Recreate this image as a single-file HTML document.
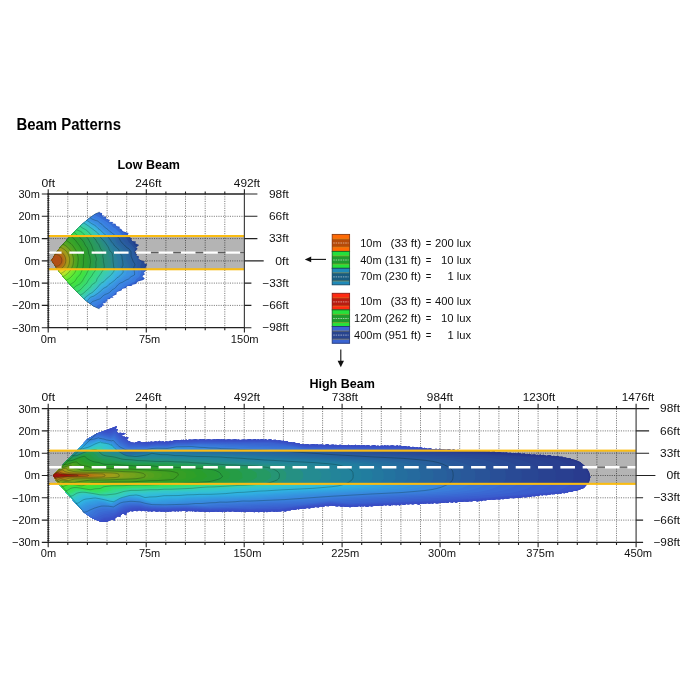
<!DOCTYPE html>
<html lang="en"><head><meta charset="utf-8"><title>Beam Patterns</title>
<style>html,body{margin:0;padding:0;background:#fff}svg{display:block}</style>
</head><body>
<svg width="700" height="700" viewBox="0 0 700 700" font-family="'Liberation Sans', sans-serif" font-size="11" fill="#111">
<rect width="700" height="700" fill="#fff"/>
<text x="16.4" y="130" font-weight="bold" textLength="104.6" lengthAdjust="spacingAndGlyphs" font-size="16" fill="#000">Beam Patterns</text>
<text x="117.4" y="168.9" font-weight="bold" textLength="62.6" lengthAdjust="spacingAndGlyphs" font-size="12" fill="#000">Low Beam</text>
<text x="309.4" y="388" font-weight="bold" textLength="65.5" lengthAdjust="spacingAndGlyphs" font-size="12" fill="#000">High Beam</text>
<g>
<path d="M67.8,194 V327.7 M87.4,194 V327.7 M107.1,194 V327.7 M126.7,194 V327.7 M146.3,194 V327.7 M165.9,194 V327.7 M185.5,194 V327.7 M205.2,194 V327.7 M224.8,194 V327.7 M48.2,216.3 H244.4 M48.2,238.6 H244.4 M48.2,260.9 H244.4 M48.2,283.1 H244.4 M48.2,305.4 H244.4" fill="none" stroke="#7c7c7c" stroke-width="1" stroke-dasharray="1.1 1.2"/>
<clipPath id="cl"><rect x="48.2" y="194" width="196.2" height="133.7"/></clipPath>
<g clip-path="url(#cl)">
<path d="M48.2,252.6 H244.4" stroke="#6a6a6a" stroke-width=".9" fill="none"/>
<clipPath id="lbe"><path d="M51.5,260.2 54.8,254.8 58.6,249.3 64,243 70.8,235.5 78.7,227.4 81.5,224.7 88.8,218.5 95,214.1 99.4,211.9 100.1,212.5 100.3,212.8 101.9,213.1 102.2,213.8 101.9,215.3 104.4,215.5 102.4,216.7 106.2,216.6 105.8,218.5 110.1,220 108.7,221.8 113.4,221.9 112,223.6 115.5,223.7 116.4,226 119.7,226.7 119.6,228.4 121.4,229 122,230.2 123,231.3 128.5,233.1 128.3,234.1 127.4,235.6 131.6,238.2 131.4,238.7 131.5,239.2 132.1,241 136,241.6 135.3,243.2 139.2,245 136.2,247.6 137.6,248.7 134.9,251.7 134.8,252.3 137.2,254.4 136,255.5 139.1,256.6 138.3,258.8 140.4,260 145.3,261.8 143.7,263.1 147.2,264.4 145.6,267.4 146.8,269.4 145.5,271.2 143.4,272.9 145.3,274.1 142.8,275.8 142.3,276.3 144.8,278.5 144.3,279 143.3,280 138,281.4 135.8,284.1 131.4,284.9 132.5,285.9 126.8,286 126.3,288 122.3,288.7 121.5,290.6 116.7,292.1 116.5,294.6 112.3,296.3 113.6,297.7 110.6,297.8 110.1,299 108.2,299.3 106.6,299.8 107.6,301.6 105,301.8 106.1,302.9 102.3,303.2 104.2,305.3 101.8,305.9 102.1,306.3 102.2,307.1 100.3,307.5 100.1,308.2 99.8,308.5 98.4,308.6 93,305.9 85.8,300.6 83.7,298.7 75.7,290.7 66.3,280.5 63.8,277.5 57.1,269 51.5,260.6Z"/></clipPath>
<path d="M51.5,260.2 54.8,254.8 58.6,249.3 64,243 70.8,235.5 78.7,227.4 81.5,224.7 88.8,218.5 95,214.1 99.4,211.9 100.1,212.5 100.3,212.8 101.9,213.1 102.2,213.8 101.9,215.3 104.4,215.5 102.4,216.7 106.2,216.6 105.8,218.5 110.1,220 108.7,221.8 113.4,221.9 112,223.6 115.5,223.7 116.4,226 119.7,226.7 119.6,228.4 121.4,229 122,230.2 123,231.3 128.5,233.1 128.3,234.1 127.4,235.6 131.6,238.2 131.4,238.7 131.5,239.2 132.1,241 136,241.6 135.3,243.2 139.2,245 136.2,247.6 137.6,248.7 134.9,251.7 134.8,252.3 137.2,254.4 136,255.5 139.1,256.6 138.3,258.8 140.4,260 145.3,261.8 143.7,263.1 147.2,264.4 145.6,267.4 146.8,269.4 145.5,271.2 143.4,272.9 145.3,274.1 142.8,275.8 142.3,276.3 144.8,278.5 144.3,279 143.3,280 138,281.4 135.8,284.1 131.4,284.9 132.5,285.9 126.8,286 126.3,288 122.3,288.7 121.5,290.6 116.7,292.1 116.5,294.6 112.3,296.3 113.6,297.7 110.6,297.8 110.1,299 108.2,299.3 106.6,299.8 107.6,301.6 105,301.8 106.1,302.9 102.3,303.2 104.2,305.3 101.8,305.9 102.1,306.3 102.2,307.1 100.3,307.5 100.1,308.2 99.8,308.5 98.4,308.6 93,305.9 85.8,300.6 83.7,298.7 75.7,290.7 66.3,280.5 63.8,277.5 57.1,269 51.5,260.6Z" fill="#305ac6"/>
<g clip-path="url(#lbe)">
<path d="M49,205 86.1,205 89,207.6 91.5,208.6 92.5,209.1 95.5,211.8 96.5,212.5 99,214 100.5,215.4 104,217.1 105.5,218 110,221.8 115,225 119.5,229.1 121,230.7 125,233.4 127,235 129.9,239.5 132.6,241.5 134.5,244.9 135,245.4 136.5,246.4 136,248 134.6,251.5 134.8,252.5 140.1,260.5 143.2,262.5 144.7,264 144.9,264.5 145,268.5 145,270.5 144.2,272 144.1,272.5 142.3,275.5 142.2,276.5 143,278 137.5,280.7 133.5,283.3 128,285.4 117.5,291.6 112.5,296.3 108,298.7 102.7,304.5 99,308 97.5,310 96.5,310.7 93.1,312.5 90.5,314.3 88.5,315.1 84.8,316 49,316 49,205.5ZM138.4,247.5 138.5,247.4 139,247.7 139.7,248.5 142.5,254.4 142.8,255.5 142.7,258 143,258.9 144.7,260 145.1,260.5 145.4,261.5 145,261.6 144,260.8 141.5,259.4 136.6,252 136.5,251.5 138,247.7ZM145,274.5 145.1,274.5 145.3,275 145.4,276 145.1,277 145,277.1 144.5,276.8 144.1,276 144.5,275.3 144.9,275ZM130.2,286.5 130.8,286.5 130.5,286.8 128.5,288 125.8,290.5 123.2,292.5 119,294.7 115.1,297.5 114,297.9 113.9,297.5 118.6,293 121,291.7 126.5,288.4 127,288.2 128,287.5 128.5,287.4 128.8,287 130,286.8ZM113.4,298 113.8,298 113.5,298.1ZM111.4,299 111.7,299 111.5,299.2ZM110.3,299.5 111.2,299.5 110,300.8 108.5,301.6 108,301.8 107.9,301.5 109,300.2 110,299.8Z" fill="#356bd3"/>
<path d="M49,205 81,205 82.3,206 83.9,207.5 85.5,208.1 86.5,208.8 88.5,210.9 89.5,211.3 91.5,211.7 92.5,212.2 94,213.4 95.6,215.5 99.5,217.3 102,219 104.6,220.5 110.8,224.5 111.5,225.2 112.7,227 115.5,228.6 118.5,231.6 122.5,235.1 125.5,237.1 127.8,240.5 128.9,242.5 131,244.3 135,249 134.1,251.5 134.1,252 134.4,253 139.4,260.5 140,261.3 140.5,261.5 141,262 141.4,263 141.4,263.5 140.5,265 140.3,266 140.6,269 141.1,271.5 140.9,273 140.1,275 139.8,276 139.5,276.4 138.5,277.4 136.2,279 135.1,281 134.6,281.5 132,282.5 129.7,284 128.6,284.5 128,284.6 126,286 117,291.3 112,296 111.5,296.2 107.5,298.4 106.5,299.4 104,300.8 103.1,301.5 101.3,303.5 98.5,304.8 97.4,305.5 96.5,306.3 94.9,308.5 93.5,309.6 91.5,310.6 89,312 82.5,314.6 81.5,315.3 80.7,316 49,316 49,205.5Z" fill="#3a7ce0"/>
<path d="M49,205 72.1,205 73.5,205.8 76,206.4 78.5,207.9 80.5,208.8 82,209.6 85,210.3 85.5,210.7 87,212.6 89.5,214.5 91.5,216.3 93.5,217.5 94.5,218 95.5,218.3 97.5,218.6 98.5,218.9 99.3,219.5 101,221.1 103.4,222.5 105.5,224.4 108.3,226.5 110,228.9 110.6,229.5 111.5,230.1 114,231.3 115.7,233 118.5,234.9 119.9,236 120.8,237 122,238.8 126.2,243.5 127.5,244.7 130.3,246.5 131.3,247.5 132.3,249 133.2,250.5 133.6,253 134.1,254 136,256.4 137,258 137.2,259.5 137.2,262 137.7,264.5 137.7,265.5 137,268.5 138,270.3 138.1,271 137.8,274.5 137.6,275.5 137,276 135,277 133.5,278 132.4,279 131.2,280.5 130.5,281 128.5,282.1 125,283.5 123.6,284.5 121.1,287 114.5,291.1 111.9,293.5 108,295.8 105.5,296.9 104.5,297.5 102,299.9 101,300.6 99.5,301.6 97.5,302.5 96.1,303.5 95,304.5 94,306 93,307 90.5,307.8 90,308.3 89,309.6 88,310.5 86.5,311.2 84,311.9 80.5,313.2 79.3,314 77.5,316 75.2,316 74.2,315.5 73.5,315.4 73,315.5 72.2,316 49,316 49,205.5Z" fill="#3b84e1"/>
<path d="M49,205 56.1,205 57,205.4 58,205.6 60,205.4 63.5,205.4 64.5,205.7 66.5,206.6 69.5,206.6 70.5,206.8 76.2,209.5 79.5,210.6 80.5,211 85.5,213.8 88.3,216.5 92,219.1 94.5,220.2 97,220.8 98,221.3 99.8,223 102.2,224.5 104.5,227.2 107.9,229.5 110,231.7 112,233 113,234 114.5,235.1 118.6,237.5 119.3,238.5 120.5,241 122.1,243 124.3,245 126,247.1 127,247.8 128.4,248.5 129,249 130.8,251.5 131,252.5 131,255.5 131.2,256.5 133.1,261.5 134.5,263.5 134.9,264.5 134.7,265.5 134,266.6 133.8,267.5 133.8,268.5 134.5,272.5 134.6,274 134.4,275 131,276.7 128.5,279 126,280 122.5,282.2 120,283.1 117.5,285.2 115.5,287.7 114.5,288.4 112,289.9 110.1,292 108,293.4 105.5,294.3 104,295.1 102.5,296.3 101,298 100,298.8 99,299.2 97,299.8 95,300.7 93.5,301.1 92.5,301.5 89.5,304.6 87,307.6 86,308.5 83.5,309.5 82,310.2 79.5,310.7 77.5,312.1 76.5,312.5 73,313.4 70.5,314.8 68,315.3 66.2,316 54.2,316 53,315.6 52,315.5 50,316 49,316 49,205.5Z" fill="#3b8ce1"/>
<path d="M55.5,207.5 57,207.4 59.5,207.5 61,207.7 62.5,208 67.5,208.6 69.5,209.3 71.5,210.1 76.5,211.6 80,213.1 85,216.1 86.5,217.5 89,219.4 90.5,220.6 94,222.1 97.5,224.2 100,226.4 102,227.8 104,229.7 106.5,231.3 109,233.7 112,235.5 116.3,238.5 117.1,239.5 117.6,241.5 118.5,243 120,244.3 121.5,245.3 122.3,246 124.3,248.5 127,251.2 127.9,252.5 128.5,254.5 128.8,258.5 130.4,261.5 130.7,264 131.9,269.5 131.8,273 131.5,274 131.1,274.5 129.5,275.3 127.5,276.6 125.1,277.5 123,279.5 122,280.2 119,281.3 116,283.9 114,286.2 113.5,286.6 112,287.1 110.6,288 107.5,290.9 104,292.3 97.5,296.8 95,298.2 92,299.6 91,300.3 89.5,301.9 87.3,303.5 84,306.4 82,307.5 78.5,308.6 74.5,310.9 70,312.7 69,312.9 66.5,312.9 63.9,313.5 62,314.1 61,314.2 56.5,314.2 53,313.9 49,314.1 49,208.2 52,207.7 55.5,207.5Z" fill="#3b93e1"/>
<path d="M55.1,208.5 57,208.3 59,208.4 63,209.1 67,209.5 68.5,210 71,211 76.5,212.7 80.5,214.5 83,216 90,221.2 94,223.2 96.7,225 99,227.2 101.5,229 103.1,230.5 105.5,232.3 109.5,235.7 113,238 114.3,239 115.3,240.5 116.3,243 117,244.1 117.8,245 119.9,246.5 121,247.5 124.3,251.5 125.3,253 126.1,255 126.3,256.5 126.2,258.5 126.3,259.5 126.6,260.5 128.4,264.5 128.7,265.5 128.9,266.5 128.5,268.3 128,269.4 126.9,271 126.5,272 126.1,274 125.3,275 123.5,276.2 121.5,278.2 118,280.1 114.6,283 112.6,285 110.5,286.3 108.5,288 103,291.5 95,297 91.5,298.6 90.4,299.5 89,301.1 84,305.1 81.5,306.6 78,307.8 75,309.5 72,310.7 69.5,311.4 66.5,311.9 60.5,313.1 58.5,313.1 55,312.9 51.5,313.1 49,312.9 49,209.3 52,208.7 55,208.5Z" fill="#3b9ce1"/>
<path d="M55,209.5 58.5,209.4 63,210.1 66.5,210.3 67.5,210.6 70.5,211.9 75.7,213.5 78,214.6 80,215.4 82.5,216.7 86,219.4 88,220.6 89.5,221.8 91.5,223 94,224.4 96,225.7 98.5,228.2 100.5,229.7 102.5,231.6 107.4,235.5 108.4,236.5 109.5,237.8 111.5,239.6 112.5,241 113.5,242.2 115.2,245.5 117.5,247.2 119.5,249 120,250 120.4,252 120.6,252.5 122.7,255.5 123.1,259 124.6,262.5 125.6,264.5 125.8,265.5 125.7,266 124.5,267.2 124.2,268 124.1,272 124,273.1 123.5,273.7 121.7,275 120,277 117,278.8 115.3,280.5 113.3,282 111.5,283.6 109.5,285 108.2,286.5 107.6,287 104.5,288.6 101,291.6 94.5,296.1 93.5,296.6 91.5,297.3 90.5,297.9 89.5,298.9 88.3,300.5 84.5,303.6 80.5,305.9 78,306.8 75.5,308 71,310 64,311.4 59.5,312.1 57.5,312.1 54.5,311.8 51.5,312.1 49,311.8 49,210.2 52,209.7 55,209.5Z" fill="#3ba5e1"/>
<path d="M54.2,210.5 58.5,210.5 60.5,210.7 63.5,211.2 66,211.4 73.9,214 75.5,214.7 77.5,215.8 80.5,216.8 81.8,217.5 85,220 88,221.7 91.5,224.4 95.3,226.5 97.8,229 100,230.8 101.3,232 103.5,234.6 107.5,237.7 109.3,240 110.5,242.7 112.5,244.5 114.5,247.2 116.6,249 117.5,250 117.9,251 118.2,252.5 118.5,253.2 119,254 120.4,255.5 120.8,256.5 120.8,259 121.2,261 121.1,264.5 120.9,265 119.9,266 119.7,267 120,268 121,269.5 121.5,270.5 121.6,271.5 121.3,272.5 118.5,275.3 116.5,276.5 115,278.8 114,279.8 110.5,282.3 108.1,283.5 106.7,285.5 106.2,286 102.5,288 97.2,293 94,295.2 91,296.4 90,297 88.9,298 86.9,300.5 85,302.2 84,302.9 82,303.7 79.7,305 77.5,305.8 75.3,307 70.5,309 67.5,309.5 64,310.4 58.5,311 57,311 54.5,310.6 51.5,311 49,310.7 49,211 54,210.5Z" fill="#3bafe1"/>
<path d="M53.4,211.5 56,211.4 61.5,211.9 68,213.2 74,215.3 77,216.8 81.1,218.5 85,221.3 88.7,223.5 90.5,225.2 91.5,225.9 95,227.9 97.2,230 99.5,231.9 100.9,233.5 102,235.5 102.4,236 104.3,237.5 106.5,238.9 107.6,240 108.3,241 108.6,242.5 109.1,243.5 111.4,246 113.3,249.5 115.3,251.5 116,252.5 116.5,254 116.6,256.5 117.3,258.5 117.6,260 117.7,262.5 117.4,265 117.4,266 117.6,267 118.5,269.5 118.7,270.5 118.5,271.8 118.1,272.5 116.1,274 115.5,274.6 114.9,275.5 113.8,278 113,278.9 111,280.2 110,280.6 108.5,280.9 107.5,281.4 106.5,282.4 104.6,285 103.8,285.5 102,286.3 101,287 98.5,289.5 96.3,292 93.9,294 93,294.6 90.5,295.6 89,296.6 88,297.5 85.1,301 84,301.9 81,303 79,304 77,304.8 74.5,306.2 70.5,307.8 67.5,308.3 64,309.3 61,309.6 58,310 56.5,309.9 54,309.5 51,309.7 49,309.5 49,211.9 53,211.5Z" fill="#3bb7db"/>
<path d="M49.2,213 51,212.7 56,212.6 58.5,212.9 61.5,213 64.5,213.5 68,214.3 73.5,216.4 75.8,217.5 78.5,218.6 79.5,219.2 81.5,220.6 83.5,221.7 88,224.6 90.5,226.6 94.5,229.3 99,233 99.8,234 100.7,236 101.4,237 103,238.4 106,240.7 106.8,241.5 107.5,243.5 109.9,247 110.9,249.5 113.4,252 113.9,253 114.2,254 114.2,260.5 114.9,263.5 115.3,267 116.3,270 116,271 114.5,272.9 112.5,276.1 111.5,277.4 110.6,278 108.5,278.8 107.5,279.4 104.5,282.8 103.5,283.5 101.5,284.6 100.5,285.4 96.5,289.8 93.3,293 92.5,293.5 89.5,295.1 86.5,297.5 85.6,298.5 84.5,300.1 83.5,301 82.5,301.5 80.5,302.1 78.5,303 76.5,303.7 74,305.3 73,305.7 70,306.8 67.5,307.2 64.5,308 57.5,308.8 51.5,308.5 49,308.2 49,213Z" fill="#3bbdce"/>
<path d="M53.2,214 55.5,213.9 59,214.2 63,214.3 64.5,214.5 68,215.6 70.5,216.6 73,217.4 75.5,218.6 77.5,219.3 78.5,219.9 81,221.7 83.5,223 87.5,225.6 93.5,230 97.9,233.5 98.7,234.5 100,237.4 102.1,239.5 104.3,242 107.5,246.5 108.3,248 108.7,249.5 109.5,251 111.5,253.5 112.6,257.5 112.7,261 113.1,264.5 113.1,266.5 113.8,269 113.8,270 113.2,271.5 109.2,276 106.5,278.2 104,281.2 103,281.8 101.5,282.5 100.5,283.3 96.1,288.5 92.5,291.9 89,294.2 85.4,297 84.5,298 83.5,299.4 82.9,300 82,300.5 79.5,301.2 76.5,302.4 75.5,303 73.5,304.3 72,304.9 64.5,306.9 58.5,307.6 52.5,307.6 49,306.8 49,214.3 50.5,214.1 53,214Z" fill="#3bc3c2"/>
<path d="M49,215.5 54.5,215.1 63.5,215.4 64.5,215.6 67,216.5 72.5,218.3 78,220.8 81.5,223.2 87.7,227 90,229 93,231 95,233.2 97.5,235.4 98.8,238 100.8,240 102.9,242.5 104.3,245 105.6,247 108.1,252.5 108.9,256.5 109.1,257 110.5,258.3 110.8,259 110.9,260 111,263.5 110.9,265 109.6,270.5 108.9,272.5 108.3,273.5 105.7,276 103.5,279.3 102.7,280 101,281 100,281.8 97,285.8 92.8,290 91.5,291.1 88.5,293.1 85,295.9 82.5,298.5 82,298.9 78,300.3 75.5,301.6 72.5,303.3 71.5,303.7 68.5,304.2 65.5,305.3 63.5,305.8 58.5,306.4 56,306.4 53,306.7 52,306.5 49,305.5 49,216Z" fill="#3bc9b5"/>
<path d="M49.5,216.5 54,216.2 59,216.3 63,216.5 64,216.7 66.5,217.6 71,218.8 72.5,219.4 78.5,222.3 80,223.3 83,225.7 84.5,226.7 87.2,228 89.3,230 92.1,232 93.8,234.5 96,236 96.5,236.5 97.9,239 99.8,241 101.7,243.5 102.7,246 104.8,249 106.4,252.5 106.8,254.5 106.5,257.5 108,261.5 108,262.5 107.5,264.1 107.4,265.5 107.5,267.5 107.8,270.5 107.3,272 106.8,272.5 105,273.9 103.9,275 101.7,278 99.5,280 99,280.6 97.8,283 97,284 96,285 94,286.5 92.5,288.5 91.5,289.6 87,292.8 81.5,297.5 78,298.9 72.5,301.9 71,302.5 68,303 62.5,304.6 59,305.1 55.5,305 53,305.4 50.5,304.7 49,304.4 49,216.5Z" fill="#3bcdaa"/>
<path d="M50.7,217.5 53,217.2 56,217.3 58.5,217.3 63.5,218 66,218.7 69.5,219.4 71,219.8 75.5,222.1 78,223.2 79,223.8 81.8,226.5 83.5,227.6 86.5,229.1 88.5,231 91,233 93,235.7 95.4,237.5 97.5,240.7 100.1,244 101.4,247.5 103.6,250.5 104.5,252.5 104.7,253.5 104.8,254.5 104.2,257 105.1,260.5 105.1,263.5 105.6,267.5 105.6,270 105,270.8 103,272.7 98.5,278.6 97.9,279.5 97,282 96.5,282.8 95.5,283.7 93.8,284.5 93,285.1 91.2,288 90,289.2 86.5,291.7 83.5,294.2 81.5,295.7 78.5,297.2 73,300.4 71.5,301.1 69.5,301.7 64,302.7 61,303.7 58.5,303.9 55.5,303.7 53.5,303.7 49,303.3 49,217.7 50.5,217.5Z" fill="#3bd19f"/>
<path d="M51.4,218.5 53.5,218.2 58.5,218.4 69.5,220.5 71.5,221.2 74.5,223 78.1,224.5 79,225.2 80.1,226.5 81,227.3 85.5,230 86.5,230.7 89.6,233.5 92,236.5 94.6,239 95.4,240 96.6,242.5 98.2,244.5 100,248.6 101.7,251 102.3,252.5 102.5,253.5 102.3,256.5 102.9,259 102.9,261.5 103.8,265 103.7,267 102.9,269.5 100.3,273.5 96.8,278.5 95.7,281.5 94.7,282.5 93,283.4 92,284.2 89.5,287.3 87.5,288.9 84,292.4 83,293.2 81.5,294.1 79,295.2 76.5,297 72.5,299.4 70,300.5 68.5,300.9 64,301.4 61,302.5 60,302.7 58,302.7 53.5,302.3 49,302.2 49,219.1 51,218.6Z" fill="#3bd593"/>
<path d="M52.1,219.5 53.5,219.3 58.5,219.6 66.1,221 71,222.3 74,224.2 76.5,225 77.6,225.5 80.1,228 85.5,231.4 88.8,234.5 92.5,239.2 93.7,240.5 94,241 94.7,243 96.2,245 98.3,249.5 100,251.8 100.5,253 100.6,256.5 101.1,259 101.3,262 102,264.5 101.9,265.5 100.8,267.5 100.4,270 99.9,271.5 95.1,278.5 94,280.5 93.2,281.5 90.2,284 88.5,286 86.5,287.7 84.2,290.5 82.5,292.1 81.5,292.7 78.5,294.1 76,296.1 72.5,298.1 70.8,299 69,299.6 65.5,299.9 63,300.5 60.5,301.3 59.5,301.5 57,301.6 53.5,301.1 49,301.1 49,220.3 52,219.5Z" fill="#3bd988"/>
<path d="M51.1,221 53,220.7 58.5,220.7 65,221.9 68,223 70.5,223.6 76.5,226.5 78.8,228.5 83.8,231.5 85,232.5 87,234.5 90.3,238.5 92.4,242 93.4,244 94.6,246 95.7,248.5 97.9,252.5 98.6,254.5 98.9,257 99.4,259 99.5,260.5 99,263.5 99.1,265.5 98.7,268 98.5,270.4 98.1,271.5 97.5,272.5 95.1,276 92.3,279 90.7,281.5 89,283.3 87.8,285 85.5,287 84,288.9 82.5,290.5 81,291.7 78,293.1 75,295.3 72.1,297 70.5,297.8 69,298.3 65.5,298.6 62.5,299.3 60,300.1 57.5,300.5 56,300.4 52.5,299.9 49,299.8 49,221.5 51,221Z" fill="#3bda7f"/>
<path d="M54.4,222 57.5,221.8 59,221.9 62,222.7 64.5,223 67,224 70.5,224.9 74,226.5 75,227.2 77,229.1 81,230.9 83,232.3 85,234.5 86.5,235.9 88.7,238.5 92.1,244.5 92.8,246 93.8,249 95.2,251 95.6,252 96.2,254.5 97,256.5 97.6,259.5 97.4,260.5 96.7,262.5 97,266 96.3,270.5 96,271.3 94.2,273.5 91.9,277 89.5,280 87,284 84.8,286 83.5,287.7 82,289.2 80,290.9 74.3,294 70.5,296.4 69,296.9 62,298.1 59,299 57,299.3 56,299.2 51.5,298.3 49,298.5 49,222.8 52,222.2 54,222Z" fill="#3bdb77"/>
<path d="M52,223.5 56.5,223.1 58,223.1 61.5,223.9 64.5,224.2 67,225.2 69.5,225.8 71.1,226.5 73.5,228 77,230.5 80.5,232 81.5,232.6 82.3,233.5 83.5,235.1 85.5,236.8 86.6,238 90.4,244.5 91.1,246 92.3,249.5 94.1,252.5 94.4,255 95.2,257.5 95.5,259 95.1,262 95.2,265.5 94.6,270 94.1,271 92.6,273 90.7,276.5 88.5,278.9 86.5,282.5 85.7,283.5 83.9,285 82,287.1 79,290 77,291.2 73,293 70.3,295 69,295.4 64.5,296.4 62,296.8 58.5,297.7 57,297.8 51.5,297 49,297.3 49,224.3 52,223.5Z" fill="#3bdb6e"/>
<path d="M52.6,224.5 57.5,224.5 61,225.1 64,225.3 66.5,226.2 69,226.8 70.2,227.5 72.5,229.3 75,230.4 80.1,233.5 81.9,235.5 85,238.4 86.9,242 89.1,245 90.4,248.5 92.2,252.5 93.3,257 93.6,259.5 93.7,263.5 93.2,266.5 93.1,268.5 92.8,269.5 91.1,272.5 90,275 89.3,276 87.5,277.9 86,280.9 85,282.4 77.8,289 76.5,289.9 74,291 70,293.3 69,293.8 66,294.8 59,296.3 51.5,295.8 49,296 49,225.6 52.5,224.5Z" fill="#3bdc65"/>
<path d="M52.6,225.5 53.8,225.5 59,226.2 63.5,226.5 68,227.8 69.5,228.5 72,230.3 74.5,231.4 75.5,231.9 78.9,234.5 82.1,237.5 83.8,239.5 84.8,241 86.4,244 87.7,245.5 88.3,246.5 90.2,251.5 91.5,256.5 92.4,261.5 92.4,263 91.8,266 91.6,267.5 90.9,269.5 88.5,274.3 86.1,277.5 84.7,280.5 82,283.7 81,284.6 78.2,286.5 75.9,288.5 71,291.4 65.5,293.6 62.5,294.1 59.5,294.9 56.5,294.7 53.5,294.9 49,294.6 49,227 51.5,225.8 52.5,225.5Z" fill="#3ddd5c"/>
<path d="M51.6,227 52.5,226.6 53.5,226.5 57.5,227.4 61.5,227.7 66.5,228.7 68.5,229.4 71.5,231.2 74.5,232.5 75.9,233.5 78.4,236 80.7,238 83.3,241 84,242.1 85.4,245 87.3,247.5 88.2,249.5 88.5,251 88.9,253.5 90,256.5 90.8,261.5 90.8,262.5 89.9,268 86.2,275 84.8,277 83.6,279.5 81.5,282.6 80,284 78.5,285 76,286.3 74.1,288 71.5,289.8 70,290.5 67.5,291.3 65,292.5 62,292.9 59.5,293.5 56.5,293.5 53.5,293.8 49,293.1 49,228.5 50,228.1 51.5,227.1Z" fill="#3ede53"/>
<path d="M52.6,228 54,227.9 56.9,228.5 61,228.9 64,229.8 67,230.1 69,230.8 74.5,233.8 77,236.4 80,239.1 82.4,242 84,245.3 85.9,248 86.4,249 87.2,253 88.5,256.5 88.7,257.5 88.6,260 88.8,262.5 88.7,266 88.6,267 88,268.4 86,271.9 84.9,274.5 81,281 80.2,282 78.7,283.5 77.5,284.3 75,285.3 72.5,287.7 70.5,288.8 67.5,290 65,291.3 63.5,291.6 61,291.8 59,292.3 56.5,292.3 54,292.7 53,292.6 49,291.9 49,229.7 50.5,229.1 52.5,228Z" fill="#3fdf4a"/>
<path d="M52.9,229.5 54,229.4 59.5,229.8 61,230.1 63.5,231.1 67,231.3 68.7,232 73.5,234.7 79,239.8 80.5,241.4 81.3,242.5 82.7,245.5 84.7,249 85.5,252 87.1,256.5 87.1,257.5 86.9,260 87.2,264.5 87,266.5 85,270.8 84,273.5 81.5,277.8 78.2,282 77.3,283 74.5,284.4 71.5,286.8 65,290 64,290.4 61,290.6 58,291.1 54.5,291.3 53,291.3 49,290.7 49,230.9 52.5,229.6Z" fill="#41e143"/>
<path d="M52.5,231 56.5,230.7 58.5,230.8 60,231 63.5,232.2 67,232.6 68,233 71,234.7 73.5,236.3 76,238.5 78,240.5 79.4,242 80.1,243 83.4,249 85.6,256 85.5,259.5 85.7,263 85.5,265.5 83.1,272.5 81,276.3 78.6,279 76.9,281.5 75.9,282.5 71,285.8 64.5,288.9 63,289.4 60.5,289.5 57.5,290 54.5,290.1 50.5,289.7 49,289.4 49,232 52.5,231Z" fill="#44e242"/>
<path d="M54.7,232 56.5,231.9 58,232 60,232.4 62.5,233.1 66.5,233.7 70.5,235.7 73.5,237.8 75.9,240 78.5,243.3 80,245.4 82.5,249.8 83.2,252.5 84.2,255 84.3,256 84,259.5 84.2,262 84.1,263.5 83.5,267 82.1,271.5 81.2,273.5 80.3,275 79.5,276 77.5,278.1 75.3,281.5 74.1,282.5 70.5,284.8 64,287.7 62.5,288.1 56,288.9 54,288.9 50.5,288.5 49,288.2 49,233 54.5,232Z" fill="#47e440"/>
<path d="M52.8,233.5 55,233.1 56.5,233.1 61,234.2 65,234.7 66.5,235.1 69,236.2 71.3,237.5 73.1,239 74.5,240.4 76.5,243.5 78.4,245.5 79.1,246.5 81.4,250.5 82.1,253 82.9,255.5 82.9,257 82.4,260.5 82.5,263.5 82.3,266.5 81.1,270.5 79.4,274 78.6,275 76.5,277.2 74.3,280.5 73,281.8 69.4,284 68,284.7 62.5,286.7 61,287.1 55,287.8 51,287.3 49,286.8 49,234 52.5,233.6Z" fill="#4ae63e"/>
<path d="M53.4,234.5 55,234.3 56,234.3 61,235.6 64.5,236 68.5,237.4 70.5,238.6 73.5,241.4 75.6,244.5 78.2,247.5 80.1,251 81.6,256 81.6,258 81.2,261 81.3,264.5 81.1,266.5 80.3,269 78,273.7 75.5,276.5 74,278.6 73,279.8 68.6,283 67,283.8 63.5,284.9 61,285.9 60,286.2 55.5,286.5 54,286.5 51.4,286 49,285.1 49,235 53,234.6Z" fill="#4ee83c"/>
<path d="M49.8,236 54.5,235.5 56.5,235.7 61.5,237 64,237.3 65.5,237.7 67,238.3 69,239.5 71.5,241.4 72.8,242.5 77,248 78.8,251.5 80.3,256 80.4,258 80.1,261.5 80,265 79.8,266.5 79.3,268 77.3,272.5 76.6,273.5 74.5,275.9 72.5,278.5 71.3,279.5 67.9,282 66,282.9 63.5,283.6 60.5,284.7 59.5,284.9 55,285.2 53.5,285.2 52,284.9 49,283.7 49,236.2 49.5,236Z" fill="#55e83a"/>
<path d="M52.4,237 54.5,236.7 56.5,236.8 59,237.3 62,238.4 65,238.8 66.6,239.5 71,242.6 72.1,243.5 73.4,245 76.4,249.5 78,253 78.8,255.5 79.1,257 79.2,259.5 78.6,265.5 78.2,267 76.4,271.5 75.6,273 71.5,277.8 69.5,279.4 65.5,281.7 61,283.2 59,283.7 56,283.9 53.5,284 52,283.6 49,282.6 49,237.9 50.5,237.4 52,237.1Z" fill="#5de837"/>
<path d="M53.3,238 55,237.8 57.5,238 59,238.4 61.5,239.4 65,240 66,240.5 70.5,243.7 72.5,245.6 75.4,250 76.7,253 77.8,257 78,260.5 77.5,265 75.2,271.5 74.3,273 70.7,277 68.9,278.5 64,281.1 62,281.8 59,282.5 56.5,282.8 53.5,282.8 52,282.5 49,281.5 49,239.4 51.5,238.4 53,238.1Z" fill="#64e834"/>
<path d="M54.5,239 56.5,239 58,239.2 61.5,240.5 64.5,241.1 67.7,243 70.8,245.5 72,246.7 73,248 74.2,250 75,251.5 75.7,253.5 76.4,256 76.9,259.5 76.7,263.5 76.1,266 73.9,271.5 73.4,272.5 72,274.1 70.5,275.7 68.5,277.4 64.5,279.7 62,280.7 57,281.7 55,281.8 53,281.6 49,280.4 49,240.5 52,239.5 54,239.1Z" fill="#6ce831"/>
<path d="M52.6,240.5 55.5,240.1 57,240.2 58,240.4 64,242.2 66,243.2 67.5,244.1 71.5,247.7 73.1,250 74.6,253.5 75.4,256.5 75.8,258.5 75.8,261.5 75.6,264 75.2,265.5 72.9,271 71.5,273 70.2,274.5 67.8,276.5 64.5,278.5 62,279.5 57.5,280.5 55.5,280.7 53,280.5 51.5,280.2 49,279.3 49,241.6 52.5,240.5Z" fill="#78e830"/>
<path d="M53.2,241.5 56,241.3 58.5,241.7 63,243 65.5,244.1 67,245 70.8,248.5 71.9,250 72.7,251.5 73.8,254.5 74.5,257 74.8,259 74.8,262 74.5,264 74.2,265.5 71.9,270.5 70.1,273 69.1,274 66.7,276 63.5,277.9 61.5,278.6 57,279.5 55.5,279.7 52.5,279.3 49,278.2 49,242.6 53,241.5Z" fill="#87e82f"/>
<path d="M53.4,242.5 55,242.3 56.5,242.3 60.5,243.1 63.5,244.2 65.5,245.2 66.5,245.9 70,249.1 71.1,250.5 71.8,252 72.9,255 73.7,258 73.9,261 73.4,264.5 73,266 72.1,268 70.5,270.9 68.7,273 65.5,275.7 62.5,277.2 59.5,278.1 56.5,278.5 54,278.5 52,278.2 49,277.2 49,243.6 53,242.6Z" fill="#97e82e"/>
<path d="M53.1,243.5 55,243.2 56.5,243.2 60,243.9 62.5,244.7 65.8,246.5 69,249.5 70.2,251 70.8,252 71.8,254.5 72.7,257.5 72.9,260.5 72.6,264 72.2,265.5 71.4,267.5 70,270 67.9,272.5 65,274.9 62,276.4 59.5,277.2 56.5,277.5 53.5,277.5 51.5,277.1 49,276.2 49,244.5 53,243.5Z" fill="#a6e82d"/>
<path d="M52.6,244.5 54.5,244.2 56,244.1 59.5,244.6 62,245.4 65,247 67,248.7 69.4,251.5 70,252.5 70.8,254.5 71.8,257.5 72,260 71.6,264 70.9,266.5 69.6,269 67.5,271.7 65,273.8 62,275.5 59.5,276.3 56.5,276.6 53.5,276.5 51.5,276.1 49,275.2 49,245.5 52.5,244.5Z" fill="#b5e82c"/>
<path d="M55.4,245 58,245.2 61,245.9 64,247.4 66,248.8 68.4,251.5 69.3,253 70.7,256.5 71,258 71.1,259.5 70.8,263.5 70.3,265.5 69.3,268 67.4,270.5 65,272.8 62.5,274.4 60,275.3 56.5,275.7 54,275.7 52.5,275.5 50.5,274.9 49,274.2 49,246.4 52,245.5 55,245Z" fill="#c0e52b"/>
<path d="M53.5,246 56.5,245.9 60,246.4 62,247.2 65,249.1 66.5,250.5 68.4,253 69.6,256 70.3,258.5 70.3,260.5 69.9,264 68.8,267 67.6,269 65.8,271 63.3,273 60.5,274.3 58,274.8 55.5,275 53.5,274.9 51.5,274.3 49,273.2 49,247.3 51.5,246.4 53.5,246Z" fill="#cbe32a"/>
<path d="M52.4,247 55.5,246.7 58.5,246.9 60.5,247.4 63,248.7 65,250.1 67,252.3 68,254 69.1,257 69.6,259.5 69.4,262.5 68.8,265 67.6,267.5 66,269.7 63.5,271.9 62,272.8 59.5,273.7 56.5,274.2 54,274.1 51.5,273.5 49,272.3 49,248.2 52,247.1Z" fill="#d5e12a"/>
<path d="M54.1,247.5 57,247.5 59.5,247.9 61.5,248.7 64,250.3 65.8,252 67,253.7 68.2,256.5 68.8,259 68.8,261.5 68.3,264 67.3,266.5 66,268.5 64,270.5 61.9,272 59.5,272.9 56.5,273.4 54.5,273.4 53,273.2 51,272.5 49,271.4 49,249.2 50,248.6 51.5,248 54,247.5Z" fill="#e0df29"/>
<path d="M52.6,248.5 55,248.2 58,248.3 60,248.8 62,249.8 63.7,251 65.6,253 66.8,255 67.7,257.5 68.1,260 68,262 67.3,264.5 66.2,267 64.5,269 62.5,270.7 60.5,271.8 58.5,272.4 56,272.8 53.5,272.5 51,271.7 49,270.6 49,250.2 50.5,249.2 52.5,248.5Z" fill="#ebdc28"/>
<path d="M53.8,249 56.5,248.9 58.5,249.1 60.5,249.8 62.5,250.9 64.3,252.5 65.8,254.5 66.7,256.5 67.3,259 67.4,261 67.1,263 66.2,265.5 65,267.4 63.5,269 61.5,270.5 59.5,271.4 57.5,271.9 55,272 53,271.7 51,270.9 49,269.7 49,251.1 51,249.8 52,249.4 53.5,249Z" fill="#efd327"/>
<path d="M52.5,250 54.5,249.6 57,249.6 59,249.9 61,250.7 62.5,251.7 64.2,253.5 65.3,255 66.2,257 66.7,259.5 66.7,261.5 66.3,263.5 65.4,265.5 64,267.5 62.5,268.9 61,270 59,270.9 56.5,271.4 54,271.2 51.5,270.4 49,268.8 49,251.9 50.5,250.9 52,250.2Z" fill="#f1ca26"/>
<path d="M53.1,250.5 55,250.2 57.5,250.3 59.5,250.8 61,251.4 62.5,252.6 64.2,254.5 65.1,256 65.8,258 66.1,260 66,262 65.4,264 64.5,265.7 63.1,267.5 61.5,268.9 60,269.8 58,270.5 55.5,270.7 53,270.3 51,269.4 49,268 49,252.8 51,251.3 53,250.5Z" fill="#f4c025"/>
<path d="M53.8,251 55.5,250.8 57.5,250.9 59.5,251.4 61,252.2 62.5,253.4 63.8,255 64.6,256.5 65.3,258.5 65.5,260.5 65.4,262 64.7,264 63.9,265.5 62.5,267.2 61,268.5 59.5,269.3 57.5,269.9 55.5,270.1 53,269.6 51,268.7 49,267.1 49,253.6 50,252.7 51.5,251.8 53.5,251Z" fill="#f7b623"/>
<path d="M54.3,251.5 56,251.4 58,251.6 59.5,252.1 61,252.9 62.5,254.3 63.7,256 64.4,257.5 64.9,259.5 64.9,261 64.6,262.5 63.8,264.5 62.8,266 61.5,267.4 60,268.4 58.5,269 57,269.4 54.5,269.4 52.5,268.8 50.5,267.6 49,266.3 49,254.4 50,253.5 51.5,252.4 52.5,252 54,251.6Z" fill="#faac22"/>
<path d="M54.9,252 56.5,252 58,252.2 59.5,252.7 61,253.7 62.3,255 63.3,256.5 64,258 64.3,259.5 64.3,261 64,262.5 63.4,264 62.5,265.5 61.5,266.6 60,267.7 58.5,268.4 57,268.8 54.5,268.8 52.5,268.2 50.5,266.9 49,265.4 49,255.3 50,254.2 51.5,253.1 53,252.4 54.5,252Z" fill="#fca321"/>
<path d="M52.9,253 54.5,252.6 56,252.5 57.5,252.7 59,253.1 60.5,254 61.5,254.9 62.4,256 63.2,257.5 63.7,259 63.8,260.5 63.6,262 63.1,263.5 62.2,265 61.4,266 60.2,267 59,267.6 58,268 56.5,268.3 55,268.2 53.5,268 52,267.3 51,266.7 49.8,265.5 49,264.5 49,256.3 50.5,254.5 51.5,253.7 52.5,253.2Z" fill="#ff9920"/>
<path d="M53,253.5 54.5,253.1 56,253 57.5,253.2 59,253.7 60.3,254.5 61.3,255.5 62.1,256.5 62.9,258 63.1,259 63.3,260.5 63.1,262 62.5,263.5 62,264.5 61,265.7 60,266.5 58.5,267.3 57.5,267.6 56,267.7 54.5,267.6 53,267.2 51.7,266.5 50.5,265.5 49.6,264.5 49,263.3 49,257.4 49.8,256 50.7,255 52,254 53,253.5Z" fill="#ff9321"/>
<path d="M53.1,254 54.5,253.6 56,253.5 57.5,253.8 58.5,254.1 59.5,254.6 60.6,255.5 61.5,256.5 62.3,258 62.6,259 62.8,260.5 62.7,261.5 62.2,263 61.4,264.5 60.5,265.5 59.5,266.2 58.5,266.7 57,267.2 55.5,267.2 54,267 53,266.7 51.8,266 50.7,265 49.9,264 49.4,263 49,261.6 49,259.1 49.3,258 50,256.6 50.9,255.5 52,254.6 53,254.1Z" fill="#ff8c22"/>
<path d="M55.5,254 57,254.1 58,254.4 59,254.9 60,255.6 60.9,256.5 61.5,257.5 62,258.5 62.3,260 62.2,261 61.9,262.5 61.4,263.5 60.8,264.5 60,265.3 59,266 58,266.4 56.5,266.7 55,266.7 54,266.5 53,266.2 51.9,265.5 50.9,264.5 50.2,263.5 49.7,262.5 49.4,261 49.4,260 49.6,258.5 50.1,257.5 50.7,256.5 51.5,255.6 52.5,254.8 53.5,254.4 55,254Z" fill="#ff8523"/>
<path d="M55,254.5 56,254.5 57.5,254.7 58.5,255.1 59.5,255.8 60.3,256.5 61,257.5 61.5,258.5 61.8,259.5 61.8,260.5 61.6,262 61.2,263 60.6,264 60,264.7 59,265.4 58,265.9 57,266.2 55.5,266.3 54.5,266.2 53.5,265.9 52.5,265.4 51.5,264.5 50.7,263.5 50.2,262.5 49.9,261.5 49.8,260 50,259 50.3,258 50.9,257 51.7,256 52.5,255.4 53.5,254.9 54.5,254.6Z" fill="#ff7f23"/>
<path d="M54.7,255 56,254.9 57,255.1 58,255.4 59,256 59.6,256.5 60.5,257.5 61,258.5 61.3,259.5 61.4,260.5 61.2,261.5 60.9,262.5 60.4,263.5 59,264.9 58,265.5 57,265.8 55,265.8 54,265.6 52.8,265 52,264.4 51.2,263.5 50.7,262.5 50.4,261.5 50.3,260.5 50.3,259.5 50.6,258.5 51.1,257.5 51.9,256.5 52.5,255.9 53.5,255.3 54.5,255Z" fill="#ff7924"/>
<path d="M54.4,255.5 55.5,255.3 56.5,255.4 58.3,256 59,256.5 60,257.5 60.7,259 60.9,260 60.9,261 60.6,262 60.2,263 59,264.4 57.5,265.2 56.5,265.4 55.5,265.5 54.5,265.3 53.5,264.9 52,263.8 51.4,263 51,262 50.7,261 50.7,260 50.9,259 51.3,258 52.5,256.5 54,255.6Z" fill="#fe7623"/>
<path d="M54.2,256 55,255.8 56,255.7 57,255.9 58,256.3 59.4,257.5 60.3,259 60.5,260.5 60.4,261.5 60,262.5 59,263.8 57.5,264.8 56.5,265 55.5,265.1 54,264.7 52.5,263.7 51.9,263 51.4,262 51.1,261 51.1,260 51.5,258.5 52.5,257 54,256.1Z" fill="#fd7322"/>
<path d="M54,256.5 55.5,256.1 57,256.3 58.5,257.1 59.6,258.5 60.1,260 59.9,261.5 59.2,263 58,264.1 56.5,264.6 55.5,264.7 54.5,264.5 53,263.7 52,262.5 51.5,261 51.6,259.5 52.2,258 53.5,256.7Z" fill="#fc7021"/>
<path d="M54.7,254.5 56,254.4 57,254.6 58,254.9 59.2,255.5 60.3,256.5 61,257.4 61.5,258.5 61.8,259.5 61.8,260.5 61.6,262 61.2,263 60.6,264 60,264.7 59,265.5 58,266 57,266.2 55.5,266.3 54.5,266.2 53.5,265.9 52.5,265.4 51.4,264.5 50.7,263.5 50.2,262.5 49.9,261.5 49.8,260 50,259 50.3,258 50.8,257 51.7,256 52.5,255.3 53.5,254.8 54.7,254.5M49,253.2 51.5,251.5 52.5,251.1 54,250.7 57,250.6 58.5,250.8 60,251.4 61,251.9 62,252.6 63,253.6 64.1,255 64.7,256 65.3,257.5 65.6,259 65.8,260.5 65.7,261.5 65.4,263 64.8,264.5 63.9,266 62,268 61,268.8 59.5,269.6 58.5,270 57,270.3 55.5,270.3 54,270.2 52.5,269.7 51.5,269.3 50,268.3 49,267.5M49,248 50.5,247.4 52.5,246.8 54,246.6 56,246.5 58,246.7 59.5,247 61,247.5 62.5,248.3 65.1,250 66.5,251.5 67.6,253 68.6,255 69.3,257 69.6,258.5 69.7,260 69.5,262 69.2,264 68.7,265.5 67.8,267.5 67,268.7 65.9,270 64.2,271.5 62.8,272.5 61.5,273.2 59.5,273.9 57.5,274.2 55,274.3 53.5,274.2 52,273.8 49,272.4M49,243.9 53.5,242.8 55.5,242.6 57,242.7 60,243.3 62,243.9 64.5,245 66,245.9 69.9,249.5 71,251 71.7,252.5 73.1,256.5 73.5,258.5 73.6,260.5 73.3,263.5 73,265 72.2,267 71,269.5 70,271 68.8,272.5 65.5,275.3 63.5,276.4 61.5,277.3 59.5,277.8 56.5,278.2 54.5,278.2 52.5,278 49,276.9M49,239.1 51.5,238.2 53.5,237.7 55.5,237.6 57.5,237.8 59,238.1 62,239.3 65,239.7 66,240.2 68.5,241.9 71,243.7 72.3,245 73.4,246.5 75.7,250 76.8,252.5 77.8,255.5 78.1,257 78.3,259.5 77.7,265 77.3,266.5 75.2,272 74.2,273.5 71.1,277 70,278 68.5,279 64.5,281.2 62,282 59,282.7 56.5,283 53.5,283.1 52,282.7 49,281.8M49,233.4 54.5,232.4 56,232.4 57.5,232.5 61.9,233.5 66,234.1 67.5,234.7 71,236.5 73.1,238 75,239.7 79.5,245.6 82.1,250 82.7,252.5 83.7,255 83.8,256 83.4,260 83.5,263 83.2,266 82.9,267.5 81.8,271 80.9,273 80,274.6 77,277.8 75.4,280.5 74.5,281.6 73.4,282.5 70,284.6 68,285.5 63,287.5 61,287.9 55,288.5 50.5,288.1 49,287.7M49,228.7 50,228.3 52,227 53,226.7 54,226.8 57.5,227.6 61.5,227.9 66.5,228.9 68,229.4 69.5,230.1 71.8,231.5 74.5,232.7 75.5,233.4 78.1,236 80.9,238.5 83,241 84,242.5 85.1,245 87.3,248 88.1,250 88.7,253.5 89.8,256.5 90.5,261 90.6,262 90.1,264.5 89.9,267 89.4,268.5 87.4,272 86.3,274.5 84.6,277 82.7,280.5 81.3,282.5 79.7,284 78,285 76,286 73.8,288 71.5,289.6 70,290.3 67.5,291.1 65,292.3 61.5,292.8 59.5,293.3 56.5,293.3 54,293.7 53,293.6 49,292.9M49,223.7 52.5,222.9 57.5,222.5 59,222.6 61.5,223.3 64.5,223.7 67,224.7 69.5,225.2 71,225.9 74,227.5 75.7,229 77,229.9 80.5,231.4 82,232.3 82.7,233 84,234.7 86.1,236.5 87.8,238.5 91.2,244.5 92,246.5 93,249.5 94.7,252 95.2,255 96.3,258 96.5,259.5 95.8,262 95.8,263 96,265.5 95.4,270 95,271 93.4,273 91.3,276.5 88.8,279.5 86.5,283.5 84.2,285.5 82.5,287.6 80,290 77.6,291.5 73.5,293.5 71,295.3 69.5,296 64.5,297 62,297.3 59,298.2 57.5,298.5 56,298.4 51.5,297.5 49,297.8M49,218.7 53,217.9 58.5,218.1 68.6,220 70.5,220.5 72,221.1 75,222.9 77.5,223.8 78.5,224.4 79.2,225 81,227 83,228.3 85.5,229.6 86.5,230.3 90,233.5 92,236 95.1,239 95.8,240 97,242.2 98.8,244.5 100.5,248.5 102.3,251 103,253 103,254 102.8,256.5 103.4,259 103.4,261.5 104,264.1 104.3,266.5 104.1,268 103.6,269.5 102.5,270.9 100.5,274 97.5,278.1 97,279 96.4,281 95.8,282 95,282.8 92.5,284.2 91.7,285 90.5,286.9 89.5,288 87.5,289.6 84,292.8 82.5,293.9 79,295.6 76.5,297.4 72.5,299.8 71,300.5 69.5,300.9 64,301.8 61.5,302.7 60,303 58,303 49,302.5M49,214 51,213.7 55,213.6 59,213.9 63.5,214.1 65,214.4 68,215.3 70.9,216.5 73,217.2 78,219.3 81,221.5 83.5,222.7 88,225.7 90.5,227.6 93.9,230 97.7,233 99,234.5 100.1,237 104.8,242 107.9,246.5 108.7,248 109.4,250 110,251 111.5,252.2 112.1,253 112.9,257 113,261 113.5,264.5 113.6,266.5 114.2,268.5 114.3,269.5 114.1,270.5 113.7,271.5 111.9,274 109.3,276.5 106.5,278.7 104,281.6 101.5,283 100.5,283.8 96.5,288.5 92.5,292.3 89.5,294.1 85.5,297.2 84.8,298 83.5,299.8 82.6,300.5 80,301.3 76.5,302.7 73.6,304.5 72.5,305 64.5,307.1 58.5,307.8 57,307.9 52.5,307.8 49,307.1M49,210.5 52,210.1 57.5,209.8 59.5,209.9 63,210.6 65.5,210.7 67,211 70,212.2 73,213 75.5,213.9 78,215.2 81,216.4 82.9,217.5 85.5,219.6 88,221.1 91.5,223.5 94.5,225.2 96,226.2 98,228.4 100.5,230.3 104.3,234 107,236 108,236.9 110.5,240 111.5,241.8 113.1,243.5 114.7,246 117.3,248 118.7,249.5 119.1,250.5 119.3,252 119.5,252.7 120,253.5 121.7,255.5 122,256.5 122.1,258.5 122.7,261 123,264.5 122.9,265.5 122,267 122,267.5 122.9,269.5 123.2,271.5 122.9,273 120.9,274.5 119.5,276.3 119,276.7 117,277.8 115.5,279.5 114.5,280.4 111,283.1 109,284.4 107.2,286.5 104.5,287.8 103.5,288.4 100.2,291.5 97.6,293.5 94.5,295.6 93.5,296.2 91.1,297 90.3,297.5 89.2,298.5 87.7,300.5 85,302.8 84,303.5 80.2,305.5 78,306.3 75.5,307.6 71.5,309.3 70,309.8 67,310.3 64,311 59,311.6 57.5,311.6 54.5,311.3 51.5,311.7 49,311.3M50.9,205 51.8,205M56.1,205 57,205.4 58,205.6 60,205.4 63.5,205.4 64.5,205.7 66.5,206.6 70,206.6 71,207 72.5,207.8 76.2,209.5 80,210.8 85,213.5 86.3,214.5 88.3,216.5 92,219.1 95,220.3 97.5,221 98,221.3 99.8,223 102,224.3 104.5,227.2 107.9,229.5 110,231.7 112,232.9 113.1,234 114.5,235.1 118.6,237.5 119.3,238.5 120.5,241 122.1,243 124.3,245 126,247 127,247.8 128.5,248.5 129,249 130.8,251.5 131,252.5 131,255.3 131.2,256.5 133.2,261.5 134.5,263.5 134.9,264.5 134.7,265.5 134,266.6 133.8,267.5 133.8,268.5 134.5,272.5 134.6,274 134.4,275 131,276.7 128.5,279 126,280 122.5,282.2 120,283.1 117.5,285.2 115.5,287.7 114.5,288.5 112,289.9 110.1,292 108,293.4 105.5,294.3 104,295.1 102.5,296.3 101,298 100,298.8 97,299.8 95,300.7 93.5,301.1 92.5,301.5 89.5,304.6 87,307.7 86,308.6 83.5,309.5 82,310.2 79.5,310.8 77.5,312.1 76.5,312.5 73,313.4 70.5,314.8 68,315.3 66.3,316M54.1,316 53,315.6 52,315.5 50,316" fill="none" stroke="#06281a" stroke-opacity=".55" stroke-width=".5" stroke-linejoin="round"/>
</g>
<path d="M51.5,260.2 54.8,254.8 58.6,249.3 64,243 70.8,235.5 78.7,227.4 81.5,224.7 88.8,218.5 95,214.1 99.4,211.9M51.5,260.6 57.1,269 63.8,277.5 66.3,280.5 75.7,290.7 83.7,298.7 85.8,300.6 93,305.9 99.3,309" fill="none" stroke="#0a3a1a" stroke-opacity=".45" stroke-width=".7"/>
<rect x="48.2" y="236" width="196.2" height="33.3" fill="#000" fill-opacity=".295"/>
<rect x="48.2" y="235" width="196.2" height="2.1" fill="#f9bc14"/>
<rect x="48.2" y="268.2" width="196.2" height="2.1" fill="#f9bc14"/>
<path d="M47,252.6 H244.4" stroke="#fff" stroke-width="2.4" stroke-dasharray="14.6 7.72" fill="none"/>
</g>
<path d="M47.6,194 H244.9 M47.6,327.7 H244.9" stroke="#222" stroke-width="1.3" fill="none"/>
<path d="M48.2,194 V327.7" stroke="#222" stroke-width="1.25" fill="none"/>
<path d="M244.4,194 V327.7" stroke="#444" stroke-width="1.2" fill="none"/>
<path d="M48.4,193.5 V327.7" stroke="#222" stroke-width="1.9" stroke-dasharray="1 1.2" fill="none"/>
<path d="M48.2,194 V189.2 M48.2,327.7 V332.5 M67.8,194 V191.5 M67.8,327.7 V330.2 M87.4,194 V191.5 M87.4,327.7 V330.2 M107.1,194 V191.5 M107.1,327.7 V330.2 M126.7,194 V191.5 M126.7,327.7 V330.2 M146.3,194 V189.2 M146.3,327.7 V332.5 M165.9,194 V191.5 M165.9,327.7 V330.2 M185.5,194 V191.5 M185.5,327.7 V330.2 M205.2,194 V191.5 M205.2,327.7 V330.2 M224.8,194 V191.5 M224.8,327.7 V330.2 M244.4,194 V189.2 M244.4,327.7 V332.5 M48.2,194 H41.8 M244.4,194 H257.4 M48.2,216.3 H41.8 M244.4,216.3 H257.4 M48.2,238.6 H41.8 M244.4,238.6 H257.4 M48.2,260.9 H41.8 M244.4,260.9 H263.7 M48.2,283.1 H41.8 M244.4,283.1 H251.4 M48.2,305.4 H41.8 M244.4,305.4 H251.4 M48.2,327.7 H41.8 M244.4,327.7 H251.4" stroke="#222" stroke-width="1.1" fill="none"/>
<text x="39.9" y="197.9" text-anchor="end" textLength="21.4" lengthAdjust="spacingAndGlyphs">30m</text>
<text x="288.8" y="197.6" text-anchor="end" textLength="19.9" lengthAdjust="spacingAndGlyphs">98ft</text>
<text x="39.9" y="220.2" text-anchor="end" textLength="21.4" lengthAdjust="spacingAndGlyphs">20m</text>
<text x="288.8" y="219.9" text-anchor="end" textLength="19.9" lengthAdjust="spacingAndGlyphs">66ft</text>
<text x="39.9" y="242.5" text-anchor="end" textLength="21.4" lengthAdjust="spacingAndGlyphs">10m</text>
<text x="288.8" y="242.2" text-anchor="end" textLength="19.9" lengthAdjust="spacingAndGlyphs">33ft</text>
<text x="39.9" y="264.8" text-anchor="end" textLength="15.4" lengthAdjust="spacingAndGlyphs">0m</text>
<text x="288.8" y="264.5" text-anchor="end" textLength="13.6" lengthAdjust="spacingAndGlyphs">0ft</text>
<text x="39.9" y="287" text-anchor="end" textLength="27.9" lengthAdjust="spacingAndGlyphs">−10m</text>
<text x="288.8" y="286.7" text-anchor="end" textLength="26.5" lengthAdjust="spacingAndGlyphs">−33ft</text>
<text x="39.9" y="309.3" text-anchor="end" textLength="27.9" lengthAdjust="spacingAndGlyphs">−20m</text>
<text x="288.8" y="309" text-anchor="end" textLength="26.5" lengthAdjust="spacingAndGlyphs">−66ft</text>
<text x="39.9" y="331.6" text-anchor="end" textLength="27.9" lengthAdjust="spacingAndGlyphs">−30m</text>
<text x="288.8" y="331.3" text-anchor="end" textLength="26.5" lengthAdjust="spacingAndGlyphs">−98ft</text>
<text x="48.3" y="186.5" text-anchor="middle" textLength="13.5" lengthAdjust="spacingAndGlyphs">0ft</text>
<text x="148.4" y="186.5" text-anchor="middle" textLength="26.3" lengthAdjust="spacingAndGlyphs">246ft</text>
<text x="247" y="186.5" text-anchor="middle" textLength="26.3" lengthAdjust="spacingAndGlyphs">492ft</text>
<text x="48.4" y="342.6" text-anchor="middle" textLength="15.3" lengthAdjust="spacingAndGlyphs">0m</text>
<text x="149.6" y="342.6" text-anchor="middle" textLength="21.4" lengthAdjust="spacingAndGlyphs">75m</text>
<text x="244.7" y="342.6" text-anchor="middle" textLength="27.9" lengthAdjust="spacingAndGlyphs">150m</text>
</g>
<rect x="332.2" y="234.4" width="17.4" height="17" fill="#ff6a05"/>
<rect x="332.2" y="238.9" width="17.4" height="8.2" fill="#b64a08"/>
<path d="M332.2,238.9 h17.4 M332.2,247.1 h17.4" stroke="#c9a02a" stroke-width=".6" stroke-opacity=".8" fill="none"/>
<path d="M333.2,243 h15.4" stroke="#fff" stroke-opacity=".75" stroke-width=".7" stroke-dasharray="1.6 .8" fill="none"/>
<rect x="332.2" y="234.4" width="17.4" height="17" fill="none" stroke="#8a3a10" stroke-width=".9"/>
<rect x="332.2" y="251.4" width="17.4" height="16.9" fill="#25e03c"/>
<rect x="332.2" y="255.9" width="17.4" height="8.2" fill="#1f9c2e"/>
<path d="M332.2,255.9 h17.4 M332.2,264.1 h17.4" stroke="#c9a02a" stroke-width=".6" stroke-opacity=".8" fill="none"/>
<path d="M333.2,260 h15.4" stroke="#fff" stroke-opacity=".75" stroke-width=".7" stroke-dasharray="1.6 .8" fill="none"/>
<rect x="332.2" y="251.4" width="17.4" height="16.9" fill="none" stroke="#1a6a28" stroke-width=".9"/>
<rect x="332.2" y="268.3" width="17.4" height="16.5" fill="#1f89b8"/>
<rect x="332.2" y="272.8" width="17.4" height="8.2" fill="#185c80"/>
<path d="M332.2,272.8 h17.4 M332.2,281 h17.4" stroke="#c9a02a" stroke-width=".6" stroke-opacity=".8" fill="none"/>
<path d="M333.2,276.9 h15.4" stroke="#fff" stroke-opacity=".75" stroke-width=".7" stroke-dasharray="1.6 .8" fill="none"/>
<rect x="332.2" y="268.3" width="17.4" height="16.5" fill="none" stroke="#164a66" stroke-width=".9"/>
<rect x="332.2" y="293.3" width="17.4" height="16.6" fill="#ff2a12"/>
<rect x="332.2" y="297.8" width="17.4" height="8.2" fill="#b81c10"/>
<path d="M332.2,297.8 h17.4 M332.2,306 h17.4" stroke="#c9a02a" stroke-width=".6" stroke-opacity=".8" fill="none"/>
<path d="M333.2,301.9 h15.4" stroke="#fff" stroke-opacity=".75" stroke-width=".7" stroke-dasharray="1.6 .8" fill="none"/>
<rect x="332.2" y="293.3" width="17.4" height="16.6" fill="none" stroke="#8a1a14" stroke-width=".9"/>
<rect x="332.2" y="309.9" width="17.4" height="16.6" fill="#25e03c"/>
<rect x="332.2" y="314.4" width="17.4" height="8.2" fill="#1f9c2e"/>
<path d="M332.2,314.4 h17.4 M332.2,322.6 h17.4" stroke="#c9a02a" stroke-width=".6" stroke-opacity=".8" fill="none"/>
<path d="M333.2,318.5 h15.4" stroke="#fff" stroke-opacity=".75" stroke-width=".7" stroke-dasharray="1.6 .8" fill="none"/>
<rect x="332.2" y="309.9" width="17.4" height="16.6" fill="none" stroke="#1a6a28" stroke-width=".9"/>
<rect x="332.2" y="326.5" width="17.4" height="16.8" fill="#3a64d2"/>
<rect x="332.2" y="331" width="17.4" height="8.2" fill="#28448e"/>
<path d="M332.2,331 h17.4 M332.2,339.2 h17.4" stroke="#c9a02a" stroke-width=".6" stroke-opacity=".8" fill="none"/>
<path d="M333.2,335.1 h15.4" stroke="#fff" stroke-opacity=".75" stroke-width=".7" stroke-dasharray="1.6 .8" fill="none"/>
<rect x="332.2" y="326.5" width="17.4" height="16.8" fill="none" stroke="#26397a" stroke-width=".9"/>
<path d="M326,259.4 H309" stroke="#111" stroke-width="1.1" fill="none"/><path d="M304.8,259.4 L311.2,256.6 V262.2Z" fill="#111"/>
<path d="M340.8,349.4 V362" stroke="#111" stroke-width="1.1" fill="none"/><path d="M340.8,367.2 L337.6,360.8 H344Z" fill="#111"/>
<text x="381.6" y="247.2" text-anchor="end" textLength="21.4" lengthAdjust="spacingAndGlyphs">10m</text>
<text x="421.1" y="247.2" text-anchor="end" textLength="30.6" lengthAdjust="spacingAndGlyphs">(33 ft)</text>
<text x="425.8" y="247.2" textLength="5.6" lengthAdjust="spacingAndGlyphs">=</text>
<text x="471.1" y="247.2" text-anchor="end" textLength="36.1" lengthAdjust="spacingAndGlyphs">200 lux</text>
<text x="381.6" y="263.5" text-anchor="end" textLength="21.4" lengthAdjust="spacingAndGlyphs">40m</text>
<text x="421.1" y="263.5" text-anchor="end" textLength="36.4" lengthAdjust="spacingAndGlyphs">(131 ft)</text>
<text x="425.8" y="263.5" textLength="5.6" lengthAdjust="spacingAndGlyphs">=</text>
<text x="471.1" y="263.5" text-anchor="end" textLength="30.1" lengthAdjust="spacingAndGlyphs">10 lux</text>
<text x="381.6" y="280.1" text-anchor="end" textLength="21.4" lengthAdjust="spacingAndGlyphs">70m</text>
<text x="421.1" y="280.1" text-anchor="end" textLength="36.4" lengthAdjust="spacingAndGlyphs">(230 ft)</text>
<text x="425.8" y="280.1" textLength="5.6" lengthAdjust="spacingAndGlyphs">=</text>
<text x="471.1" y="280.1" text-anchor="end" textLength="23.6" lengthAdjust="spacingAndGlyphs">1 lux</text>
<text x="381.6" y="305.2" text-anchor="end" textLength="21.4" lengthAdjust="spacingAndGlyphs">10m</text>
<text x="421.1" y="305.2" text-anchor="end" textLength="30.6" lengthAdjust="spacingAndGlyphs">(33 ft)</text>
<text x="425.8" y="305.2" textLength="5.6" lengthAdjust="spacingAndGlyphs">=</text>
<text x="471.1" y="305.2" text-anchor="end" textLength="36.1" lengthAdjust="spacingAndGlyphs">400 lux</text>
<text x="381.6" y="321.9" text-anchor="end" textLength="27.6" lengthAdjust="spacingAndGlyphs">120m</text>
<text x="421.1" y="321.9" text-anchor="end" textLength="36.4" lengthAdjust="spacingAndGlyphs">(262 ft)</text>
<text x="425.8" y="321.9" textLength="5.6" lengthAdjust="spacingAndGlyphs">=</text>
<text x="471.1" y="321.9" text-anchor="end" textLength="30.1" lengthAdjust="spacingAndGlyphs">10 lux</text>
<text x="381.6" y="338.7" text-anchor="end" textLength="27.6" lengthAdjust="spacingAndGlyphs">400m</text>
<text x="421.1" y="338.7" text-anchor="end" textLength="36.4" lengthAdjust="spacingAndGlyphs">(951 ft)</text>
<text x="425.8" y="338.7" textLength="5.6" lengthAdjust="spacingAndGlyphs">=</text>
<text x="471.1" y="338.7" text-anchor="end" textLength="23.6" lengthAdjust="spacingAndGlyphs">1 lux</text>
<g>
<path d="M67.8,408.6 V542.4 M87.4,408.6 V542.4 M107,408.6 V542.4 M126.6,408.6 V542.4 M146.2,408.6 V542.4 M165.8,408.6 V542.4 M185.4,408.6 V542.4 M205,408.6 V542.4 M224.6,408.6 V542.4 M244.2,408.6 V542.4 M263.8,408.6 V542.4 M283.4,408.6 V542.4 M303,408.6 V542.4 M322.6,408.6 V542.4 M342.1,408.6 V542.4 M361.7,408.6 V542.4 M381.3,408.6 V542.4 M400.9,408.6 V542.4 M420.5,408.6 V542.4 M440.1,408.6 V542.4 M459.7,408.6 V542.4 M479.3,408.6 V542.4 M498.9,408.6 V542.4 M518.5,408.6 V542.4 M538.1,408.6 V542.4 M557.7,408.6 V542.4 M577.3,408.6 V542.4 M596.9,408.6 V542.4 M616.5,408.6 V542.4 M48.2,430.9 H636.1 M48.2,453.2 H636.1 M48.2,475.5 H636.1 M48.2,497.8 H636.1 M48.2,520.1 H636.1" fill="none" stroke="#7c7c7c" stroke-width="1" stroke-dasharray="1.1 1.2"/>
<clipPath id="ch"><rect x="48.2" y="408.6" width="587.9" height="133.8"/></clipPath>
<g clip-path="url(#ch)">
<path d="M48.2,467.2 H636.1" stroke="#6a6a6a" stroke-width=".9" fill="none"/>
<clipPath id="hbe"><path d="M53.2,475.4 68.6,458.5 77.2,449.9 87.5,438.9 96.9,433.4 117,426 115.6,429.8 117.2,429.2 117.9,429.1 116.4,432.1 118.3,433.1 121.1,432.8 121.5,433.5 123.6,432.8 123.9,433.7 125,433.3 125.7,433.6 123.4,435 121.8,435.3 121,435.7 123.1,436.7 124.2,436.4 126.2,437.4 127.3,437.1 128.6,437.8 127.4,439.2 127.2,439.2 126.6,439.8 128.4,440.9 129.9,441.2 130.7,442.6 133.7,442.8 134.2,443 137.3,441.7 137.8,441.8 138.7,441.3 139.5,441.3 142.1,442.6 143,442.5 143.8,442.1 146.2,442.3 148.6,441.8 149.2,442.1 151.7,441.5 153,441.9 155.6,441.3 157.5,441.8 159.8,440.7 160.7,441.8 163.3,441.3 164.4,442.1 166.5,441.2 168.2,441.8 170.1,440.7 171.8,441.2 175.1,439.9 175.6,440.1 178.1,439.9 179.3,440.4 182,439.7 182.5,440.3 183.6,439.6 183.9,440.4 186.7,439.6 187,440.4 189.1,439.4 192,439.8 195.4,439.3 198.2,439.7 201,438.9 201.5,439.5 204.1,439 205.3,439.7 208.7,439.3 211.6,439.8 214.4,439.2 215.7,439.6 217.6,439.1 220.5,439.6 221.5,439.2 222,439.6 223.8,439.3 225.9,439.8 228.6,439.3 231.5,439.8 234.9,439.2 237.8,439.7 238.7,439.4 240,439.9 243.4,439.4 246.3,439.7 249.8,439.1 251.9,439.7 255.3,439.1 256.5,439.7 258.3,439.3 259.6,439.8 261.7,438.9 264.4,439.7 265.5,439.1 267.3,440.1 270.2,439.1 272.2,439.9 275.6,439.8 276.8,440.5 279.4,440.3 282.3,441 283.3,440.6 284.6,441.2 287.2,441 288.3,442.1 291.8,441.9 292.3,442.6 294.2,442.2 296.2,443.2 299.6,443.3 300,444 303.5,444 303.8,444.9 305.1,444.1 305.6,444.6 307.6,444 309.5,444.8 313.3,443.9 315.2,444.6 317.8,444.3 318.3,444.8 321.7,444.4 324.5,445 327.6,444 330,445.2 331.3,444.4 331.7,445.1 332.8,444.5 334.9,445 335.9,444.7 338,445.3 339.9,444.7 342,445.1 345.4,444.9 346.6,445.6 348.7,444.7 350.6,445.5 351.7,445 353.1,445.4 355.8,444.8 356.2,445.6 359.7,445 360.9,445.7 362,445.1 362.6,445.5 364.6,444.9 364.9,445.7 368.4,445.1 370.4,445.9 374.1,445 376.7,445.9 377.9,445.4 379.2,445.9 382.7,445.4 383.2,445.9 384.4,445.2 386.4,445.8 388.3,445.2 388.7,446 392.3,445.3 395.1,445.9 397.9,445.3 398.3,446 400.1,445.6 402.1,446.5 404.9,446 407.7,446.8 408.9,446.2 411.4,447.6 412.8,446.7 415.7,447.4 417.6,446.9 417.9,447.8 420.7,447.3 423.5,448.2 424.6,447.8 425.9,448.5 426.8,448.2 427.4,448.7 430.2,448.2 432.8,449.3 436.5,448.8 436.8,449.7 439.8,448.7 441.7,449.6 443.4,449.4 446.5,449.8 449.2,449.3 451.3,450 454,449.6 455.9,450.4 457.9,449.8 460.7,450.6 461.8,450 462.3,450.6 463.3,450.2 466.4,450.6 468.2,450.3 471.2,450.8 472.3,450.2 472.8,450.8 476.5,450.1 476.6,451.3 479.3,450.8 481.3,451.6 482.5,450.9 483,451.4 484,451.1 486.8,451.6 489.4,451.3 490.6,452 494.3,451.3 495.9,452.5 499.4,452.1 502.2,452.7 503.3,452.2 503.7,452.8 506.4,452.4 508.3,453.1 510.2,452.7 512.9,453.4 514.8,453 516,453.6 519.5,453.2 522.1,454.1 524.1,453.5 526.7,454.5 529.3,454.1 531.3,454.8 534.7,454.5 536.7,455.1 537.8,454.7 538,455.6 540.2,454.6 541.5,455.2 543.3,454.8 544.5,455.5 545.5,455.2 545.9,455.9 549.7,455 552.1,456.3 554.1,455.7 554.5,456.4 558,456 559.1,456.7 562.5,456.7 562.9,457.5 565.5,457.4 566.8,458.1 570.1,458.2 571.3,459.1 572.2,459 572.8,459.6 575.1,460.1 580,462 586,467 589,472 590.4,477 589,482 584,488 576,491 573.6,491.1 571.6,492 568.8,491.5 567.8,492.7 565.9,492.4 564.8,493.2 562.2,493 560.9,493.7 559.1,493.5 557.8,494 555.2,493.8 554.1,494.6 553,494.1 552.4,494.6 551.3,494 550.1,494.8 547.5,494.5 547.1,495.2 543.6,494.9 542.4,495.6 540.5,495.1 538.7,496.1 536.9,495.8 534,496.5 532.9,496.1 530.2,497 526.7,496.6 526.4,497.4 522.9,497 520.2,498 516.8,497.7 513.9,498.2 510.5,497.9 507.8,498.7 505.2,498.4 503.2,499.2 501.4,498.9 499.4,499.6 496.7,499.2 493.9,499.8 490.5,499.5 490.1,500.1 486.5,499.5 486.3,500.5 482.9,500.3 481.9,501.2 479.7,500.4 477.9,501.4 474.2,500.7 471.5,501.5 469.7,501.2 467.6,501.7 464.2,501.5 461.4,502.1 458,501.9 456,502.7 453.8,501.7 452.8,502.7 449.2,502.1 448.1,502.9 445.4,502.6 442.5,503.1 439.9,502.9 437,503.4 434.4,503 432.4,503.7 431.3,503.2 429.2,503.7 427.3,503.3 425.2,503.8 424.2,503.6 423.7,504 422.6,503.5 421.3,504 420.2,503.5 419.3,504.7 415.5,503.8 412.8,504.6 410.9,504.1 407.9,504.5 406.8,504.1 404.1,504.9 401.3,504.3 399.6,505.5 397.4,504.5 397.1,505.3 393.6,505 392.2,505.3 391.2,505 390.9,505.9 387.8,504.9 385.8,505.6 383.9,505.1 382.7,505.9 380,505.4 377.9,505.9 374.5,505.8 371.6,506.4 369.8,506 367.1,507 364.1,506 363.6,506.6 361,506.3 360.5,506.9 359.3,506.1 356.5,506.9 353,506.6 350.2,507.3 346.8,506.7 345.6,507.1 343.7,506.4 341,506.8 339.1,506.1 337.1,506.5 333.6,505.7 332.4,506.1 331.3,505.5 330,505.8 328.6,506.3 325.1,506 323.8,506.7 322,506.4 321.4,506.8 320.4,506.6 318.4,507.4 315.7,507.1 313.5,507.7 311.7,507.5 309.7,508.4 307,508 304.9,508.8 302.3,508.6 301.7,509 299.9,508.8 298.7,509.6 297.6,509.1 294.9,510.1 292,509.5 290.2,510.6 287.6,510.4 285.7,511.4 282.1,510.9 280.8,511.5 278.4,511.4 277,511.8 275.1,511.4 274.7,512 271.9,511.3 270,512.1 268.8,511.4 266.9,512.3 265.6,511.3 264.5,512.2 262.4,511.4 261.9,512 260.2,511.7 258.9,512.2 257,511.7 254.1,512.2 253.1,511.8 250.9,512.1 249.7,511.6 248.5,512.1 246.7,511.5 245.6,512.3 242.1,511.5 241.8,512.3 240.6,511.6 239.3,512 238.2,511.4 235.5,512 232.8,511.2 230.1,511.8 227.5,511.3 226.3,511.8 223,511.6 222.6,512.3 219.1,511.6 218.6,512.1 216,511.6 213.2,512.1 209.9,511.8 209.4,512.3 208.2,511.6 206.2,512 202.8,511.5 200.7,511.8 197.3,511.2 195.4,511.8 193.4,511.1 192.9,511.5 191.2,511.1 190.5,511.3 188.8,511 186.8,511.5 183.3,510.8 181.2,511.2 179.5,511 178.3,511.6 176.5,511.1 175.8,511.4 172.5,511.1 172,511.5 171,511.2 170.6,511.8 169.5,511.2 169,511.8 165.6,511.4 165.1,511.8 162.6,511.4 161.3,511.7 159.5,511.2 156.7,511.7 154,511 151.4,511.8 150.1,510.9 149,511.5 146.4,511 145.1,511.3 143.2,510.5 141.7,511.2 139,510.3 137.2,511.2 134.5,510.8 132.5,511.4 130.5,511 128,512.4 126.9,512 126,515.3 123.7,514.1 122.1,513.8 121.7,514.6 120.6,515.3 120.2,517.3 118,516.3 117.1,516.8 115.1,518.5 114.4,521 113.4,520 111.8,519.7 109.8,520.4 106.6,522 100,521.4 92.2,518.3 84.3,512.8 68.6,495.5 60.7,486 56.8,482.1Z"/></clipPath>
<path d="M53.2,475.4 68.6,458.5 77.2,449.9 87.5,438.9 96.9,433.4 117,426 115.6,429.8 117.2,429.2 117.9,429.1 116.4,432.1 118.3,433.1 121.1,432.8 121.5,433.5 123.6,432.8 123.9,433.7 125,433.3 125.7,433.6 123.4,435 121.8,435.3 121,435.7 123.1,436.7 124.2,436.4 126.2,437.4 127.3,437.1 128.6,437.8 127.4,439.2 127.2,439.2 126.6,439.8 128.4,440.9 129.9,441.2 130.7,442.6 133.7,442.8 134.2,443 137.3,441.7 137.8,441.8 138.7,441.3 139.5,441.3 142.1,442.6 143,442.5 143.8,442.1 146.2,442.3 148.6,441.8 149.2,442.1 151.7,441.5 153,441.9 155.6,441.3 157.5,441.8 159.8,440.7 160.7,441.8 163.3,441.3 164.4,442.1 166.5,441.2 168.2,441.8 170.1,440.7 171.8,441.2 175.1,439.9 175.6,440.1 178.1,439.9 179.3,440.4 182,439.7 182.5,440.3 183.6,439.6 183.9,440.4 186.7,439.6 187,440.4 189.1,439.4 192,439.8 195.4,439.3 198.2,439.7 201,438.9 201.5,439.5 204.1,439 205.3,439.7 208.7,439.3 211.6,439.8 214.4,439.2 215.7,439.6 217.6,439.1 220.5,439.6 221.5,439.2 222,439.6 223.8,439.3 225.9,439.8 228.6,439.3 231.5,439.8 234.9,439.2 237.8,439.7 238.7,439.4 240,439.9 243.4,439.4 246.3,439.7 249.8,439.1 251.9,439.7 255.3,439.1 256.5,439.7 258.3,439.3 259.6,439.8 261.7,438.9 264.4,439.7 265.5,439.1 267.3,440.1 270.2,439.1 272.2,439.9 275.6,439.8 276.8,440.5 279.4,440.3 282.3,441 283.3,440.6 284.6,441.2 287.2,441 288.3,442.1 291.8,441.9 292.3,442.6 294.2,442.2 296.2,443.2 299.6,443.3 300,444 303.5,444 303.8,444.9 305.1,444.1 305.6,444.6 307.6,444 309.5,444.8 313.3,443.9 315.2,444.6 317.8,444.3 318.3,444.8 321.7,444.4 324.5,445 327.6,444 330,445.2 331.3,444.4 331.7,445.1 332.8,444.5 334.9,445 335.9,444.7 338,445.3 339.9,444.7 342,445.1 345.4,444.9 346.6,445.6 348.7,444.7 350.6,445.5 351.7,445 353.1,445.4 355.8,444.8 356.2,445.6 359.7,445 360.9,445.7 362,445.1 362.6,445.5 364.6,444.9 364.9,445.7 368.4,445.1 370.4,445.9 374.1,445 376.7,445.9 377.9,445.4 379.2,445.9 382.7,445.4 383.2,445.9 384.4,445.2 386.4,445.8 388.3,445.2 388.7,446 392.3,445.3 395.1,445.9 397.9,445.3 398.3,446 400.1,445.6 402.1,446.5 404.9,446 407.7,446.8 408.9,446.2 411.4,447.6 412.8,446.7 415.7,447.4 417.6,446.9 417.9,447.8 420.7,447.3 423.5,448.2 424.6,447.8 425.9,448.5 426.8,448.2 427.4,448.7 430.2,448.2 432.8,449.3 436.5,448.8 436.8,449.7 439.8,448.7 441.7,449.6 443.4,449.4 446.5,449.8 449.2,449.3 451.3,450 454,449.6 455.9,450.4 457.9,449.8 460.7,450.6 461.8,450 462.3,450.6 463.3,450.2 466.4,450.6 468.2,450.3 471.2,450.8 472.3,450.2 472.8,450.8 476.5,450.1 476.6,451.3 479.3,450.8 481.3,451.6 482.5,450.9 483,451.4 484,451.1 486.8,451.6 489.4,451.3 490.6,452 494.3,451.3 495.9,452.5 499.4,452.1 502.2,452.7 503.3,452.2 503.7,452.8 506.4,452.4 508.3,453.1 510.2,452.7 512.9,453.4 514.8,453 516,453.6 519.5,453.2 522.1,454.1 524.1,453.5 526.7,454.5 529.3,454.1 531.3,454.8 534.7,454.5 536.7,455.1 537.8,454.7 538,455.6 540.2,454.6 541.5,455.2 543.3,454.8 544.5,455.5 545.5,455.2 545.9,455.9 549.7,455 552.1,456.3 554.1,455.7 554.5,456.4 558,456 559.1,456.7 562.5,456.7 562.9,457.5 565.5,457.4 566.8,458.1 570.1,458.2 571.3,459.1 572.2,459 572.8,459.6 575.1,460.1 580,462 586,467 589,472 590.4,477 589,482 584,488 576,491 573.6,491.1 571.6,492 568.8,491.5 567.8,492.7 565.9,492.4 564.8,493.2 562.2,493 560.9,493.7 559.1,493.5 557.8,494 555.2,493.8 554.1,494.6 553,494.1 552.4,494.6 551.3,494 550.1,494.8 547.5,494.5 547.1,495.2 543.6,494.9 542.4,495.6 540.5,495.1 538.7,496.1 536.9,495.8 534,496.5 532.9,496.1 530.2,497 526.7,496.6 526.4,497.4 522.9,497 520.2,498 516.8,497.7 513.9,498.2 510.5,497.9 507.8,498.7 505.2,498.4 503.2,499.2 501.4,498.9 499.4,499.6 496.7,499.2 493.9,499.8 490.5,499.5 490.1,500.1 486.5,499.5 486.3,500.5 482.9,500.3 481.9,501.2 479.7,500.4 477.9,501.4 474.2,500.7 471.5,501.5 469.7,501.2 467.6,501.7 464.2,501.5 461.4,502.1 458,501.9 456,502.7 453.8,501.7 452.8,502.7 449.2,502.1 448.1,502.9 445.4,502.6 442.5,503.1 439.9,502.9 437,503.4 434.4,503 432.4,503.7 431.3,503.2 429.2,503.7 427.3,503.3 425.2,503.8 424.2,503.6 423.7,504 422.6,503.5 421.3,504 420.2,503.5 419.3,504.7 415.5,503.8 412.8,504.6 410.9,504.1 407.9,504.5 406.8,504.1 404.1,504.9 401.3,504.3 399.6,505.5 397.4,504.5 397.1,505.3 393.6,505 392.2,505.3 391.2,505 390.9,505.9 387.8,504.9 385.8,505.6 383.9,505.1 382.7,505.9 380,505.4 377.9,505.9 374.5,505.8 371.6,506.4 369.8,506 367.1,507 364.1,506 363.6,506.6 361,506.3 360.5,506.9 359.3,506.1 356.5,506.9 353,506.6 350.2,507.3 346.8,506.7 345.6,507.1 343.7,506.4 341,506.8 339.1,506.1 337.1,506.5 333.6,505.7 332.4,506.1 331.3,505.5 330,505.8 328.6,506.3 325.1,506 323.8,506.7 322,506.4 321.4,506.8 320.4,506.6 318.4,507.4 315.7,507.1 313.5,507.7 311.7,507.5 309.7,508.4 307,508 304.9,508.8 302.3,508.6 301.7,509 299.9,508.8 298.7,509.6 297.6,509.1 294.9,510.1 292,509.5 290.2,510.6 287.6,510.4 285.7,511.4 282.1,510.9 280.8,511.5 278.4,511.4 277,511.8 275.1,511.4 274.7,512 271.9,511.3 270,512.1 268.8,511.4 266.9,512.3 265.6,511.3 264.5,512.2 262.4,511.4 261.9,512 260.2,511.7 258.9,512.2 257,511.7 254.1,512.2 253.1,511.8 250.9,512.1 249.7,511.6 248.5,512.1 246.7,511.5 245.6,512.3 242.1,511.5 241.8,512.3 240.6,511.6 239.3,512 238.2,511.4 235.5,512 232.8,511.2 230.1,511.8 227.5,511.3 226.3,511.8 223,511.6 222.6,512.3 219.1,511.6 218.6,512.1 216,511.6 213.2,512.1 209.9,511.8 209.4,512.3 208.2,511.6 206.2,512 202.8,511.5 200.7,511.8 197.3,511.2 195.4,511.8 193.4,511.1 192.9,511.5 191.2,511.1 190.5,511.3 188.8,511 186.8,511.5 183.3,510.8 181.2,511.2 179.5,511 178.3,511.6 176.5,511.1 175.8,511.4 172.5,511.1 172,511.5 171,511.2 170.6,511.8 169.5,511.2 169,511.8 165.6,511.4 165.1,511.8 162.6,511.4 161.3,511.7 159.5,511.2 156.7,511.7 154,511 151.4,511.8 150.1,510.9 149,511.5 146.4,511 145.1,511.3 143.2,510.5 141.7,511.2 139,510.3 137.2,511.2 134.5,510.8 132.5,511.4 130.5,511 128,512.4 126.9,512 126,515.3 123.7,514.1 122.1,513.8 121.7,514.6 120.6,515.3 120.2,517.3 118,516.3 117.1,516.8 115.1,518.5 114.4,521 113.4,520 111.8,519.7 109.8,520.4 106.6,522 100,521.4 92.2,518.3 84.3,512.8 68.6,495.5 60.7,486 56.8,482.1Z" fill="#3646be"/>
<g clip-path="url(#hbe)">
<path d="M51,424 227.5,424 229.5,424.4 235.5,425.1 236.9,425.5 239,426.5 240.4,427 249,428.3 256.5,428.8 261.5,429.4 285,431.3 294,432.3 343.5,435 384.5,436.5 405,437.5 420.8,438.5 461.3,441.5 485.5,443.1 544.3,446.5 594,449 594,501.8 545,504.3 487.5,507.6 463.5,509.1 420,512.4 405,513.3 384.5,514.3 343,515.9 297,518.4 288,519 276.5,520.2 271,520.5 262,521.7 256,521.7 253.5,521.9 247.5,522.8 242.5,523.9 237.5,524.4 234.2,525 144.5,525 140.4,524 138.5,523.7 137,523.6 133,524 128,523.4 122,523.8 116.5,525 51,525 51,424.5Z" fill="#3749c1"/>
<path d="M51,424 215.9,424 221,425.9 229.5,428.1 232,429.1 233.4,429.5 239,430 246,430.1 250.5,430.8 255.5,431 260.5,431.7 270,432.2 289,434 333.5,436.4 374,437.9 394.5,438.9 409,439.8 467.1,444 527.6,447.5 570,449.6 582,450.3 594,451.3 594,499.5 581.4,500.5 571,501.2 528,503.3 467,506.8 408.7,511 394.5,511.9 374,512.9 332.2,514.5 296.5,516.3 281,517.4 269.5,518.4 263,519.3 255.5,519.6 239.5,521.3 227,523.8 225.5,524.3 224.4,525 151.8,525 148,524.6 145.5,524.3 138,522.6 128.5,521.7 121.5,521.8 119.5,522 117.5,522.5 114.5,523.8 110.6,525 51,525 51,424.5ZM105,522 104.8,522 105,522ZM106,521.9 105.9,522 106,522.1 106.5,522.1 106.7,522 106.5,521.9ZM108,429.4 107.9,429.5 108.1,429.5ZM109.5,428.9 109.4,429 109.6,429ZM111.5,428 111.4,428 111.5,428.1 111.6,428ZM113,427.4 112.8,427.5 113.1,427.5ZM114.5,426.9 114.3,427 114.6,427ZM115,519.9 114.9,520 115.1,520ZM116,426.4 115.7,426.5 116.1,426.5ZM116.5,519 116.5,519.1 116.8,519ZM118,427.4 117.9,427.5 118,427.6 118.1,427.5ZM118.5,427.8 118.3,428 118.5,428.2 118.6,428ZM119,428.4 118.9,428.5 119,428.7 119.1,428.5ZM120.5,430.3 120.4,430.5 120.5,430.6 120.6,430.5ZM121,430.8 120.8,431 121,431.2 121.2,431ZM121.5,431.3 121.3,431.5 121.5,431.7 121.7,431.5ZM122,431.9 121.9,432 122,432.2 122.1,432ZM122.5,432.4 122.4,432.5 122.5,432.6 122.6,432.5ZM123,515.4 122.9,515.5 123,515.5ZM124.5,434.9 124.4,435 124.6,435ZM125,435.3 124.9,435.5 125,435.6 125.1,435.5ZM125.5,435.8 125.3,436 125.5,436.2 125.7,436ZM126,436.3 125.8,436.5 126,436.7 126.2,436.5ZM126.5,436.9 126.5,437.1 126.6,437ZM127,512.8 126.8,513 127,513.2 127.3,513ZM128.5,512.4 128.3,512.5 128.5,512.7 128.7,512.5ZM130,512 130,512.1 130.1,512ZM131,439.8 130.8,440 131,440.2 131.3,440ZM135.5,440.3 135.2,440.5 135.5,440.7 135.8,440.5ZM136,510.9 135.6,511 136.1,511ZM140,440.9 139.7,441 140,441.1 140.2,441ZM143.5,510.9 143.1,511 143.6,511ZM147,441.9 146.8,442 147,442.1 147.2,442ZM155.5,441.4 155.4,441.5 155.5,441.6 155.7,441.5ZM156.5,511.4 156.4,511.5 156.6,511.5ZM158,511.5 157.9,511.5 158.1,511.5ZM158.5,441.4 158.4,441.5 158.6,441.5ZM160,441.5 159.8,441.5 160.1,441.5ZM166.5,511.5 166.4,511.5 166.6,511.5ZM168,511.5 167.8,511.5 168.1,511.5ZM173.5,440.4 173.4,440.5 173.6,440.5ZM176.5,439.9 176.3,440 176.5,440.1 176.7,440ZM178,439.9 177.8,440 178,440.1 178.2,440ZM179.5,439.9 179.3,440 179.6,440ZM181,440 180.8,440 181.1,440ZM185,439.9 185,440.1 185.2,440ZM186.5,439.9 186.4,440 186.6,440ZM196,439.4 195.8,439.5 196,439.6 196.1,439.5ZM197.5,511.4 197.3,511.5 197.5,511.6 197.7,511.5ZM210,511.9 209.8,512 210,512.1 210.2,512ZM211.5,511.9 211.3,512 211.6,512ZM215,439.4 214.9,439.5 215.1,439.5ZM216.5,439.5 216.4,439.5 216.6,439.5ZM219,439.4 218.9,439.5 219,439.6 219.2,439.5ZM220.5,439.4 220.3,439.5 220.5,439.6 220.7,439.5ZM224.5,439.4 224.4,439.5 224.5,439.6 224.6,439.5ZM235.5,439.5 235.4,439.5 235.5,439.6 235.6,439.5ZM241,439.4 240.9,439.5 241,439.6 241.2,439.5ZM242.5,439.4 242.3,439.5 242.6,439.5ZM246.5,439.4 246.4,439.5 246.5,439.6 246.7,439.5ZM248,439.4 247.8,439.5 248.1,439.5ZM248.5,511.9 248.4,512 248.5,512.1 248.7,512ZM250,511.9 249.8,512 250,512.1 250.2,512ZM251.5,512 251.4,512 251.6,512ZM252,439.4 251.9,439.5 252,439.6 252.2,439.5ZM253.5,439.4 253.3,439.5 253.6,439.5ZM257.5,439.4 257.4,439.5 257.5,439.6 257.7,439.5ZM259,439.4 258.8,439.5 259.1,439.5ZM264.5,439.4 264.4,439.5 264.6,439.5ZM288.5,510.4 288.4,510.5 288.6,510.5ZM291.5,510 291.4,510 291.5,510.1 291.6,510ZM294,442.4 293.9,442.5 294.1,442.5ZM300,508.9 299.8,509 300,509.1 300.2,509ZM309.5,507.9 309.4,508 309.5,508.1 309.7,508ZM314.5,444.4 314.3,444.5 314.5,444.6 314.7,444.5ZM316,444.4 315.8,444.5 316.1,444.5ZM319,506.9 318.9,507 319,507.1 319.1,507ZM333,506 332.9,506 333.1,506ZM339,444.9 338.9,445 339,445.1 339.2,445ZM340.5,444.9 340.3,445 340.5,445.1 340.7,445ZM341.5,506.4 341.3,506.5 341.6,506.5ZM350,506.9 349.8,507 350,507.1 350.2,507ZM373,445.4 372.8,445.5 373.2,445.5ZM377,445.4 376.8,445.5 377,445.6 377.2,445.5ZM394.5,505 394.5,505.1 394.6,505ZM396,504.9 395.8,505 396.1,505ZM405.5,504.4 405.4,504.5 405.5,504.6 405.6,504.5ZM416.5,504 416.4,504 416.5,504.1 416.6,504ZM429,503.4 428.8,503.5 429,503.6 429.2,503.5ZM440,502.9 439.8,503 440,503.1 440.2,503ZM441,449.4 440.9,449.5 441.1,449.5ZM442.5,449.5 442.4,449.5 442.6,449.5ZM454.5,449.9 454.3,450 454.5,450.1 454.7,450ZM458,501.9 457.8,502 458.1,502ZM466.5,450.4 466.4,450.5 466.5,450.6 466.7,450.5ZM467.5,501.4 467.4,501.5 467.5,501.6 467.7,501.5ZM468,450.4 467.9,450.5 468.1,450.5ZM476,501 475.9,501 476.1,501ZM480,450.9 479.8,451 480,451.1 480.2,451ZM490,499.9 489.8,500 490,500.1 490.2,500ZM501.5,452.4 501.3,452.5 501.6,452.5ZM510,452.9 509.8,453 510,453.1 510.2,453ZM518.5,453.4 518.4,453.5 518.5,453.6 518.7,453.5ZM521.5,497.4 521.4,497.5 521.6,497.5ZM533,454.5 532.8,454.5 533.1,454.5ZM540,454.9 539.8,455 540,455.1 540.2,455ZM541.5,495.4 541.4,495.5 541.6,495.5ZM558.5,456.4 558.4,456.5 558.5,456.6 558.7,456.5ZM573,491.4 572.9,491.5 573,491.6 573.2,491.5ZM576,490.9 575.8,491 576,491.1 576.2,491ZM577.5,490.4 577.4,490.5 577.6,490.5ZM578.5,461.4 578.4,461.5 578.6,461.5ZM580,461.9 579.8,462 580,462.1 580.1,462ZM583,464.4 582.9,464.5 583,464.6 583.1,464.5ZM584,487.9 583.8,488 584,488.1 584.1,488ZM586,466.9 585.9,467 586,467.1 586.1,467ZM586.5,484.9 586.4,485 586.5,485.1 586.6,485ZM587.5,469.4 587.4,469.5 587.5,469.6 587.6,469.5ZM589,471.9 588.9,472 589,472.2 589.1,472ZM590,475.4 589.9,475.5 590.1,475.5ZM109.5,521.3 109.2,521.5 109.7,521.5ZM111,520.9 110.8,521 111,521.1 111.5,521.1 111.6,521 111.5,520.9ZM113,520.4 112.8,520.5 113,520.6 113.2,520.5ZM114.5,520.5 114.4,520.5 114.5,520.5ZM118.5,517.9 118.3,518 118.5,518.1 118.7,518ZM119,517.4 119,517.6 119.2,517.5ZM121,516.3 120.8,516.5 121,516.7 121.2,516.5ZM125,514 125,514.1 125.1,514ZM140,510.5 139.9,510.5 140,510.6 140.1,510.5ZM183.5,510.9 183.4,511 183.5,511.1 183.7,511ZM185,510.9 184.8,511 185,511.1 185.2,511ZM280,511.4 279.8,511.5 280,511.6 280.2,511.5ZM373,505.9 372.8,506 373,506.1 373.2,506ZM407,504.4 406.8,504.5 407.1,504.5ZM418,503.9 417.8,504 418.1,504ZM503,499 502.9,499 503,499ZM508.5,498.4 508.4,498.5 508.5,498.6 508.7,498.5ZM531.5,496.4 531.4,496.5 531.6,496.5ZM551.5,494.4 551.4,494.5 551.6,494.5ZM582.5,488.4 582.5,488.6 582.6,488.5ZM589,481.8 588.9,482 589,482.1 589.1,482ZM590,478.4 590,478.6 590.1,478.5Z" fill="#384cc3"/>
<path d="M51,424 202.4,424 207,425.3 210.5,425.5 212,425.8 216.5,427.1 220,428.4 230.5,431.3 237,431.8 245.5,432.2 251,432.9 255.5,433.2 260.5,433.9 266.5,434.1 274,434.8 279.5,435.1 285,435.7 313.5,437.2 329,437.9 366,439.3 386,440.3 436.8,444 457.5,445.4 512.2,448.5 543.8,450 559.5,450.9 579.3,452.5 594,454 594,496.8 579,498.3 558.1,500 511.5,502.3 456.5,505.5 385.5,510.5 364,511.6 323.5,513.1 297.5,514.4 280,515.4 274,516.1 268.5,516.3 263,517 256,517.4 251,518.1 245,518.3 238,518.9 235,519.3 230.5,520.4 225.5,520.4 223.5,520.8 222,521.3 219.6,523 218.5,523.5 215,524.3 210.2,525 155.5,525 152.5,524.1 145,523.3 139.5,521.8 131.5,520.2 126,520.2 121,519.7 119.5,519.9 117,520.7 116.6,520.5 127.5,514 133.5,512.2 139,511.6 141,511.5 145,512 151.5,511.9 152,512 159.5,512.2 160,512.1 160.5,512.2 161.5,512.1 165,512.3 168.5,512.1 178,511.9 178.5,511.8 179.5,511.8 180,511.7 180.5,511.8 185.5,511.7 188,511.8 188.5,511.7 189,511.8 190,511.8 193.5,512 194,511.9 200.5,512.3 201,512.2 201.5,512.3 202.5,512.3 206,512.5 206.5,512.4 210,512.7 213.5,512.5 214.5,512.6 215,512.5 215.5,512.6 223,512.4 223.5,512.3 224.5,512.4 225,512.3 225.5,512.4 229.5,512.2 234.5,512.4 235,512.3 235.5,512.4 236.5,512.3 237,512.4 244.5,512.6 245,512.5 245.5,512.6 246.5,512.5 250,512.7 252,512.5 252.5,512.6 257,512.6 257.5,512.4 258,512.6 261,512.5 261.5,512.4 262.5,512.5 263,512.4 263.5,512.5 266.5,512.4 267,512.3 267.5,512.4 268.5,512.3 270.5,512.3 272.5,512.2 273,512.3 278,512.1 280,512.2 282,511.8 285.5,511.5 290.5,510.8 291.5,510.7 292,510.6 292.5,510.6 293.5,510.4 294,510.4 300.5,509.5 301.5,509.5 302,509.4 302.5,509.4 304,509.3 306,508.9 308,508.8 311,508.5 311.5,508.3 313.5,508.3 315.5,507.9 316.5,507.9 317,507.8 317.5,507.8 320.5,507.5 321,507.3 321.5,507.4 329,506.5 330.5,506.5 334.5,506.8 335,506.7 336,506.8 336.5,506.8 337,506.9 338,506.9 338.5,507 344.5,507.4 345,507.3 346,507.4 346.5,507.4 347,507.5 350,507.7 352,507.5 352.5,507.6 355.5,507.4 356,507.3 356.5,507.4 361.5,507.1 362,507.2 365,507 365.5,506.9 366,507 367.5,506.9 369.5,506.7 370,506.8 374.5,506.6 375,506.5 375.5,506.6 378.5,506.4 379,506.3 379.5,506.4 381,506.3 383,506.1 388,506 388.5,505.9 389,506 390.5,505.9 392.5,505.7 394.5,505.7 398,505.5 401.5,505.4 402,505.3 404,505.3 407.5,505 408,505.1 412.5,504.9 413,504.8 414,504.8 414.5,504.7 415,504.8 420,504.5 420.5,504.6 423.5,504.4 425.5,504.2 426,504.3 430.5,504.1 431,504 431.5,504.1 434.5,503.9 436.5,503.7 437,503.8 440,503.7 442,503.5 444,503.5 447,503.3 447.5,503.2 448,503.2 452.5,503 453,502.9 453.5,502.9 454.5,502.8 455,502.9 460,502.5 463.5,502.4 465.5,502.2 466,502.3 469,502.1 471,501.9 471.5,502 476,501.7 476.5,501.6 477,501.6 480,501.5 482,501.2 483,501.2 483.5,501.1 484,501.2 491.5,500.6 492,500.4 493,500.4 493.5,500.3 494,500.4 495,500.2 495.5,500.2 501.5,499.8 502,499.6 503,499.6 503.5,499.5 504,499.6 505,499.4 505.5,499.4 511.5,499 512,498.8 513,498.8 513.5,498.7 514,498.8 520,498.3 523.5,497.8 524,497.9 531.5,497.1 532,497 533,497 533.5,496.8 534,496.9 541.5,496.1 542,496 542.5,496 543.5,495.8 544,495.9 551.5,495.1 553.5,494.8 554,494.9 555,494.7 560,494.3 563.5,493.6 564,493.6 565,493.4 565.5,493.4 576,491.7 584.5,488.5 589.5,482.5 589.8,481.5 591.1,477 589.7,472 586.5,466.5 580.5,461.5 570,457.7 564,456.6 563.5,456.6 562.5,456.4 562,456.4 560,455.9 555.5,455.6 555,455.6 554,455.4 553.5,455.5 553,455.4 552,455.4 551.5,455.2 545.5,454.8 545,454.8 544,454.6 543.5,454.7 543,454.6 542,454.6 540,454.3 535.5,454 535,454.1 534,453.9 533.5,454 533,453.8 532,453.9 525.5,453.3 525,453.4 524,453.2 523.5,453.3 523,453.1 522,453.2 520,452.9 515.5,452.6 515,452.7 514,452.6 513.5,452.6 513,452.5 505.5,452 505,452.1 504,452 503.5,452 503,451.9 502,451.9 494,451.3 493.5,451.4 493,451.2 492,451.3 491.5,451.1 487,450.8 485,450.8 484,450.6 483.5,450.7 483,450.5 482,450.6 480,450.3 478,450.3 476,450.2 474,450.2 465,449.7 464.5,449.8 464,449.7 461,449.6 460.5,449.7 460,449.5 451,449.3 450.5,449.1 448.5,449.2 447.5,449 447,449.1 446.5,449 443.5,448.9 443,449 441,448.8 439.5,448.7 439,448.8 438.5,448.7 437.5,448.7 434,448.3 433.5,448.4 433,448.2 428.5,447.8 428,447.9 427.5,447.7 424.5,447.4 422.5,447.4 422,447.2 419,446.9 417,446.8 416.5,446.7 413.5,446.4 411.5,446.3 411,446.2 408,445.9 407.5,445.9 404,445.5 402,445.4 400,445.1 398.5,445.1 398,445.2 397.5,445.1 396.5,445.2 394.5,445 394,445.1 393,445 392.5,445.1 392,445 389,445 388.5,445.1 388,445 386.5,444.9 384.5,445 384,444.9 379,445 378.5,444.9 375.5,444.8 375,444.9 374.5,444.8 371.5,444.8 371,444.9 366,444.7 365.5,444.8 365,444.7 362,444.7 361.5,444.8 361,444.7 356,444.7 354,444.6 352.5,444.6 352,444.7 351.5,444.5 348.5,444.5 348,444.6 344.5,444.4 342.5,444.5 340.5,444.3 337.5,444.3 337,444.4 335,444.2 333,444.3 328,444.1 327.5,444.2 327,444.1 326,444.1 325.5,444 322.5,444 322,444.1 321.5,443.9 320,443.9 318,444 314.5,443.8 312.5,443.9 310.5,443.7 305.5,443.7 302,443.1 301.5,443.1 300.5,442.9 300,442.9 299.5,442.7 295,442 294.5,442 289.5,441.1 289,441.1 287,440.7 282.5,440.2 282,440.2 281,440 280.5,440.1 280,439.9 274,439.2 273.5,439.2 272.5,439 272,439.1 270,438.7 268,438.8 264.5,438.7 261,438.9 259,438.8 256,438.8 255.5,438.9 253.5,438.8 250.5,438.8 250,438.9 248,438.8 245,438.8 244.5,439 242.5,438.8 239.5,438.9 239,439 237,438.9 228,439 219,438.8 217,438.9 215,438.8 213,438.9 209.5,438.7 208,438.7 207.5,438.8 207,438.7 204,438.7 202,438.8 200,438.6 198,438.8 197.5,438.7 196,438.8 194,439 192,439 186,439.4 175.5,439.3 168,440.9 166.5,441 157,440.7 152,441.1 151.5,441 147.5,441.2 146,441.1 140,440.1 131.5,439.1 126.5,435.5 117.9,425.5 117.5,425.1 116.8,425 107.5,428.2 107,428.6 106.5,429.3 106,429.5 106.5,430.5 107,430.4 107.5,430.7 108.4,430.5 116.5,427.7 120,431.7 125.5,437.5 130.5,440.9 139.5,441.8 147,442.8 152,442.3 152.5,442.4 157.5,442.1 161.5,442.2 162,442.1 163,442.3 163.5,442.2 164,442.3 167,442.4 176,440.6 186.5,440.7 188,440.6 188.5,440.4 189,440.5 192,440.4 192.5,440.2 193,440.3 198,440 201.5,440 202,439.9 202.5,440 203.5,439.9 204,440 207,440.1 207.5,439.9 208,440.1 213,440 215,440.1 217,440.1 222,440.2 222.5,440.1 223,440.2 227.5,440.3 228,440.1 230,440.3 233.5,440.2 235.5,440.3 239,440.1 241,440.2 244,440.2 244.5,440.1 246.5,440.2 249.5,440.2 250,440.1 252,440.2 255,440.2 255.5,440 257.5,440.2 260.5,440.1 261,440 263,440.1 269.5,440 286.5,441.9 297,443.7 297.5,443.7 298,443.9 299,443.9 302.5,444.6 304.5,444.8 305,445 307,444.9 307.5,445 308.5,445 312,445.1 312.5,445 313,445.1 317.5,445.2 318,445.1 318.5,445.3 321.5,445.3 322,445.2 327,445.4 327.5,445.3 328,445.4 329,445.4 329.5,445.5 332.5,445.5 333,445.4 333.5,445.6 337,445.5 342,445.7 342.5,445.6 343,445.7 346,445.8 348,445.7 348.5,445.9 350,445.9 351.5,445.9 352,445.8 352.5,445.9 353.5,445.8 355.5,446 356,445.9 357,446 357.5,445.9 358,446 361,446 361.5,445.9 362,446 363.5,446.1 365.5,446 366,446.1 371,446 371.5,446.1 374.5,446.2 375,446.1 375.5,446.2 378.5,446.2 379,446.1 384,446.3 384.5,446.2 385,446.3 388,446.3 388.5,446.2 389,446.3 394,446.3 396,446.4 397.5,446.4 398,446.3 398.5,446.5 399.5,446.4 403,446.8 403.5,446.7 405.5,447 408.5,447.3 409,447.2 411,447.5 414,447.8 414.5,447.7 415,447.9 419.5,448.3 420,448.3 420.5,448.4 425.5,448.8 426,448.9 429,449.2 429.5,449.2 430,449.3 431,449.3 431.5,449.5 434.5,449.8 435,449.7 437,450 439,450 439.5,450.1 444.5,450.2 445,450.3 447,450.3 448,450.4 448.5,450.3 449,450.5 452,450.6 452.5,450.5 453,450.6 456,450.7 456.5,450.6 457,450.8 460,450.9 460.5,450.8 461,450.9 469.5,451.3 470,451.2 472,451.4 473.5,451.4 474,451.3 474.5,451.5 476,451.5 478,451.5 478.5,451.6 479.5,451.6 484.5,452 485,451.9 486,452.1 486.5,452 487,452.2 488,452.1 494.5,452.7 496.5,452.7 497,452.9 498,452.8 500,453.1 504.5,453.4 505,453.3 506,453.4 506.5,453.4 507,453.5 514.5,454 515,453.9 516,454 516.5,454 517,454.1 518,454.1 526,454.7 526.5,454.6 527,454.8 528,454.7 528.5,454.9 533,455.2 535,455.2 536,455.4 536.5,455.3 537,455.5 538,455.4 546,456.2 546.5,456.1 548.5,456.4 559.5,457.2 566,458.4 566.5,458.4 567.5,458.6 568,458.6 569,458.9 569.5,458.9 574.5,460.6 579.5,462.5 583.5,465.8 585.5,467.5 588.5,472.5 589.7,477 588.5,481.5 583.5,487.5 575.5,490.5 558,493.2 554.5,493.5 548.5,494.1 548,494.2 544.5,494.5 538.5,495.1 538,495.2 534.5,495.5 528.5,496.1 528,496.2 527,496.2 526.5,496.4 526,496.3 519.5,497 518.5,497 518,497.2 517,497.2 516.5,497.3 516,497.2 507,498 506.5,498.1 506,498 505,498.2 504.5,498.2 498.5,498.6 498,498.8 497,498.8 496.5,498.9 496,498.8 491.5,499.2 488,499.6 487,499.6 486.5,499.7 486,499.6 479.5,500.2 478.5,500.2 478,500.3 477.5,500.3 473,500.5 472.5,500.6 472,500.6 471,500.7 469,500.7 467,500.9 460.5,501.2 460,501.3 459.5,501.2 455,501.5 454.5,501.6 454,501.5 449.5,501.8 449,501.9 448.5,501.8 445.5,502 443.5,502.2 443,502.2 438.5,502.4 438,502.5 437.5,502.4 436.5,502.6 433,502.6 432.5,502.8 432,502.7 431,502.8 430.5,502.7 426,503 425.5,503.1 423.5,503.1 420,503.3 418,503.3 415,503.4 414.5,503.6 414,503.5 412.5,503.5 409.5,503.7 409,503.8 408.5,503.7 405.5,503.9 404,503.9 403.5,504.1 403,504 402,504.1 400,504.1 398.5,504.2 398,504.3 397.5,504.2 394.5,504.4 394,504.5 390.5,504.5 388.5,504.7 386.5,504.7 384.5,504.9 384,504.8 381,504.9 380.5,505.1 380,505 379,505.1 377,505.1 375,505.3 373,505.3 371,505.5 370.5,505.4 367.5,505.5 367,505.7 363.5,505.7 361.5,505.9 359.5,505.9 358,506 357.5,506.1 357,506 352,506.3 349,506.3 335.5,505.4 333.5,505.4 330,505.1 328,505.4 327.5,505.4 324.5,505.7 324,505.9 323.5,505.8 319,506.3 318.5,506.5 318,506.4 313,507 312.5,507 309.5,507.3 309,507.5 305.5,507.7 303.5,508.1 303,508 300,508.3 298,508.7 294.5,509 286.5,510.1 286,510.1 281,510.8 278,511 276,510.9 273,510.9 272.5,511.1 272,510.9 270.5,511 268.5,511.1 265,511.1 263.5,511.1 263,511.2 261,511.1 258,511.2 257.5,511.3 257,511.2 255.5,511.2 252,511.4 245.5,511.2 245,511.3 244.5,511.2 243.5,511.3 243,511.2 237,511.1 236.5,511.1 235.5,511 235,511.1 234.5,511 233.5,511.1 233,511 230,510.9 227,511 226.5,511.1 225.5,511 225,511.1 224.5,511 223.5,511.1 223,511.1 210.5,511.4 207,511.2 206.5,511.3 206,511.2 205,511.2 201.5,511 201,511.1 194.5,510.7 194,510.8 193.5,510.7 192.5,510.7 189,510.5 188.5,510.6 185,510.3 181.5,510.5 180.5,510.5 180,510.6 179.5,510.5 178.5,510.6 172,510.7 171.5,510.8 170.5,510.8 170,510.9 169.5,510.8 165.5,510.9 160.5,510.8 160,510.9 159.5,510.8 151.5,510.7 150.5,510.6 150,510.7 149.5,510.6 145.5,510.5 140,509.7 133,510.3 126.5,512 114,519.2 106.5,520.8 104.5,520.6 104,520.8 103.5,520.7 102.7,521.5 103,522.2 103.5,522.8 104,523 106.5,523.2 111,522.3 111.5,522.3 112.1,522.5 108.2,524 106.5,525 51,525 51,424.5ZM112.4,522 113.1,522 112.5,522.1Z" fill="#394ec5"/>
<path d="M51,424 90.1,424 92,424.7 94,425.1 97,425.2 101.5,424.8 102.5,425 104,425.5 105,425.6 108,425 110.5,424 116.4,424 107,427.3 106.5,427.6 106,428.4 105.7,428.5 105.6,429 105,429.8 104.5,430 104.8,431 105,431.1 105.5,430.9 106,431.3 106.5,431.3 107.5,431.6 108.5,431.6 116,428.9 116.5,429.2 119.3,432.5 124.5,438 130,441.7 130.5,441.9 139.5,442.6 147,443.4 152,442.9 157,442.7 167,443 176,441.2 186.5,441.2 200.5,440.5 230,440.9 269.5,440.6 286.5,442.6 305,445.6 350,446.5 399.5,447 437,450.6 479.5,452.2 500,453.7 528,455.4 559.5,457.8 570,459.7 579.5,463.2 585.2,468 587.8,472.5 589.1,477 587.8,481.5 583.5,486.6 582.5,487.3 575.5,489.8 559.5,492.4 519.5,496.4 478,499.7 438,501.9 353.5,505.6 349,505.7 330,504.5 300,507.7 279.5,510.3 252,510.8 230,510.3 210.5,510.7 185,509.7 164.5,510.3 148.5,509.9 145,509.7 140,509 132.5,509.5 126.5,511 120,514.5 113.5,518.2 106.5,519.7 104.5,519.5 103.1,520 102.5,520.5 102,520.5 101.4,521 101.1,521.5 101.5,522.2 102.5,523.2 103,523.3 103.5,523.8 104,524 104.3,524.5 103.7,525 51,525 51,424.5ZM117.3,424 185.4,424 188,424.8 192,425.5 193.5,425.8 197.5,426 201.9,427 208.5,428.2 210,428.6 213,430 221,431.8 225.5,432.2 230.5,433.1 237,433.7 241,433.9 245,434.5 249.5,434.7 253.8,435 261,436 274.5,436.9 279.5,437 295.5,438.1 313.5,439 352,440.4 370.5,441.3 444.5,446.4 497.5,449.5 538.4,451.5 548,452.2 564.5,453.6 573.4,454.5 580.9,455.5 588,457 594,458.7 594,492.1 589.1,493.5 582.5,495 575.5,496.1 563,497.4 547.5,498.7 536,499.4 487.5,501.8 487.1,501.5 487.5,501.4 492.5,501.3 493.5,500.9 498.5,500.7 499,500.5 500.5,500.4 504,500.2 507.5,499.8 520,498.9 560,494.9 576.5,492.2 584.5,489.2 585,488.7 590.2,482.5 591.7,477 590.2,471.5 587,466.3 580.7,461 570.5,457.2 569.5,457 560,455.3 540,453.7 520,452.3 500.5,451.2 480,449.7 437.5,448.1 400,444.5 352,444 305.5,443.1 287,440.1 270,438.1 232,438.4 200,438 186,438.8 175.5,438.8 167,440.4 157,440.1 152,440.5 147,440.6 139.5,439.3 133,438.4 131.5,438 127.4,435 118.5,424.6 117.5,424ZM480.4,502 485.6,502 482,502.2 480.5,502.1ZM471.9,502.5 476.8,502.5 473.5,502.7 472,502.6ZM462.4,503 468,503 464,503.2 462.5,503.1ZM453,503.5 453.1,503.5 453,503.6ZM453.8,503.5 459.2,503.5 454.5,503.7 454,503.6ZM444.4,504 446,503.9 450.5,504 446,504.3 444.5,504.1ZM434.6,504.5 436.5,504.4 442.1,504.5 435,504.9ZM423.5,505 431,504.8 433.5,504.8 434.2,505 378,509.1 358,510.1 317,511.7 288.5,513.1 274,514.2 268,514.4 260,515 251,516.1 245.5,516.3 240.5,516.8 234.5,517.1 230,517.7 225.5,518 221,518.8 219,519.3 216,520.9 214.5,521.4 208.5,522.4 201,524.1 196,524.4 193.1,525 158.3,525 153,523.2 150,522.7 145,522.3 132,518.9 129.5,518.6 125.5,518.6 123,518.2 122.7,518 128,514.8 133.5,513.1 140,512.2 145,512.7 151.5,512.6 165,512.9 185.5,512.3 210,513.3 229.5,512.9 250,513.3 280,512.8 300.5,510.2 330,507.1 350,508.3 402,505.9 411,505.6 413,505.4 422,505.2 423.5,505Z" fill="#3a51c7"/>
<path d="M51,424 82.9,424 84.1,424.5 86,426 87.1,426.5 88,426.7 89,426.8 91.5,426.6 95.5,427 100,427 103,427.4 105,427.2 105.4,427.5 105.1,428 103.5,430.3 103.1,430.5 103.2,431.5 103.5,431.7 104,431.5 104.5,431.9 105,431.8 106.5,432.2 107,432.5 107.5,432.4 108,432.7 109,432.5 115.5,430.2 116,430.2 120,434.8 124,438.9 130,442.6 140,443.4 147,444.1 152,443.5 157,443.2 167,443.5 176,441.8 186.5,441.8 200.5,441.1 230,441.4 269.5,441.2 286.5,443.2 305,446.1 350,447 399.5,447.6 437,451.1 479.5,452.8 500,454.2 529.5,456.1 559.5,458.4 569.5,460.2 579,463.6 584.5,468.2 587.2,472.5 588,475.2 588.3,476.5 588.5,477 588.2,477.5 587.5,480.6 587,481.5 583,486.3 581.5,487 580.5,487.3 580,487.6 575.5,489.2 559.5,491.8 519.5,495.8 479.5,499 439.5,501.2 353.5,505 349,505.1 330,504 300.5,507.1 279.5,509.7 250.5,510.2 230,509.8 210.5,510.2 185,509.2 166,509.8 158.5,509.7 151.5,509.5 145.5,509.1 140,508.2 133.5,508.6 131.5,508.9 125.5,510.4 120,513.3 114.5,516.5 113,517.3 106.5,518.7 104.5,518.5 104,518.7 103.5,519.1 103,519 102.5,519.5 101.5,519.8 101,520.3 100.5,520.3 99.4,521 99.5,521.1 99.6,521.5 99.6,522 100,522.1 101,523.2 101.5,523.3 101.7,523.5 101.5,523.9 101,524 97.5,524.1 94.3,525 51,525 51,424.5ZM119.3,424 172.7,424 174.5,424.6 181.3,426 188,427.8 190.5,428.3 195.5,429.1 201,429.1 205.5,429.9 207.5,430.5 209.5,432 210.5,432.5 214.5,433.3 218.8,434.5 228.5,434.8 233,435.4 238,435.8 243.5,436.5 250,436.7 256.6,437.5 250,437.7 232,437.8 200,437.5 186,438.2 175.5,438.2 167,439.9 157,439.6 152,439.9 147,439.9 140.5,438.7 132,437.3 128,434.3 123.4,429 119.5,424.2ZM286.6,439.5 287,439.3 287.5,439.3 309,440.4 347.5,441.9 361.5,442.6 375.6,443.5 369.5,443.6 346.5,443.3 305.5,442.5 294,440.7 292,440.2 290,440.1 289.8,440 289.5,439.7 287,439.6ZM585.5,464 585.5,463.8 585.9,464 585.5,464ZM586,464.5 586,464.1 587.4,465 587,465.1 586.5,465 586,464.5ZM587.4,465.5 587.5,465.1 588.6,466 590.4,468 591.3,469.5 591.7,470.5 592.1,473 592.2,475.5 592,475.6 592,474.5 591.5,474.1 591.5,473 591.3,472.5 591,472.3 590.8,471 590,470.1 589.9,469.5 589.5,469.2 588.9,468 588.5,467.6 588.4,467 588,466.6 587.8,466 587.5,465.6ZM591.5,480 591.8,480 591.5,480.9 591.5,480.5ZM326.6,508 330,507.6 331,507.7 344,508.5 346.1,509 308.5,510.4 307.9,510 308.5,509.9 312,509.7 312.5,509.5 326.5,508ZM303,510.5 306.4,510.5 303,510.5ZM139.9,513 145,513.4 151.5,513.2 165,513.4 185,512.8 210,513.8 230.5,513.4 252,514 244,514.4 240,514.8 235,515 223.3,516.5 218,517 212.5,518.6 206.5,520 203,521.3 201,521.9 198,522.4 191.5,522.9 188.5,523.6 185,524.8 183.8,525 165.3,525 158.5,524.1 153.5,522.5 151,521.8 144.5,521.1 130.5,517.6 128.5,517.3 126.5,517.3 126.1,517 128,515.8 133.5,513.9 139.5,513.1Z" fill="#3a54c9"/>
<path d="M51,424 77.6,424 79,425.1 80.7,426 83.5,427.1 90,429.3 91,429.5 92.5,429.4 98,428.6 99.5,428.6 102,428.8 103,428.7 103.2,429 102.9,429.5 102,430.8 101.6,431 101.6,432 102,432.2 102.5,432.1 103,432.5 103.5,432.4 105.5,433.1 106,433 106.5,433.3 107,433.1 107.5,433.5 108,433.4 108.5,433.6 109.2,433.5 115.5,431.3 120,436.3 123.2,439.5 129,443.2 130.5,443.7 140,444.1 147,444.7 152,444.1 157,443.8 167,444.1 176,442.4 186,442.4 200,441.7 230,442 270,441.8 287,443.8 305,446.7 350,447.6 399.5,448.2 437,451.7 479.5,453.4 500,454.8 521,456.1 539.5,457.4 547,458 549,458.3 552.9,458.5 557.9,460 561.9,461.5 566,463.5 569.3,465.5 571.7,468 573,470 573.5,472.5 573.7,475.5 573.6,478 573.1,480.5 572.3,482 570.2,484.5 568.3,486 565.7,487.5 562.6,489 558.8,490.5 555.8,491.5 553,491.7 551.8,492 519.5,495.2 481,498.3 474,498.7 439.5,500.6 353.5,504.5 349,504.5 330,503.4 300.5,506.5 279.5,509.1 250.5,509.6 230,509.2 210,509.6 185,508.6 164,509.2 151.5,508.9 145,508.4 140,507.5 132.5,507.8 126,509.2 125.1,509.5 120,512.1 113,516.2 106.5,517.6 104.5,517.5 104,517.6 103.5,518.1 103,518 102,518.9 101.5,518.8 100,520 99.5,519.9 99,520.2 98,520.3 97.6,520.5 98.1,521 98.2,521.5 98,521.9 93.5,522.9 90.5,523.4 86.4,525 51,525 51,424.5ZM120.6,424 167.5,424 168.5,425.1 169,425.5 170,425.8 175.5,426.8 179,428 183.5,428.9 186,430 187,430.2 192.5,430.7 197,431.7 201,432.3 202.5,432.8 205.4,434 207.5,434.6 212,435.3 217,436.3 225.5,436.6 229,437 222.5,437.1 200,436.9 186,437.6 175.5,437.6 167,439.3 157,439 152,439.3 147,439.3 140.5,437.9 132.3,436.5 128.4,433.5 121,424.5ZM182.1,513.5 186,513.4 210,514.4 215,514.3 218.4,514.5 215,515 211,515.1 209.5,515.3 205,517.4 200,518.9 197.5,520.3 196.5,520.7 195,520.8 191.5,520.5 190,520.6 184.5,522.1 178,522.8 172.5,523.7 170,524 167.5,523.9 158.5,523.1 151.1,521 148.2,520.5 144.5,520.1 142.5,519.7 130.1,516.5 130,516 133.5,514.8 140,513.7 145,514 151.5,513.7 165,514 182,513.5Z" fill="#3a5acc"/>
<path d="M51,424 75.5,424 77.5,426.4 79.5,427.6 81.5,428.6 84.8,429.5 87,430.5 88,430.8 89.5,430.9 91.5,430.9 97.5,430.1 101,430.4 101.1,430.5 100.5,431.3 100.1,431.5 100,432.5 100.5,432.8 101,432.7 101.5,433 102,432.9 102.5,433.2 104,433.6 104.5,433.5 105.5,433.7 106,434 106.5,433.9 107,434.2 108.5,434.3 109,434.5 109.5,434.5 115,432.5 115.5,432.8 120,437.8 122.5,440.3 128.5,444 129.5,444.4 130.5,444.5 139.5,444.9 147,445.4 152,444.7 157,444.4 167,444.7 176,443 186,443 200,442.3 230,442.6 270,442.4 287,444.4 305,447.3 350,448.2 384.5,448.6 400.3,449 407.4,449.5 437,452.3 479.5,453.9 525.2,457 531.3,458 539,460 544.5,462 547.7,463.5 550,464.8 552.3,466.5 553.7,468 554.8,469.5 555.4,471 555.8,473.5 555.9,475.5 555.8,477.5 555.4,480 555,481 554.4,482 552.6,484 551.5,485 549.2,486.5 546.3,488 542.8,489.5 540,490.5 532.6,492.5 526.5,493.6 515.5,494.9 510.5,495.2 508.6,495.5 504.5,495.7 502.5,496 499,496.1 496.2,496.5 485,497.2 452,498.8 405.2,501.5 399,501.7 395.5,502 351,504 349,504 330,502.8 299.5,506.1 281,508.3 280,508.5 250.5,509 230,508.6 210,509 185,508 164,508.6 151.5,508.3 145.5,507.8 140,506.7 132.5,506.9 125,508.5 120,510.9 113.5,514.6 108,515.7 105.5,516.5 104,516.6 103.5,517 103,517 102,517.8 101.5,517.8 101,518.1 98.6,518.5 97.1,519.5 96.5,519.6 96,520.2 95.2,520.5 93.5,520.9 90,521.4 88.5,521.8 85.8,523.5 82.5,524.6 81.8,525 51,525 51,424.5ZM121.8,424 158.6,424 160.9,425.5 162.5,426.8 164,427.4 168.5,428 172.2,429 176.5,429.9 182.5,431.5 188,432.5 193.5,433 195.1,433.5 198,434.7 203.5,436 202,436.2 186,437 175.5,437 166.5,438.7 157,438.4 152,438.7 147,438.6 140.5,437.2 132.5,435.7 129,432.9 122,424.2ZM184.5,514 198.5,514.5 203,514.9 203.9,515 203.5,515.1 198.5,516.1 193.5,518 187.5,519.1 185,520 183.5,520.4 182,520.5 179,520.3 177,520.3 175.5,520.6 172.3,521.5 170.5,521.8 162.5,522.3 159.5,522.2 157.5,521.9 151.5,520.3 148,519.6 143.5,518.9 133.5,516.4 132.6,516 134.1,515.5 140,514.5 145,514.7 153,514.3 165,514.6 184.5,514Z" fill="#3a5ece"/>
<path d="M51,424 72.8,424 73.5,424.6 74.6,426.5 75.2,427 77.7,428.5 81,430.9 83,431.6 87.5,432.3 89.5,432.5 95.5,431.6 98,431.6 98.7,432 98.5,433.1 99.5,433.2 100,433.5 100.5,433.5 101,433.8 101.5,433.6 102,434 102.5,433.9 103,434.1 104,434.3 104.5,434.6 105,434.4 105.5,434.8 106,434.6 106.5,435 107,434.9 107.5,435.1 108.5,435.3 109,435.6 110,435.4 114.5,433.8 115,433.8 120,439.3 122,441.2 128,444.8 129,445.2 130,445.4 139,445.6 147,446 152,445.3 157,445 167.5,445.2 176,443.6 186,443.6 200,442.9 230,443.2 267.6,443 274,443.5 285.5,444.8 305,447.9 376.5,449.2 433,452.5 436,452.8 453,453.5 475,454.6 487,455.5 503.7,457 511.6,458 514.4,458.5 518.7,459.5 525.2,461.5 528.9,463 531.5,464.3 533.5,465.5 534.9,466.5 536.3,468 537.5,469.5 538.2,471 538.5,473.5 538.6,475.5 538.2,479.5 538,480.5 537.4,481.5 536.2,483 534.6,484.5 533.2,485.5 530.5,487 527.3,488.5 524.7,489.5 517.9,491.5 511,492.9 501.8,494 477,496.1 438.6,498 398.5,500.3 379.2,501.5 358.6,503 350,503.4 330,502.2 299.5,505.5 291,506.5 276.5,507.1 267,507.7 258.5,507.9 251,508.4 230,508 210,508.4 185,507.4 166,508 157,507.9 152,507.8 145.5,507.1 140,506 132,506.1 124.5,507.6 120,509.7 114.5,512.9 112,513.1 108.5,514.1 104.5,514.6 102.5,515.1 99.4,516.5 96,517.7 93,519.1 89,520.2 87.5,520.7 84.5,522.5 81.5,523.5 78.9,525 51,525 51,424.5ZM123,424 151.8,424 153.2,426 153.9,426.5 158,427.4 160.5,428.9 166,430.7 169.5,431.5 173.5,431.9 184.5,433.5 190,434.7 191,435 192.6,436 186,436.4 175.5,436.4 166.5,438.1 157,437.8 152,438.1 147,438 140.5,436.5 133,435 129.5,432.1 123.4,424.5ZM150.5,515 153,514.9 165,515.2 185,514.6 193.6,515 191.3,516 187.5,517 184.5,517.4 180,517.5 177.5,517.8 173.7,518.5 169,520 160.5,520.8 158,520.8 155.5,520.4 145,518.3 136,516 140,515.2 144.5,515.4 150.5,515Z" fill="#3a64d1"/>
<path d="M51,424.5 51,424.2 56,424.4 57.5,424.3 59.1,424 64.3,424 67,425.5 70,426.3 72,427.2 75.4,429 77.8,431 79.6,432 82,433 84,433.5 90,434 94.5,433.3 96.5,433.3 97,433.7 98,433.8 98.5,434.1 99,434 99.5,434.4 100,434.2 100.5,434.5 101,434.4 101.5,434.7 102.5,434.9 103,435.1 103.5,435 104,435.4 104.5,435.2 105,435.5 105.5,435.4 106,435.7 107,435.9 107.5,436.1 108,436 108.5,436.4 109,436.2 109.5,436.5 110.5,436.3 114.5,434.9 120,440.9 121.3,442 127.5,445.6 128.5,446 130,446.3 139,446.4 146.5,446.7 152,445.8 157,445.5 167,445.8 176,444.2 186,444.1 200,443.4 230,443.7 243,443.7 252.5,443.9 277.5,444.9 286,445.5 305,448.4 358.2,449.5 380.5,451 424,453.5 462,455.4 472,456.1 487.5,457.6 495.5,458.5 498.2,459 502.6,460 509.1,462 511.6,463 514.7,464.5 518,466.5 519.6,468 520.8,469.5 521.3,470.5 521.6,471.5 522,475.5 521.6,479.5 521.3,480.5 520.6,481.5 518.4,484 517,485 514.3,486.5 511.1,488 508.5,489 505.5,490 501.8,491 496.5,492.1 487.5,493.2 472.5,494.6 461.5,495.4 426,497.2 385.5,499.5 368,500.6 343.5,502.4 330,501.7 298.5,505 264.5,506.3 258.5,506.4 255,506.6 250.5,507.1 246,507.1 239.8,507.5 236.5,507.6 230,507.5 210,507.9 185,506.9 165,507.5 157,507.3 152,507.2 145.5,506.4 140,505.2 132,505.2 125,506.4 124,506.7 120,508.5 115,511.4 113,511.4 111.5,511.6 107.5,512.6 103.5,513.2 101,513.9 100,514.3 97,516.1 92,517.7 87.5,518.7 86.5,519.2 84.7,520.5 83.8,521 82.5,521.4 80.5,521.6 77.5,523.8 76.5,524.1 74,524.6 72.9,525 51,525 51,425ZM124.2,424 142.9,424 143.6,424.5 144.5,424.9 147.5,425.8 148.5,426.4 150.5,428 153.5,429.1 154.1,429.5 155.1,431 155.8,431.5 156.5,431.7 157.5,432 166.5,433.2 171.5,434.2 173.5,434.4 180.5,434.5 182.5,434.9 184.5,435.5 181.5,435.8 175,435.9 166.5,437.5 157,437.3 152,437.6 147,437.3 140.5,435.7 133.5,434.2 133,434 130,431.5 124.5,424.4ZM151.6,515.5 165,515.7 177,515.4 179.2,515.5 177.4,516 174.5,516.5 168,517.3 163.7,518.5 157,519.4 155,519.3 152.8,519 146,517.6 142,516.5 142.5,516.1 145,516 151.5,515.5ZM140,516 140.7,516 140,516Z" fill="#3a69d3"/>
<path d="M125.3,424 140.4,424 141.5,425.3 143.7,427 145,428.5 145.8,429 148.9,430.5 150.8,432 151.8,432.5 154,433.2 156,433.7 161.8,434.5 167.2,435.5 171.6,436 170,436.1 169,436.5 166.5,437 157,436.7 152,437 147.5,436.7 133.5,433.4 130.7,431 125.5,424.3ZM51,425.5 53.5,425.6 59,426.1 60.5,426.3 66.5,428.5 70.5,429.2 72,429.7 73.5,430.3 76.4,432 82,434.4 84,434.9 89,435.4 95,435.5 98.5,434.7 99,435.1 99.5,435 100,435.3 100.5,435.3 101.5,435.6 102,435.6 102.5,435.9 103,435.8 103.5,436.1 104,436 104.5,436.3 105,436.3 106,436.6 106.5,436.6 107,437 107.5,436.8 108,437.1 108.5,437 109,437.3 110,437.5 110.5,437.4 114,436.1 114.5,436.3 120,442.4 120.5,442.8 127,446.5 128,446.9 129.5,447.2 139.5,447.1 146.5,447.3 152,446.4 157,446.1 167,446.4 176,444.7 186,444.7 200,444 232,444.4 273,446.2 289.5,446.8 292,447 304.5,449 329,449.5 342.4,450 362.5,451.4 380.5,452.5 414,454.4 447,456 460.5,457.1 474.5,458.4 482.6,459.5 488.5,460.9 494,462.7 499.1,465 500.9,466 502.3,467 503.8,468.5 504.9,470 505.5,471.5 505.9,475.5 505.5,479.5 504.8,481 503.6,482.5 502.1,484 498.8,486 494.4,488 488.2,490 481.5,491.5 473.9,492.5 457.5,494 445.5,494.9 412.1,496.5 376,498.6 359,499.6 336,501.3 329.5,501.1 311.2,503 290.5,504 258.5,505 251,505.5 246.5,505.6 241.5,506 230.5,506.5 225,507 210,507.3 185,506.3 165,506.9 152.5,506.6 145.5,505.8 140,504.5 131.5,504.4 124.6,505.5 123.5,505.8 120,507.4 115.5,510 115,510.1 112.5,510.2 107.5,510.8 99.5,512.3 98,513 96,514.7 94.3,515.5 91.5,516.4 88,516.9 86,517.4 83.2,518.5 81.2,519.5 80,519.9 78,521 76,522.5 75,522.8 72.5,523.1 71,523.5 70.6,524 70.1,525 51,525 51,426ZM147.3,516.5 152,516.1 161.2,516.5 156.5,517.7 155,517.9 153,517.8 147.4,517Z" fill="#3a70d6"/>
<path d="M127,424.5 132.3,424 137.6,424 140.2,427 141.4,429 141.9,429.5 145.1,431 145.8,431.5 147.4,433 148.5,433.6 152,435.1 155.7,436 152,436.3 147.5,436.1 134,432.7 131.3,430.5 127.1,425 127,424.5ZM51,427 51,426.9 52,426.9 57.5,427.2 59,427.4 61,427.9 65.2,429.5 71,430.8 74.4,432.5 78,433.9 81,435.5 82.4,436 84,436.3 89,437 93,436.9 95.5,436.6 98,435.8 99,435.8 100,436.2 100.5,436.2 101,436.5 101.5,436.3 102,436.7 102.5,436.5 103,436.9 103.5,436.8 104.5,437.2 105,437.2 105.5,437.5 106,437.4 106.5,437.7 107,437.5 107.5,437.9 108,437.8 109,438.2 109.5,438.2 110,438.5 114,437.3 120,443.8 126.5,447.3 128,447.8 129.5,448.1 139,447.9 146.5,448 152,447 157,446.7 167.5,447 176.5,445.3 186,445.3 200,444.6 218.5,444.8 229.5,445.4 234.5,445.8 243.5,446.1 253,446.8 262,446.9 271,447.5 289.5,448.1 298,448.6 304.5,449.6 320.8,450 344.5,451.7 362,452.9 399.4,455 432.5,456.6 445.5,457.6 460.4,459 467.6,460 474,461.5 479.9,463.5 484.1,465.5 485.8,466.5 487.1,467.5 489.3,470 490,471.5 490.4,475.5 490.3,477.5 490,479.5 489.2,481 486.9,483.5 485.5,484.5 483.7,485.5 479.4,487.5 476.6,488.5 473.3,489.5 469.2,490.5 466.4,491 459.5,491.9 447.9,493 435.2,494 400,495.8 359,498.1 304.5,501.9 288.5,502.8 269.5,503.3 241.5,504.6 236.5,504.7 219,505.6 208,506.6 185,505.7 165,506.3 152,506 145.5,505.1 140,503.8 131.5,503.5 124.5,504.5 123,504.9 120,506.2 115,509.1 109,509.4 103.5,509.1 101.5,509.4 97.2,510.5 95.9,511 95.1,511.5 93.5,513.3 92,514.2 90.5,514.7 87.5,515.4 84,516.8 78.5,517.8 77,518.9 75.5,519.7 74,521.1 73.2,521.5 69.3,522.5 68.3,523 67,524.3 66,524.7 64.4,525 62.1,525 59,524.2 58,524 57,524.2 55.1,525 51,525 51,427.5Z" fill="#3a76d8"/>
<path d="M128.5,425.5 129.5,425.4 131.5,425.5 134,425.9 135,426.2 136,427 136.7,428 136.9,428.5 136.6,430 136.7,430.5 137.1,431 137.8,431.5 139,432 142.5,433 143.4,433.5 144,434 143.5,434.1 142.5,434.1 142,433.8 134,431.8 132,430 128.5,425.5ZM55.5,429 57.5,428.7 59,428.8 63,430.1 69.5,431.5 70.8,432 73,433.2 76.2,434.5 78,436 78.9,436.5 80.5,437 83.1,437.5 88,438.1 91.5,438.2 94.5,437.7 98,436.7 99,436.8 99.5,437 100,436.9 100.5,437.3 101,437.1 101.5,437.4 102,437.4 102.5,437.6 103.5,437.8 104,438.1 104.5,437.9 105,438.3 105.5,438.1 106,438.4 106.5,438.4 107,438.6 108,438.8 108.5,439.1 109,438.9 109.5,439.3 110,439.1 110.5,439.5 113.5,438.5 114,438.8 118.5,443.8 120,445.1 126,448.2 127.5,448.7 129,448.9 139,448.7 146.5,448.6 152,447.6 157,447.3 167.5,447.5 176.5,445.9 186,445.9 197.5,445.3 205,445.5 211,445.9 215.5,445.8 222.5,446.5 242,447.4 252,448.2 255.5,448.3 262,448.2 271,448.7 290.5,449.5 304,450.3 331.5,452.3 349.1,453.5 388.5,455.7 420.5,457.3 440.5,458.9 451.5,460.2 455.7,461 461.3,462.5 465.5,464 469.6,466 471.9,467.5 474.2,470 475,471.5 475.3,473.5 475.4,476.5 474.9,479.5 474.4,480.5 473.7,481.5 471.7,483.5 468.3,485.5 464.5,487.2 460.7,488.5 454.8,490 450.5,490.7 444.1,491.5 429.5,492.8 420.5,493.5 389.4,495 347,497.4 304,500.5 287,501.5 258.5,502.5 229,503.9 220.5,504 214.5,504.7 210,505.1 205.5,505.9 185,505.1 165,505.7 152,505.5 145.5,504.4 140,503 131,502.7 124,503.6 122.5,504 120,505 114.5,508.2 110,508.2 105,507.8 103,507.8 100.5,508.2 96,509.5 92.3,511 90,512.7 89,513.2 86,514.3 83.5,515.6 81.9,516 77.5,516.5 73.5,518.4 69.4,521 66,522.6 64.5,523.1 62.5,523.3 58.5,522.7 57,522.7 55.4,523 53,523.9 51,524.1 51,429.6 53.5,429.4 55.5,429Z" fill="#3a7ddb"/>
<path d="M51,431 51,430.7 57.5,430.6 61.5,431.1 66.6,432 68.2,432.5 73.9,435 74.6,435.5 76,436.9 77,437.4 79.5,438 83,438.6 88,439.1 91.5,439.2 95.5,438.3 98.5,437.3 99,437.6 99.5,437.7 100,438 100.5,437.9 101,438.2 102,438.4 102.5,438.6 103,438.5 104,438.7 104.5,439 105,438.9 105.5,439.2 107,439.3 108,439.7 108.5,439.7 109,440 109.5,439.9 110,440.2 110.5,440 111,440.4 113,439.8 113.5,439.8 118,444.7 120,446.3 125.5,449.1 127,449.6 128.5,449.8 146.5,449.3 152,448.2 157,447.8 167.5,448.1 176.5,446.4 186,446.4 194.5,446 200.5,446.7 205.5,446.9 210.5,447.3 216.5,447.3 222.5,447.9 236,448.4 254,449.4 261.5,449.4 279,450.3 285.5,450.5 337,454.1 378,456.5 408.6,458 420.5,458.9 432,460 439.5,461 444,462 447.5,463 450.4,464 454.8,466 456.5,467 457.9,468 460,470.5 460.6,472 460.9,475.5 460.6,479 459.9,480.5 457.6,483 455.3,484.5 451,486.6 448.4,487.5 445.2,488.5 439.5,489.8 433,490.7 423.5,491.6 410,492.7 376,494.4 337.5,496.6 285,500.3 270.5,500.8 263.5,501.2 258,501.3 250.5,501.7 244,501.7 228.5,502.7 220.5,502.8 215,503.3 210,503.6 203,504.4 197,504.4 192.5,504.7 185,504.6 165,505.2 152,504.9 145.5,503.8 140,502.3 132,501.8 130.5,501.8 124,502.6 122,503 120,503.8 114,507.3 113.5,507.4 107,506.8 103,506.7 100.5,507 97,508 95,508.6 91.5,510.1 87,512.4 82.6,513.5 80,514.6 77,515.2 69.5,519.2 65.6,521 64.2,521.5 61.5,521.8 53.5,521.6 51,521.3 51,431.5Z" fill="#3983dc"/>
<path d="M51,432 51,431.7 56,431.6 59,431.8 61,432.2 62.1,432.5 65,433.8 69,434.7 71,435.4 72.1,436 73.9,437.5 75,438 81.5,439.5 87,440.1 90.5,440.2 94,439.5 99,438 99.3,438.5 100,438.6 100.5,438.9 101,438.9 101.5,439.1 102.5,439.3 103,439.5 103.5,439.4 104,439.8 104.5,439.6 105,439.9 105.5,439.9 106,440.1 107,440.3 107.5,440.6 108,440.4 108.5,440.8 109,440.6 109.5,440.9 110,440.9 110.5,441.1 111.5,441.3 113,440.9 117.3,445.5 120,447.6 125,450 126.7,450.5 128.5,450.8 139,450.2 146.5,449.9 152,448.7 157,448.4 167.5,448.7 176.5,447 189,446.9 200,447.9 204.5,448.1 209.5,448.5 216,448.7 221,449.2 235,449.7 241,450.1 247,450.2 254,450.5 259.5,450.6 267.5,450.9 278,451.6 284,451.8 329.4,455 364.5,457 396.5,458.6 407,459.4 418.8,460.5 426.3,461.5 430.8,462.5 434.2,463.5 437,464.5 441.3,466.5 443.7,468 444.7,469 446,470.5 446.6,472 446.9,475.5 446.6,479 445.8,480.5 444,482.5 442.7,483.5 441,484.5 436.5,486.5 431.9,488 426.5,489.2 420,490.2 411.6,491 398,492.1 365.5,493.7 326.1,496 299,497.9 284.5,499 269,499.7 262,500.1 256,500.2 249,500.6 242.5,500.5 236,501.1 226.5,501.6 219.5,501.6 215,502 210,502.2 200.5,502.9 194.5,502.9 184.5,504 165,504.6 152,504.3 145.5,503.1 140,501.5 132,500.9 130.5,500.9 123.5,501.6 121.5,502.1 120,502.6 113,506.6 107.5,505.7 102.5,505.5 100,505.8 94,507.6 85.5,511.3 80,512.5 76.5,513.9 68.9,518 67.5,518.6 65.5,519.1 60.5,520.2 58.5,520.5 56,520.5 51,520 51,432.5Z" fill="#3889de"/>
<path d="M51,433 56,432.7 57.5,432.8 59.1,433 63,434.7 67.5,435.6 68.8,436 69.9,436.5 71.5,437.8 72.5,438.3 76.1,439.5 78.5,440.5 79.5,440.7 89.5,441.2 93.5,440.4 98.5,438.9 99,439 99.5,438.9 100,439.7 101,439.8 101.5,440.1 102,440 102.5,440.3 103,440.2 103.5,440.5 104,440.4 104.5,440.7 105.5,440.8 106,441.1 106.5,441 107,441.4 107.5,441.2 108,441.5 108.5,441.4 109,441.7 110,441.9 110.5,442.1 111,442 111.5,442.4 112.5,442.1 113,442.3 116.9,446.5 120,448.8 124.8,451 126.5,451.5 128,451.7 129.5,451.7 138.5,451 146,450.6 147.5,450.4 152,449.3 154,449.2 157,449 167.5,449.3 176,447.7 177.5,447.6 179.5,447.7 183,448.3 188,448.3 194,449 203,449.2 213.5,449.8 220.5,450.4 225,450.4 229.5,450.8 235.5,450.8 241,451.2 247.5,451.3 267.5,452.1 276,452.8 283,453.1 303.5,454.7 317,455.5 354.5,457.7 385,459.2 406.1,461 413.6,462 418,463 422.9,464.5 427.4,466.5 429.2,467.5 430.6,468.5 432.4,470.5 433.1,472 433.4,475.5 433.1,478.5 432.6,480 431.8,481 430.3,482.5 428,484 423.7,486 419.2,487.5 414,488.7 408,489.6 398.9,490.5 386.6,491.5 355.5,493.1 319.5,495.1 297.5,496.5 286.5,497.5 268.5,498.5 261,499 255,499.2 249,499.5 241,499.5 231,500 225.5,500.4 219,500.4 199.5,501.6 194.5,501.6 177.5,503.3 175.5,503.4 172,503.4 169,503.8 166,504 152,503.7 145.5,502.4 140,500.8 132,500 130,500 123,500.7 120.5,501.2 112.5,505.8 108,504.9 103.5,504.3 101.5,504.2 100,504.4 96,505.6 91.4,506.5 88.5,508 84,509.5 78,511.7 75.5,512.9 70,515.7 66.5,517.1 61.5,518.4 57.5,519 55,519.2 51,518.9 51,433.5Z" fill="#3690de"/>
<path d="M55.1,434.5 56.5,434.3 58,434.5 61.5,435.8 66,436.5 67.5,436.9 68.5,437.4 71,439.1 74,440.3 76,441.6 78,442.1 88.5,442.3 93,441.3 95.5,440.7 97.5,439.9 99,439.7 101,440.9 101.5,440.7 102,441.1 102.5,441 103,441.3 104.5,441.6 105,441.6 105.5,441.9 106,441.8 106.5,442.1 107,442 107.5,442.3 109,442.6 109.5,442.6 110,442.9 110.5,442.8 111,443.1 111.5,443 112,443.3 112.5,443.3 116.5,447.5 120,450.1 124.5,452 126,452.4 127.5,452.6 129.5,452.6 138.5,451.8 146,451.3 152.5,449.8 157,449.6 167.5,449.8 175.5,448.4 176.4,448.5 180,449.4 182,449.6 187.5,449.5 194.5,450.3 199,450.2 208.5,450.6 220,451.4 224,451.5 228.5,451.9 234,451.9 242,452.3 247.5,452.3 258,452.8 283,454.4 307,456.2 345.5,458.4 372.5,459.7 389,461 395.5,461.7 400.5,462.3 405.8,463.5 410.6,465 415,467 417.4,468.5 419.2,470.5 420,472 420.4,475 420.3,477.5 420,479 419.8,479.5 418.2,481.5 416.4,483 413.6,484.5 410,486 406,487.2 401.5,488.3 397,489 387,490 374.3,491 344.4,492.5 298.5,495.1 287,496.1 268,497.3 260.5,497.9 248.5,498.5 242.5,498.5 232.5,498.8 224.5,499.3 217.5,499.3 207.7,500 193.5,500.6 189.5,501 185,501.2 177,502.1 171.5,502.1 165,503.3 160,503.3 152,503.2 145.5,501.7 140,500 131.5,499.1 130,499.1 123,499.6 120,500.2 112,504.9 111,504.9 104,503.2 101,503 99,503.3 95,504.6 89.5,505.2 87.5,506 83.5,508 78.5,510 75,511.1 72.9,512.5 68,514.6 64.5,515.5 62,516.5 60,517 54.5,517.8 51,517.7 51,434.7 55,434.5Z" fill="#3596e0"/>
<path d="M51,436 51,435.7 52.5,435.8 57.3,437 62.5,437.3 65.5,437.8 67,438.4 69.7,440 72.5,441.3 75,442.9 76,443.3 77.5,443.6 82,443.7 87.5,443.5 89,443.2 94.5,441.7 97.5,440.6 99.5,440.6 100.1,441 100.5,441.1 101.5,441.8 103.5,442.2 104,442.5 104.5,442.3 105,442.7 105.5,442.5 106,442.8 106.5,442.8 108,443.2 108.5,443.5 109,443.3 109.5,443.7 110,443.5 110.5,443.8 112,444 112.5,444.5 112.5,444.8 115.5,448 120,451.3 124,453 127,453.5 129,453.5 138.5,452.5 146,452 147.5,451.7 152,450.5 157,450.2 167.5,450.4 173,449.4 174,449.4 180.5,450.6 186.5,450.8 193.5,451.5 198.5,451.5 203.5,451.7 208.5,451.8 213,452.2 223.5,452.6 228.5,452.9 248,453.4 300.9,457 335.5,458.9 363,460.3 382.6,462 389.8,463 394.1,464 398.7,465.5 403,467.5 405.2,469 406.9,471 407.5,472.5 407.8,475.5 407.5,478.5 407.1,479.5 406.4,480.5 405,482 402.6,483.5 398.5,485.4 394.5,486.7 388.7,488 384,488.6 375.4,489.5 362.7,490.5 334,491.9 297.5,494 265,496.3 260,496.7 250,497.3 223.5,498.1 217.5,498.2 202.5,499 197.5,499.5 190,499.8 186,499.8 181,500.6 178.5,500.9 176,501 172,500.9 167,501.4 162.5,501.6 160.5,502 158.8,502.5 157,502.7 152,502.6 146,501.2 141,499.6 139,499.1 130.5,498.2 122.5,498.6 120,499.1 111,504.2 109,503.8 104.6,502.5 103,502.2 100.5,502 98.5,502.1 94,503.5 90,503.9 88,504.4 85.2,505.5 80.5,507.8 74,509.8 72.4,511 71,511.8 69,512.3 64.5,513 63.3,513.5 61,514.8 59.5,515.3 58,515.6 55,515.9 51,516 51,436.5Z" fill="#349ce0"/>
<path d="M51,437.5 51,437.3 52,437.4 56.5,438.6 58,438.7 61.5,438.4 64,438.8 65.5,439.3 68.5,440.9 71.5,442.2 75,444.3 76,444.6 77.5,444.8 83,445 85.5,445 86.5,444.8 88.5,444.3 94,442.5 97,441.3 97.5,441.2 98,440.9 98.5,441.1 99,440.8 99.5,441.1 100.5,441.2 100.9,441.5 101.1,442 101.5,442.1 102,442.1 102.5,442.5 103,442.2 103.5,442.6 104.5,442.6 105,443 105.5,443 106,443.1 106.5,443.1 107,443.5 107.5,443.2 108,443.6 109,443.6 109.5,444.1 111,444.1 111.5,444.5 112,444.2 112.3,444.5 112.5,445.5 115.4,448.5 116,449 116.5,449.3 118.1,450.5 118.5,450.7 119.5,451.5 120,451.7 121,452.5 121.5,452.7 122.5,453.5 123,453.6 123.5,453.9 124.5,454.2 126.5,454.4 129,454.4 138.5,453.3 146,452.6 147.5,452.3 152,451 157,450.7 167.5,451 170.5,450.5 175,450.8 180,451.7 185,451.9 190,452.5 208,453 213,453.3 217.5,453.3 236,454.2 247.5,454.5 252.5,454.9 256.5,455.1 297.5,457.9 353,460.9 371.7,462.5 378.7,463.5 382.8,464.5 387.2,466 390.5,467.5 392.9,469 394.7,471 395.2,472 395.4,472.5 395.6,475.5 395.3,478.5 394.9,479.5 393.2,481.5 391,483 386.7,485 382,486.5 377.6,487.5 372,488.3 363.5,489.1 351.8,490 296.5,492.9 273,494.4 267.5,494.9 262,495.2 251.5,496.1 238,496.8 227.5,496.9 211,497.4 198,498.3 186.5,498.6 178,499.9 172,499.8 167,500.2 161.5,500.5 156.5,501.4 153.5,501.7 152,502 146,500.5 141,498.8 139,498.4 130.5,497.3 123.5,497.6 122.5,497.9 121.5,498 121,498.4 120.3,498.5 118.4,499.5 118,499.9 117.4,500 117,500.4 115.8,501 115.5,501.3 114.9,501.5 114.5,501.9 114.1,502 113,502.8 112.5,502.9 112,503.3 111.5,503.4 111,503.7 109,503.2 105,501.9 101.5,501.2 98.5,501 95,501.3 87.5,503.3 84,504.8 80,506.7 73.5,508.4 70.6,510.5 69.5,510.9 65,511.5 63.5,511.8 61.6,512.5 59,513.8 58,514.1 56,514.3 51,514.4 51,438Z" fill="#32a3e1"/>
<path d="M51,439 51,438.9 52.5,438.9 57,439.7 61,439.6 62.5,439.8 64,440.2 66.6,441.5 70.5,442.9 71.5,443.5 73,444.8 74,445.2 76,445.7 82.5,446.1 85,446.1 88,445.3 94,443.1 98,441.4 98.5,441.4 99,441 99.5,441.3 100.5,441.3 100.8,441.5 101,442.1 101.5,442.3 102,442.2 102.5,442.6 103,442.3 103.5,442.7 104,442.6 105,443.1 105.5,443.1 106,443.3 106.5,443.2 107,443.6 107.5,443.3 108,443.7 108.5,443.7 109.5,444.1 110,444.1 110.5,444.3 111,444.2 111.5,444.6 112,444.3 112.2,444.5 112.4,445.5 114.8,448 116.5,449.5 121.5,453 123.2,454 124.2,454.5 125,454.7 125.4,455 126.5,455.1 127,455.4 127.5,455.4 146,453.3 152,451.6 157,451.3 159.5,451.4 163.5,451.7 168.5,451.7 174.5,452.3 178.5,452.8 184,452.9 190.5,453.6 208,454 212.5,454.3 218,454.2 232,454.9 236,455.2 240.5,455.2 247,455.6 252,456.1 285,458.3 343,461.4 361.3,463 367.5,463.9 371.9,465 376.2,466.5 379.3,468 381.5,469.5 383.2,471.5 383.6,472.5 383.9,475.5 383.6,478.5 383.1,479.5 381.3,481.5 378.9,483 375,484.8 370.5,486.2 366.9,487 359.5,488 341.5,489.5 296,491.8 274,493.2 266.5,493.9 259.5,494.1 252,494.9 238.5,495.7 221.5,496.1 216,496.4 209.5,496.6 201,497.1 187,497.6 177.5,498.8 170,498.7 156.5,500 152,500.1 149.5,500.6 148.5,500.5 146,499.9 141,498.1 139,497.6 130.5,496.4 126.8,496.5 126,496.9 124.7,497 124,497.3 122.7,497.5 120,498.5 112,503.1 110.4,503 105.5,501.4 100.5,500.4 97,500.1 94,500.3 86,502.3 80.5,505.2 79,505.8 75.5,506.5 74,507 72.5,507.6 69.5,509.3 67.7,510 62.9,511 59,512.3 58,512.5 56.5,512.5 52,512.1 51,512 51,439.5Z" fill="#32aae1"/>
<path d="M51,440 51,439.8 52.5,439.8 56.5,440.6 61.5,441 69,443.6 70,444.2 72,445.9 73,446.3 75,446.6 83,447.2 85,446.9 88.5,445.9 91,444.9 99,441.5 100.5,441.4 100.7,442 101.5,442.5 102,442.3 102.5,442.7 103,442.5 103.5,442.8 104,442.7 105,443.2 105.5,443.2 106,443.5 106.5,443.3 107,443.7 107.5,443.5 108,443.8 108.5,443.7 109.5,444.2 110,444.2 110.5,444.5 111,444.3 111.5,444.7 112,444.5 112.2,445 112.3,445.5 115.7,449 122.1,453.5 124,454.5 126.7,455.5 129.5,455.8 130.4,456 138,454.9 146,454 152,452.2 156.5,451.9 162.5,452.8 168,452.8 173,453.5 177,453.9 183.5,453.9 191,454.6 203.5,455 208.5,455 213,455.2 221,455.3 236,456.2 242,456.4 250.5,457.1 278,459 333,461.9 351,463.5 356.5,464.3 361.5,465.5 365.6,467 368.6,468.5 370,469.5 371.8,471.5 372.3,472.5 372.6,475.5 372.2,478.5 371.7,479.5 369.8,481.5 367.3,483 363.8,484.5 358.9,486 354.5,486.9 349.5,487.5 331.9,489 278,491.8 266,492.8 259.5,492.9 242.5,494.4 215,495.6 196.5,496.2 187,496.7 177.5,497.5 172,497.5 168,497.7 157,498.8 150,498.8 148.3,499 147,499.4 146,499.2 141,497.4 139.5,496.9 130.5,495.5 130,495.8 128.2,496 127.5,496.3 126.5,496.4 126,496.7 124.3,497 121,498 119,498.9 113.5,502.2 112,502.6 109.5,502.2 105,500.8 100,499.8 97.5,499.4 94,499.5 86,501 84,501.7 81,503.8 79.6,504.5 78,505 74.3,505.5 72.6,506 72,506.3 70.5,507.5 65.7,509.5 58.5,511.2 57,511.4 55,511.2 51,510.7 51,440.5Z" fill="#30b1e2"/>
<path d="M51,441 51,440.8 52,440.8 55.5,441.6 60,442.1 66,443.7 68,444.5 71,446.9 72.5,447.5 77,448 81.5,448.2 83.5,448 89,446.4 95.3,443.5 100.5,441.5 100.6,442 101.5,442.6 102,442.4 102.5,442.7 103,442.6 103.5,442.9 104,442.8 105,443.3 105.5,443.2 106,443.6 106.5,443.4 107,443.8 107.5,443.6 108,443.9 108.5,443.8 109.5,444.3 110,444.3 110.5,444.7 111,444.4 111.5,444.8 112,444.7 112.2,445.5 115,448.5 117,450.1 122,453.5 124,454.6 126.4,455.5 130,456.1 135,456.2 146,454.6 152,452.8 154.5,452.7 161.5,453.8 168,453.8 172.5,454.6 175,454.8 183,454.9 190,455.5 198,455.8 208.5,455.9 213.5,456.2 221,456.3 237,457.3 243,457.5 248.5,458.1 254.5,458.4 264.5,459.2 322.5,462.3 340.5,463.8 345.3,464.5 349.7,465.5 354.2,467 357.3,468.5 359.5,470 360.8,471.5 361.3,472.5 361.6,475.5 361.4,478 361,479 359.3,481 357,482.5 353.7,484 348.9,485.5 344.5,486.4 340.1,487 322.8,488.5 281,490.6 265.5,491.7 259.5,491.8 243.5,493.2 237,493.4 226,494.3 212.5,494.9 198.5,495.2 186.5,495.7 179,496.3 165.5,496.6 162.5,496.9 157,497.7 150,497.7 148,497.9 146,498.3 145.5,498.3 141,496.6 139,496.1 135,495.4 130.5,495.4 128,495.9 121,497.9 119,498.8 113.5,502 112.5,502.1 110.5,501.8 105,500.3 100,499.2 96.5,498.7 93.5,498.8 89.5,499.5 85.5,500 84,500.4 83,500.9 80,503.1 78.5,503.8 77.5,504.1 73.5,504.6 71.2,505 69.6,506.5 69,506.9 64.1,509 58,510.2 56.5,510.3 55,510.2 51,509.6 51,441.5Z" fill="#30b6e0"/>
<path d="M99.2,442.5 100.5,442.1 101.5,442.8 102,442.5 102.5,442.8 103,442.7 103.5,443 104,442.8 104.5,443.2 105.5,443.3 106,443.7 106.5,443.5 107,443.8 107.5,443.8 108,444 108.5,443.9 109,444.3 110,444.4 110.5,444.8 111,444.5 111.5,444.9 112,444.9 112.1,445.5 113.8,447.5 115,448.7 120.5,452.6 122.6,454 124.7,455 126.5,455.6 129,456.1 132.5,456.2 134.5,456.6 137.8,456.5 146,455.3 151.5,453.5 160.5,454.8 167.5,454.9 175,455.8 182.5,455.8 190,456.4 198,456.7 208,456.8 214,457.1 219.5,457.1 227.5,457.8 242.5,458.6 248,459.2 254,459.4 264.5,460.2 311.5,462.6 328,464 336,465 341.7,466.5 344.4,467.5 346.5,468.5 348.8,470 350.2,471.5 350.7,472.5 351,474.5 351,476.5 350.6,478.5 350,479.5 348.6,481 347,482 343.9,483.5 341.1,484.5 337.4,485.5 332.5,486.3 326.4,487 316,487.9 282.5,489.6 266,490.7 259,490.9 251,491.4 243.5,492.1 237,492.3 226,493.4 213.5,494 206.5,494.2 199,494.2 193.5,494.5 188,494.5 179.5,495.3 164,495.5 155.5,496.6 149,496.8 145,497.4 139.5,495.4 137.3,495 135,495 133.5,495.2 130,495.4 122,497.5 119.5,498.4 115,501.1 113.5,501.6 110.5,501.2 106,500 99.5,498.6 95.5,497.9 93.5,497.9 86.5,498.7 84,499.3 82,500.2 79,502.3 78,502.8 76.5,503.2 70.5,504 69.5,504.5 67.8,506 67,506.5 64,507.7 62.5,508.2 56.5,509 51,508.4 51,443.2 55,442.8 57.5,442.8 59.5,443.2 65,444.5 66.5,445 67.5,445.6 69.9,447.5 71.5,448.2 76,449.1 79,449.2 82,449 88.5,447.2 90.2,446.5 95,444.1 99,442.6Z" fill="#31b9dc"/>
<path d="M99.6,443 101,442.7 101.5,442.9 102,442.7 102.5,442.9 103,442.9 103.5,443.2 104,442.9 104.5,443.3 105.5,443.4 106,443.8 106.5,443.7 107,443.9 107.5,443.9 108,444.3 108.5,444 109,444.5 109.8,444.5 112,445.9 115.5,449.4 116.5,449.9 117.5,450.8 118,451 119,451.8 122,453.7 123.5,454.6 126,455.6 129,456.2 132,456.3 134.5,456.7 138,456.7 138.9,457 139.5,457 145.5,456 149.5,454.8 150.5,454.8 156.5,455.5 168,456 175.5,456.6 190,457.3 198.5,457.5 207.5,457.6 213.5,457.9 219,458.1 228,459 234,459.2 247.5,460.1 258.5,460.7 268,461.3 273.5,461.5 279.5,461.9 301.6,463 318,464.3 324.1,465 326.5,465.4 329.1,466 332.4,467 334.9,468 337.7,469.5 339,470.5 340.2,472 340.6,473 340.8,474.5 340.8,476 340.6,478 340.1,479 338.8,480.5 337.4,481.5 334.4,483 331.8,484 328.3,485 326,485.5 321.5,486.1 306.2,487.5 280,488.8 266,489.7 251.5,490.4 244.5,491 237.5,491.3 227,492.3 213.5,493.1 206.5,493.4 199,493.4 194,493.7 187.5,493.6 181.5,494 174,494.4 167.5,494.6 162,494.6 153.5,495.6 144,496.3 140.5,495 135,494.8 132.5,495.2 130,495.3 122,497.3 119.5,498.3 115,500.9 114,501.1 110.5,500.7 101.5,498.4 94,497 92.5,496.9 88,497.2 86,497.6 82.5,498.8 78,501.2 76.5,501.7 73.1,502.5 70,503 68.1,504 66,505.5 63.5,506.5 60,507.3 57.5,507.6 51,507.4 51,444.3 55.5,443.8 57,443.8 58.4,444 61,444.8 64,445.2 65.5,445.7 66.5,446.2 68.8,448 70,448.7 71.5,449.2 76,450 79.5,450.1 80.5,450.1 82,449.7 87.7,448 90.2,447 95.2,444.5 99.5,443Z" fill="#32bcd9"/>
<path d="M102.6,443 103,443 103.5,443.4 104,443 104.5,443.4 105.5,443.5 106,444 106.7,444 108,445.8 110.6,448.5 111.9,449.5 113.1,450 118.5,451.5 119.5,452.3 120,452.5 121,453.2 123.5,454.7 126,455.7 128.5,456.2 134.5,456.8 137,456.8 139,457.2 141.5,457.1 142.5,457.2 145.5,456.7 148,456 149,455.8 155.5,456.4 166,456.8 177.5,457.7 208.5,458.5 214,458.9 221,459.2 229,460 260,461.7 268.5,462.3 298,463.7 312,465 317.5,465.8 322,467 324.7,468 327.7,469.5 329,470.5 330.3,472 330.7,473 330.9,475 330.8,477 330.5,478.5 329.8,479.5 328.5,480.7 326.5,481.9 324.2,483 321.3,484 317.4,485 315,485.4 307.5,486.2 293.5,487.3 277.5,488.1 266.5,488.8 251.5,489.4 245,490 239,490.2 230.5,491 223.5,491.3 218,491.8 207.5,492.5 199,492.6 193.5,492.8 186.5,492.8 177.5,493.2 173.5,493.6 168,493.9 160.5,493.8 152.5,494.7 145,495.1 143,495.1 141.5,494.8 140.5,494.7 135,494.7 132.5,495 129.5,495.2 122,497.2 120.5,497.7 120.1,498 119.5,498.2 119,498.6 118.5,498.7 118.1,499 117,499.6 116.5,500 116,500 115.5,500.3 114,500.5 112,500.4 110.5,500.2 102.5,498.1 93.5,496.3 91.5,496.1 87,496.2 85,496.5 76.5,500.2 72.5,501.4 69.5,502.1 67,503.4 65,504.7 63.5,505.4 57.5,506.5 51,506.6 51,445.3 54.5,445 56,445.1 59.7,446 64,446.4 65,446.7 69.5,449.4 71.5,450.3 75,450.9 79,450.9 81.6,450.5 86.5,448.9 90.1,447.5 94.5,445.4 96.5,444.6 102.5,443Z" fill="#33c0d5"/>
<path d="M101.7,444 103.5,443.9 104,444 104.5,444.4 105.6,446 108,449 108.6,449.5 110,450.3 115.5,452.4 117.5,452.8 120.5,453.1 122.5,454.3 124.5,455.3 126,455.8 128,456.3 131,456.5 133.5,456.8 136.5,456.9 138.5,457.3 141,457.3 142.5,457.7 145,457.5 147,457 150,456.9 155.5,457.3 165.5,457.7 177.5,458.5 189,458.8 194,458.8 208.5,459.4 215.5,460 222,460.3 229,460.9 244.5,461.8 250.5,462 268.5,463.1 275,463.3 286.8,464 299.7,465 307.6,466 310.5,466.6 313.4,467.5 315.9,468.5 318.7,470 319.9,471 321,472.5 321.3,473.5 321.4,475 321.4,476.5 321.1,478 320.6,479 319.1,480.5 317,481.8 314.2,483 311.1,484 308,484.7 302.4,485.5 291,486.6 267,487.9 251.5,488.5 245,489.1 239,489.3 230.5,490 223,490.2 217.5,490.9 207.5,491.6 178,492.3 173,492.8 168.5,493 158.5,493.1 145.5,494.1 138,494.1 135.4,494.5 133,494.6 131.7,495 129,495.2 128.5,495.5 127,495.7 126.6,496 125.5,496.1 124.7,496.5 123.5,496.7 122.8,497 121.5,497.2 121,497.6 120.5,497.6 118.5,498.4 115,499.5 113,499.8 111.5,499.8 110,499.5 102,497.4 93,495.7 90.5,495.4 86,495.4 83.2,496 79.5,497.5 75.5,499.4 72,500.6 69,501.3 64,504 62.5,504.6 60.5,505.1 57.5,505.5 51,505.9 51,446.5 55,446.3 59,447 63,447.4 64,447.6 65.5,448.3 67.9,449.5 70,450.7 71,451.1 72.5,451.5 74.5,451.8 78,451.8 80,451.5 83.5,450.5 91.2,447.5 95.5,445.6 101.5,444Z" fill="#34c5ce"/>
<path d="M97.9,446.5 99.5,446.4 100.3,446.5 101,446.8 102,447.5 102.5,448 103.6,450 104.9,451 106.5,451.8 112.5,454.2 115,454.8 119,454.7 121,454.9 127.5,456.7 136,458 150,458.9 155.5,459.1 164.5,459.1 176.5,459.9 194,460.2 200,460.7 209.5,461.2 215,461.9 220.5,462 245,463.5 274.5,464.9 285.5,466 291,466.8 294,467.5 297.2,468.5 299.4,469.5 301,470.5 302.1,471.5 302.8,472.5 303.1,473.5 303.3,475.5 303.2,477 302.9,478 302.2,479 300.5,480.5 298.8,481.5 296.6,482.5 293.6,483.5 291.5,484 284.2,485 272,486 260,486.6 251,486.9 245,487.4 237,487.7 229.5,488.3 221.5,488.5 206.5,489.8 200,490.1 194,490.5 183,490.7 172,491.3 166,491.1 160,491.6 150.5,491.8 144.5,492.5 139.5,492.5 129.5,493 127,493.5 123.5,495.3 122,495.8 117,496.7 112.5,497.8 110.5,498.1 109,498.1 107,497.8 101,496.3 90.5,494.4 88,494.1 83.5,494.2 81.5,494.5 79.5,495.1 78,495.8 74.5,497.8 71.1,499 68,499.8 64.5,501.7 62.5,502.5 58.2,503.5 53,504.3 51,504.5 51,448.3 55.5,448.1 58,448.4 60.5,448.8 63.5,449.6 65.5,450.2 66.5,450.7 68,451.8 69,452.2 74.5,453.5 76.5,453.7 77.5,453.5 83.5,451.6 90,448.8 97.5,446.6Z" fill="#35cdba"/>
<path d="M94.1,449 96,448.7 97.5,449 98.5,449.6 100.5,451.5 103,453.4 104.5,454.2 107.3,455 112.1,456 117.5,456.8 121,457.7 125,458.5 131.5,459 137.5,459.8 145.5,460.1 155.5,460.8 166.5,460.7 175.5,461.2 189.5,461.6 201,462.5 206.5,462.7 213,463.4 218,463.5 226,464.1 232.5,464.2 244,464.9 256.5,465.4 262,466 271,466.7 274,467.1 277.8,468 281.1,469 283,469.9 284.6,471 285.9,472.5 286.3,473.5 286.4,474.5 286.2,476.5 286.2,478 285.7,479 284.6,480 281.5,481.6 278.5,482.6 274.3,483.5 272,483.9 260,485.1 244.5,485.9 237.5,486.1 229.5,486.7 219,487.2 213.5,487.6 208.5,487.8 199.5,488.3 193,489.1 172,489.8 165.5,489.7 158.5,490.3 151,490.3 139,491.1 131,491.1 124.5,492 123.1,492.5 120,493.9 118,494.5 115,495.1 111,495.5 108.5,496.1 107,496.3 105.5,496.2 102.5,495.6 89.5,493.4 84.5,492.9 81.5,492.9 79,493.3 77.5,493.8 76.5,494.3 74.5,495.7 73,496.4 67,497.6 66.2,498 64,499.8 62.5,500.4 61,500.7 58,500.9 53,501.7 51,501.7 51,450.1 55.5,449.7 58,450 63.5,451.7 65.6,453 67,453.7 70.5,454.2 74,455.1 75.5,455.3 77.5,454.8 89.5,450 94,449Z" fill="#36d4a6"/>
<path d="M92,450.5 94,450.3 95,450.5 96.1,451 96.8,451.5 98.2,453 100.8,455.5 101.6,456 103,456.5 106.5,457.3 111,457.4 113.5,457.8 116.1,458.5 120.4,460 123,460.5 131.5,460.7 138,461.4 144.5,461.5 156.5,462.1 167.5,462 176,462.6 186,463 193,463.7 197.5,463.8 205,464.2 210,464.7 217,464.9 224.7,465.5 237.5,465.8 254.3,467 258,467.5 264.2,469 269,471.5 270,472.4 270.4,473 270.7,474.5 271.2,476 271.1,477 270.9,477.5 269,479 264.7,481.5 261.5,482.5 259.4,483 256.2,483.5 245,484.5 226,485.4 214,486.2 206.5,486.3 197.5,486.9 193,487.4 184.5,487.9 171.5,488.5 161.5,488.6 156,489 149.5,489 130,489.7 125.5,490.1 120,491.2 116.5,491.6 113,492.7 111.5,493 106.5,493.3 100.5,494.2 98,494 93,493 88,492.4 84,491.7 80.5,491.6 78.5,491.9 76.5,492.4 75.2,493 72,494.7 66,496.4 62.5,498.2 61.5,498.6 54,499.8 51,499.9 51,451.6 55,451.6 58,452.1 61.2,453 66,455.4 67.5,456 69.5,456.3 73.5,456.6 75,456.5 77.5,455.8 85,452.6 91.5,450.6Z" fill="#35d98d"/>
<path d="M89.4,452.5 91.5,452.3 92.5,452.5 93.5,452.9 96.3,455 98,456.9 98.5,457.2 100,458 102.7,459 104.5,459.3 109,459.4 110,459.6 112.3,460.5 113.5,460.8 118,461.2 123,462 130.5,462.2 137.5,462.8 143.5,462.8 159,463.3 166.5,463.3 177,464.1 184.5,464.5 192.5,465.1 205,465.6 235,467.2 247,468.6 248.9,469 250.2,469.5 254.5,471.5 256.1,472.5 256.6,473.5 256.9,476 256.8,477 256.5,477.5 256,478 254.5,479 253,479.7 248.5,481.5 245.5,482.4 243.5,482.7 240.5,483.1 229.5,483.9 213.5,484.8 206,485 200,485.5 183.5,486.6 177.5,486.8 171,487.3 165.5,487.5 160,487.6 154.5,487.9 147.5,487.8 137,488.1 132.5,488.1 116,489.2 114,489.5 109,491.3 99,493.1 97,493 91.7,492 88,491.6 82.7,490.5 79.5,490.5 77.5,490.8 76,491.2 71,493.2 65.5,495 63,496.3 60.5,497.2 57.5,497.8 55.5,498 53.5,497.9 51,497.6 51,453 54,453.1 58,453.5 60,454.2 66,457.3 68,457.6 72,457.9 73.5,457.7 77.5,456.6 82,454.5 84.5,453.5 89,452.6Z" fill="#34dd74"/>
<path d="M86.6,454 88,453.9 89,454.1 92.5,456.6 94.5,458.5 95.5,459 108,461.7 111,462.1 117.5,462.5 122.5,463.1 129.5,463.5 136,464 148,464 159.5,464.5 165,464.4 176,465.4 194,466.4 217,467.3 224.4,468 235,469.2 236.5,469.6 238.8,470.5 240,471.2 241,472 242.1,473.5 242.3,476 242.7,477.5 242.5,478 241.9,478.5 238.3,480.5 236,481.2 233.5,481.7 227,482.6 219.5,483.3 205,483.9 198.5,484.4 178.5,485.4 166,486.4 159,486.5 154,486.8 147,486.7 133,486.9 126.5,487.4 116,487.8 113.5,488 111,488.5 106.5,490 104,490.6 97,491.7 95.5,491.7 93.2,491.5 88,490.7 81,489.4 77,489.4 75.5,489.6 74.5,489.9 71.5,491.5 70.3,492 64.5,493.6 62,495.2 59.9,496 58,496.4 56,496.6 51,496.2 51,454.2 54,454.3 57,454.8 58.5,455.3 65,458.4 71,459.2 72.2,459 75.5,458 82.5,455 86.5,454Z" fill="#35de63"/>
<path d="M84.4,455.5 85.5,455.4 86.5,455.5 91.9,459.5 94,460.5 96,461 101,461.8 104,463 106,463.4 114.5,463.4 117.5,463.7 122,464.3 129,464.6 135,465.1 148.5,464.9 159,465.7 165,465.6 174.5,466.6 180.5,466.8 193,467.6 207,468 216,468.7 221.8,469.5 225.2,470.5 227.9,471.5 228.7,472 229.9,473 230.2,473.5 230.2,474 229.4,476 229.2,477.5 229,478 228.5,478.5 224.9,480 220.4,481.5 218,481.8 209,482.7 179,484.1 160,485.4 152,485.6 132.5,485.9 125,486.4 113,486.6 108,487.1 105.6,487.5 104.2,488 102.5,489 101,489.5 99.5,489.7 96,489.9 92.5,490.5 90,490.3 86,489.5 79,488.4 77,488.2 75,488.2 73.3,488.5 71.8,489 68.8,491 67,491.7 63.5,492.5 60.5,494.3 58.7,495 57,495.4 55.5,495.5 51,495.1 51,455.7 53.5,455.6 56,456 60,457.4 64.5,459.5 70,460.2 71.5,460 73.3,459.5 80.8,456.5 84,455.6Z" fill="#37df57"/>
<path d="M51.8,457 54,457 56.5,457.4 59.8,458.5 63,460.1 64,460.5 69,461.2 70.5,461 72.5,460.5 77,458.6 81,457.3 83,456.9 84,456.9 85,457.5 86.4,459 87.1,459.5 89.1,460.5 91.6,461.5 94,462.3 98.5,463 101.5,464.1 104.5,464.6 108,464.7 115,464.6 122.5,465.4 134,466 148.5,465.9 158.5,466.9 164.5,466.8 170.5,467.4 185.5,468.2 199,468.6 203.3,469 206.9,469.5 213,470.6 215,471.5 216.5,472.5 217.7,473.5 218.7,475.5 218.9,476.5 218.7,477 218.1,477.5 216.3,478.5 209.4,481 206.3,481.5 194.5,482.4 187.5,482.6 174.5,483.3 164.5,483.7 158.5,484.3 145.5,484.8 140.5,484.7 131,485 123,485.4 112,485.4 104,486.3 102.5,486.8 99.5,488.1 94,488.5 90,489.3 88.5,489.2 82,488.3 77,487.3 74.5,487.3 72.5,487.5 70.5,488.1 68.6,489 66,490.5 63,491.4 59.5,493.2 58,493.8 55.5,494.3 53,494.1 51,493.8 51,457.1 51.5,457Z" fill="#39df4a"/>
<path d="M51.3,458.5 54,458.3 57,458.7 59.5,459.5 63.3,461.5 65,461.8 68,462.1 71.5,461.4 77,459.3 80.5,458.5 81.5,458.4 82,458.5 82.5,459 83.4,460 84,460.5 86.5,461.7 92,463.3 95.8,464 98.6,465 101,465.4 109.5,465.9 116.5,465.9 123.5,466.6 142,467 148,467 158.5,468 164,468 169,468.3 181.5,468.8 191.5,469.5 197.5,469.7 199.5,469.9 201.5,470.6 205.1,473.5 205.6,474 206.4,475 206.9,476 207,476.5 206.7,477 203,479.5 201,480.1 196,481 182,482 167,482.5 158,483.2 150,483.4 145,483.8 123,484.4 111.5,484.4 103,485.4 101,485.7 97,486.8 90.5,487.5 87,488.2 83.5,487.9 75.5,486.5 73.5,486.5 71,486.9 69,487.5 64.5,489.6 62.5,490.3 60.5,491.4 58,492.4 56,492.8 53.5,492.7 51,492.3 51,458.5Z" fill="#3be03e"/>
<path d="M51,460 51,459.7 53,459.6 56.5,459.8 59,460.6 62.5,462.3 64.5,462.8 67,463 71,462.1 76,460.3 78,459.8 79.5,459.8 80,460.1 82,461.7 85,463 89.5,464.2 93.5,465 97,466 99,466.2 110,466.9 116.5,467 123.5,467.4 131,467.4 148,468.1 159,468.9 175.5,469.4 183,469.8 190.5,470.8 193.3,471.5 194.2,472 194.6,472.5 195,473.5 196.5,475.2 196.7,476 196.1,477 195,477.8 190.7,479.5 189.2,480 186.7,480.5 182.5,481 173.5,481.6 167,481.7 157,482.3 150,482.4 144.5,482.8 136,483.3 129,483.5 114,483.5 110.5,483.7 103.5,484.2 97.8,485 93,485.9 88.8,486.5 86,487.3 85,487.4 82.5,487.2 75,485.8 73.5,485.7 72,485.8 70,486.2 68,486.8 62,489.2 60,490.3 57.5,491.2 55.5,491.6 53,491.4 51,491.2 51,460.5Z" fill="#43e138"/>
<path d="M51,461 51,460.7 52.5,460.6 55.5,460.9 58,461.5 62,463.2 66,463.8 67,463.7 68.5,463.3 75,461.2 76.5,460.9 77.5,460.8 78.3,461 80,462.5 81,463.2 83,464.1 86.7,465 90,465.6 93.4,466.5 99.5,467.1 111,467.8 130.5,468.2 159,469.7 169.7,470 178.9,470.5 182.1,471 183.5,471.5 186,473 186.3,473.5 186.5,474 185.8,476 185.9,477.5 185.8,478 185.2,478.5 183.5,479.1 174,480.6 156.5,481.4 150,481.5 130,482.8 114,482.8 104.5,483.2 98.5,483.8 93.1,484 90.5,485 86.5,485.9 84.5,486.5 83.5,486.7 81.5,486.5 74,485.2 71.5,485 70,485.2 68,485.8 61.5,488.1 59,489.5 57,490.2 54.5,490.6 52,490.5 51,490.4 51,461.5Z" fill="#4de235"/>
<path d="M51,462 51,461.7 52,461.6 54.5,461.8 57,462.4 61.5,464 65.5,464.6 68,464 72.5,462.5 76,461.8 76.7,462 79.2,464 81,464.9 84.5,465.8 88,466.5 90,467.2 91.5,467.5 104.5,468.3 129.5,468.9 139,469.5 166.5,470.7 170.5,471.1 175.2,472 177,472.5 178.1,473 178.7,473.5 179,474 179,474.5 178.5,475.5 177.5,476.5 174.1,479 173,479.5 171.5,479.8 157,480.6 150,480.8 129.5,482 113,482.2 103.5,482.4 98,482.9 92.5,482.9 91,483 87.5,484.5 82,485.8 80,485.7 76.5,485 72,484.4 70,484.3 68,484.8 63,486.6 61,487.2 58.5,488.5 56.5,489.2 54,489.7 51.5,489.6 51,489.6 51,462.5Z" fill="#57e231"/>
<path d="M51,463 51,462.8 52,462.6 54.5,462.8 58,463.7 61,464.7 64.5,465.3 67,464.8 71.5,463.2 74.5,462.8 75.3,463 77.2,464.5 79.1,465.5 82.6,466.5 85.5,467.1 88.1,468 90,468.3 95.5,468.4 104.5,469 118.5,469.2 139,470.2 147.5,470.5 163,471.5 165.8,472 168,473 169.8,474.5 170.5,475.5 170.7,476 170.7,476.5 170.4,477 169.8,477.5 168.5,478 164.4,479 156.5,479.9 129,481.2 105,481.7 97.5,482 92.5,482 89.1,482.5 85.5,483.8 80,485 79,485 70.5,483.7 69,483.7 67.3,484 63,485.6 60.5,486.4 58,487.7 56,488.4 54,488.8 51.5,488.8 51,488.7 51,463.5Z" fill="#61e32e"/>
<path d="M51,464 51,463.7 52,463.6 54.5,463.7 57.9,464.5 61,465.7 64,466.1 66.5,465.5 70.5,464 72.5,463.6 73.5,463.6 74.3,464 76,465.4 77.1,466 83,467.7 85.1,468.5 87,468.9 91,469.2 95.5,469.2 104.5,469.6 110.5,469.6 116.5,469.8 125,470.3 148.5,471.2 154,471.7 157.8,472.5 161.2,473.5 161.8,474 162,474.5 161.5,476.5 160.4,477.5 157.7,478.5 155.4,479 147,479.7 129.5,480.4 123,480.5 112,481 104.5,481.1 98,481.3 92,481.3 87.3,482 83.5,483.2 78,484.1 76,484 69.5,483.1 68,483.1 66,483.5 62.5,484.9 60,485.6 57.5,486.9 56,487.5 54,487.9 52,487.9 51,487.8 51,464.5Z" fill="#6ce42c"/>
<path d="M51.1,464.5 53,464.3 55.5,464.6 58,465.4 60,466.4 63,466.8 65,466.3 69.5,464.8 72,464.3 72.7,464.5 74.5,466.1 76,466.9 81,468.3 83,469.2 84.5,469.5 91,469.9 112,470.2 125,471 133,471.1 145.5,471.7 148.8,472 150.9,472.5 153.2,473.5 153.8,474 154.2,474.5 154.4,476 154.3,476.5 154,477 153.3,477.5 152,478 150.2,478.5 148.5,478.8 145,479.1 128,479.8 121.5,479.9 111.5,480.5 98,480.8 91.5,480.7 85.9,481.5 82,482.5 78.5,482.9 75.7,483.5 68.2,482.5 67,482.5 64.8,483 62,484.2 59.4,485 57.5,486 56,486.6 54,487 51.5,486.9 51,486.8 51,464.5Z" fill="#7be42b"/>
<path d="M51,465.5 51,465.3 52.5,465.1 55,465.3 57,465.8 59.5,467.1 62,467.4 64.2,467 68.5,465.5 70,465.2 71,465.1 71.7,465.5 73.4,467 74.5,467.6 77,468.4 79.5,469 81,469.7 82.3,470 90.5,470.5 111.5,470.8 125,471.5 135,471.8 142.2,472.5 144.8,473 146.1,473.5 147,474 147.7,474.5 148.1,475.5 148.1,476 147.8,476.5 147.2,477 146.1,477.5 144.5,478 141.2,478.5 134.5,479 120.5,479.4 110,480 99,480.2 90.5,480.2 82.5,481.4 80,481.9 77,482.3 74.5,482.9 73,482.8 67.3,482 65.9,482 63.8,482.5 61,483.7 59,484.4 57.5,485.2 56,485.8 54,486.1 52,486.1 51,486 51,466Z" fill="#89e42a"/>
<path d="M51,466 53,465.8 55,466 56.7,466.5 59,467.7 61.5,468 63.7,467.5 67.5,466.2 69,465.9 70,466 72.5,468 73.7,468.5 77.5,469.5 79.5,470.2 83.5,470.7 89,470.9 100,471 111.5,471.3 125.5,472.1 134,472.3 135.3,472.5 137.2,473 139.7,474 140.6,474.5 141,475 141.1,475.5 141.1,476 140.7,476.5 140,477 138.6,477.5 136.5,478 131.8,478.5 102,479.7 92.5,479.7 89.5,479.8 80,480.9 73,482.4 66.5,481.6 65,481.6 63.1,482 60.5,483.2 58.5,483.8 56,485 54,485.4 52,485.4 51,485.3 51,466.5Z" fill="#97e429"/>
<path d="M52,466.5 53.5,466.4 55,466.6 56.5,467.1 58.5,468.2 61,468.5 63,468.1 66,467 68.5,466.6 69.3,467 71.1,468.5 72.2,469 76,470 78,470.7 81.5,471.1 85.5,471.3 99.5,471.4 113,471.9 132.3,473 134,473.5 134.9,474 135.4,474.5 135.7,475 135.7,475.5 135.5,476 134.8,476.5 133.8,477 132.3,477.5 129.9,478 125.5,478.4 101.5,479.3 92,479.3 88.5,479.4 83,480 78,480.3 72,481.8 64.5,481.1 62.5,481.5 55.5,484.5 54,484.8 52,484.8 51,484.6 51,466.7 51.5,466.6Z" fill="#a6e428"/>
<path d="M51,467.5 51,467.3 52.5,467.1 54.5,467.2 56,467.6 58,468.6 60.5,469 62.5,468.5 65.5,467.5 67.5,467.3 68,467.5 69.8,469 70.5,469.3 74.5,470.3 76.4,471 77.5,471.2 83.5,471.7 99.5,471.9 114,472.4 122.5,472.9 124.5,473.2 128.5,474 129.7,474.5 130.2,475 130.3,475.5 130.1,476 129.6,476.5 128.5,477 126.9,477.5 124,477.8 117.5,478.2 101,478.9 89,479 82.5,479.5 78,479.7 76,480 74.3,480.5 70.5,481.3 65,480.8 63.5,480.8 61.5,481.3 58,482.7 55.5,483.8 54,484.1 52.5,484.2 51,483.9 51,468Z" fill="#b5e327"/>
<path d="M51,468 51,467.9 52,467.7 54,467.7 56,468.2 58,469.1 60,469.4 61.9,469 64.5,468.1 66.5,467.9 67,468 68.6,469.5 69.8,470 75.5,471.4 80,471.9 84,472 95,472.2 113,472.7 117.5,473 120.8,473.5 122,474 122.9,474.5 123.3,475 123.8,476 123.4,476.5 122.3,477 120.5,477.5 117.5,477.8 101.5,478.4 88.5,478.7 77.5,479.2 74.9,479.5 73,480.1 69.5,480.9 64,480.4 62.5,480.4 61.5,480.7 57.5,482.2 55.5,483.2 54,483.5 52.5,483.5 51,483.2 51,468.5Z" fill="#c4e226"/>
<path d="M51,468.5 52.5,468.2 54,468.2 55.5,468.6 57.6,469.5 59.5,469.8 61,469.5 64,468.6 65.5,468.4 66,468.5 67.6,470 68.7,470.5 73.5,471.6 79,472.2 111,473 115,473.3 116.5,473.5 117.8,474 118.5,474.5 118.7,475 118.9,476 118.6,476.5 117.6,477 114.5,477.5 102,478.1 77.5,478.8 74,479.1 68,480.5 62.5,480 60.5,480.5 55,482.7 54,482.9 52.5,482.9 51,482.5 51,469Z" fill="#d3e125"/>
<path d="M51,469 52.5,468.6 54,468.7 55.5,469.1 57.5,470 59,470.2 60.2,470 63,469.1 64.5,468.9 65.1,469 66.5,470.4 67,470.7 68,471 72.3,472 80.5,472.6 89.5,472.7 111.5,473.5 114.3,474 115.2,474.5 115.4,475 115.4,475.5 115.1,476 114.3,476.5 112.6,477 111.5,477.1 107.7,477.5 103,477.7 76.6,478.5 72,479 68,480 67,480.1 63,479.8 61.5,479.8 60.4,480 55,482.2 53,482.4 51,482 51,469.5Z" fill="#e2e024"/>
<path d="M51,469.5 51.5,469.3 52.5,469.1 54,469.1 55.5,469.5 57,470.3 59,470.5 62.5,469.5 64,469.4 64.3,469.5 65.3,470.5 66,471 67.5,471.5 71,472.3 80,472.8 104.4,473.5 109.8,474 111.3,474.5 111.7,475 111.4,475.5 110.9,476 109.9,476.5 108,477 102.5,477.4 78.5,478.1 71.9,478.5 70.5,478.7 66.5,479.8 61,479.4 60,479.7 55,481.7 53,481.9 51,481.5 51,470Z" fill="#e9d923"/>
<path d="M52.8,469.5 54.5,469.7 57,470.7 58.5,470.9 61.5,470 63,469.8 63.7,470 64.7,471 65.5,471.5 69.1,472.5 70,472.6 78.5,473 102,473.7 104.7,474 106.3,474.5 107,475 107,475.5 106.7,476 105.9,476.5 103.8,477 77,477.9 70.5,478.3 69,478.5 65.5,479.5 61,479.1 60,479.2 55,481.2 53.5,481.4 52,481.3 51,481 51,469.9 52.5,469.5Z" fill="#eed021"/>
<path d="M52,470 53,469.9 54,470 55,470.2 56.5,470.9 58,471.2 59,471 61.5,470.3 62.5,470.2 63,470.4 64,471.3 64.5,471.6 68,472.7 69.5,472.9 100.4,474 102.7,474.5 103.4,475 103.5,475.5 103.4,476 102.6,476.5 100.5,476.8 97.8,477 69.3,478 65,479.1 63.5,479.2 61,478.9 59.5,479 55,480.8 53.5,481 52.5,481 51,480.6 51,470.3 51.5,470.1Z" fill="#f4c820"/>
<path d="M51.6,470.5 52.5,470.3 54,470.3 55,470.6 56.5,471.3 57.5,471.5 58.5,471.3 61,470.6 62,470.5 63.1,471.5 64,472 67.3,473 68.5,473.1 93,473.9 96.5,474.1 98.9,474.5 100,475 100.2,475.5 100.1,476 98.8,476.5 93.5,476.9 68.5,477.8 67.1,478 64,479 59.5,478.6 58.5,478.9 54.5,480.5 53.5,480.7 52.5,480.6 51,480.2 51,470.7 51.5,470.5Z" fill="#f9c01f"/>
<path d="M51.2,471 52.5,470.6 53.5,470.6 54.5,470.8 56,471.5 57.5,471.7 60.5,471 61.5,470.9 62.8,472 63.5,472.3 66,473 68.5,473.4 89.6,474 94,474.3 95.6,474.5 96.7,475 96.9,475.5 96.6,476 94.9,476.5 91,476.7 68.5,477.5 66.5,477.8 64,478.5 63,478.7 59,478.4 58.5,478.5 54.5,480.2 53.5,480.3 52.5,480.3 51,479.9 51,471.1Z" fill="#fcb61d"/>
<path d="M52.4,471 54,471 56,471.8 57,472 60,471.3 61,471.3 62,472.1 62.7,472.5 65.5,473.3 67,473.5 88,474.2 92.5,474.5 93.8,475 93.9,475.5 93.6,476 91.5,476.5 67,477.4 66,477.5 62.5,478.5 58.5,478.2 54.5,479.8 53.5,480 52.5,480 51,479.5 51,471.5 52,471.1Z" fill="#fdaa1c"/>
<path d="M51.7,471.5 52.5,471.3 53.5,471.2 54.5,471.4 56,472.1 57,472.2 59.5,471.6 60.3,471.5 61.6,472.5 62,472.7 64.9,473.5 66.5,473.7 89.7,474.5 91.1,475 91.3,475.5 90.9,476 87.6,476.5 67.5,477.1 65,477.4 62,478.2 58.2,478 54.5,479.5 53.5,479.7 52.5,479.7 51,479.1 51,471.8 51.5,471.6Z" fill="#fe9f1b"/>
<path d="M51.2,472 52.5,471.6 53.5,471.5 54.5,471.7 55.5,472.2 56.5,472.4 59.5,471.8 60,471.9 61,472.7 61.8,473 63.6,473.5 65.5,473.8 86.6,474.5 88.7,475 88.9,475.5 88.4,476 83.5,476.4 66.5,477 64.5,477.3 61.5,478 58.5,477.8 57.5,477.9 54.5,479.2 53.5,479.4 52.5,479.4 51,478.8 51,472.1Z" fill="#fe931a"/>
<path d="M51.9,472 52.5,471.8 53.5,471.8 54.5,472 55.5,472.5 56.5,472.6 58.5,472.1 59.5,472 60.5,472.9 61,473.1 63.5,473.7 66,474 76.5,474.3 84,474.7 86,475 86.3,475.5 85.5,476 80,476.4 64.4,477 61,477.8 57.5,477.7 54,479.1 52.5,479.1 51,478.5 51,472.5 51.5,472.1Z" fill="#ff8718"/>
<path d="M51.4,472.5 52,472.2 53,472 54,472.1 56,472.8 58.5,472.3 59,472.3 59.9,473 60.5,473.2 64,474 79.5,474.6 83.2,475 83.6,475.5 82.9,476 81.5,476.1 65,476.8 62.7,477 60,477.6 57.3,477.5 54.5,478.6 53,478.9 52,478.7 51,478.1 51,472.8Z" fill="#fe7c17"/>
<path d="M51.9,472.5 52.5,472.3 53.5,472.2 56,473 58.5,472.4 60,473.4 62.5,474 76,474.5 80,474.8 81.1,475 81.5,475.5 80.7,476 63,476.8 60,477.5 57,477.4 54,478.6 53,478.7 52,478.4 51,477.8 51,473.1 51.5,472.7Z" fill="#fd7116"/>
<path d="M52.5,472.5 54,472.5 55.5,473.1 56.5,473 58,472.7 58.5,472.8 59.4,473.5 62,474.1 75.5,474.7 79.3,475 79.7,475.5 78.7,476 63,476.6 59.5,477.3 56.5,477.3 54,478.3 53,478.4 52,478.2 51,477.5 51,473.4 51.5,472.9 52.5,472.5Z" fill="#fc6514"/>
<path d="M51.8,473 53,472.6 54,472.7 55.5,473.2 57.5,472.9 58,472.9 59,473.6 61.5,474.2 76,474.8 77.7,475 78.1,475.5 76.8,476 62.6,476.5 59,477.1 56.5,477.1 54,478.1 53,478.2 52,478 51,477.2 51,473.7 51.5,473.2Z" fill="#fa5a13"/>
<path d="M52.2,473 53.5,472.8 55.5,473.4 57.5,473 59,473.9 61,474.3 75.5,475 76,475 76.6,475.5 74.5,476 61.5,476.5 58.5,477.1 56.5,477 54,477.9 53,478 52,477.8 51,476.9 51,474 52,473.1Z" fill="#f94e11"/>
<path d="M52.9,473 54,473.1 55,473.5 55.5,473.5 57,473.2 57.5,473.3 58.7,474 61.5,474.5 74.4,475 75.1,475.5 74,475.7 71.5,476 60,476.5 58.5,476.9 56,476.9 54,477.7 53,477.9 52,477.6 51.5,477.2 51,476.6 51,474.3 51.7,473.5 52.5,473.1Z" fill="#f84310"/>
<path d="M51.9,473.5 53,473.1 53.5,473.1 55,473.6 57,473.4 58,474 60.3,474.5 72.7,475 73.6,475.5 70.5,475.9 60,476.4 58,476.8 56,476.8 54,477.6 53,477.7 52,477.4 51.5,477 51,476.2 51,474.8 51.5,473.9Z" fill="#f53b10"/>
<path d="M52.3,473.5 53,473.3 53.5,473.3 55,473.7 56.5,473.5 56.9,473.5 57.5,474 59.2,474.5 71,475 72.1,475.5 68.5,475.8 60,476.3 57.5,476.7 55.5,476.8 54,477.4 53,477.5 52.5,477.4 51.8,477 51.1,476 51,475.5 51.3,474.5 52,473.6Z" fill="#f23310"/>
<path d="M52.7,473.5 53.5,473.4 55,473.9 56.5,473.6 57.1,474 58.5,474.5 69.2,475 70.7,475.5 66.5,475.9 60,476.2 57,476.6 55.5,476.6 54,477.3 53,477.4 52,477 51.5,476.5 51.1,475.5 51.5,474.4 52,473.8 52.5,473.5Z" fill="#ef2c10"/>
<path d="M52,474 52.5,473.7 53,473.6 53.5,473.6 54.5,473.9 56,473.8 56.5,473.8 57.9,474.5 58.5,474.6 67.3,475 69.4,475.5 65,475.9 59.5,476.1 57,476.5 55.5,476.5 53.5,477.3 53,477.3 52,476.9 51.4,476 51.3,475.5 51.6,474.5Z" fill="#ec2410"/>
<path d="M52.2,474 53,473.7 53.5,473.7 54.5,474 56,473.9 57,474.4 58,474.6 65.5,475 68.3,475.5 64,475.9 59.5,476 57,476.4 55.5,476.4 55,476.5 53.5,477.1 53,477.2 52,476.7 51.5,476 51.4,475.5 51.5,475 52,474.2Z" fill="#e91c10"/>
<path d="M52.4,474 53,473.8 54.5,474.1 56,474 56.9,474.5 58,474.7 64.5,475.1 67.2,475.5 63.5,475.8 58.5,476 56.5,476.4 55,476.4 53.5,477 53,477 52.5,476.9 52,476.5 51.6,476 51.5,475.5 51.6,475 52,474.3Z" fill="#e81810"/>
<path d="M51,431.2 57.5,431.2 60.1,431.5 62.8,432 71.9,435 73,435.6 74.5,437 76,437.8 82,439.1 87.5,439.6 91,439.7 94.5,439 98.5,437.8 99,437.8 99.3,438 99.5,438.3 100,438.3 101,438.6 101.5,438.6 102,438.9 102.5,438.9 103,439.1 103.5,439 104,439.3 104.5,439.3 105.5,439.6 106,439.6 106.5,440 107,439.8 107.5,440.1 108,440 108.5,440.3 109,440.3 110,440.6 110.5,440.6 111,441 113,440.4 113.5,440.6 117.5,445 120,447 125.5,449.7 127,450.1 128.5,450.3 146.5,449.6 152,448.5 157,448.2 167.5,448.4 176.5,446.8 186,446.7 191.5,446.5 200.5,447.4 205,447.5 210,448 216.5,448.1 221.5,448.6 235,449.1 240.5,449.5 247,449.7 254,450.1 260.5,450.1 268,450.4 278.5,451 284.5,451.2 330.9,454.5 370.5,456.8 403.5,458.4 416.7,459.5 425.5,460.4 432.5,461.3 437.6,462.5 440.9,463.5 443.5,464.5 447.8,466.5 450,468 451.5,469.5 452.3,470.5 452.9,472 453.2,475.5 452.8,479 452.1,480.5 450.9,482 449.8,483 447.4,484.5 443,486.5 440.3,487.5 436.8,488.5 432.3,489.5 425,490.5 414,491.5 402,492.5 371.1,494 331,496.3 284.5,499.6 250,501.1 243,501 235.5,501.7 226.5,502.2 220,502.1 215.5,502.6 210,502.8 202,503.5 195.5,503.5 188,504.2 165,504.8 152,504.6 145.5,503.4 140,501.9 132,501.3 130.5,501.3 123.5,502.1 121.5,502.6 120,503.1 113.5,506.9 108.5,506.2 104,506 101.5,506.1 99,506.7 94.5,508.1 89.5,510.2 87.1,511.5 86,511.9 81,512.9 78.5,514 76.8,514.5 69,518.6 66,519.7 64,520.3 61,520.9 58.5,521 55,520.9 51,520.5M51,442.8 53,442.6 55,442.5 57.5,442.7 59.8,443 65,444.2 66.5,444.7 67.8,445.5 70,447.3 71.5,448 76,448.9 79,449 81.5,449 82.5,448.8 88.5,447.1 90,446.5 95,444 98,442.8 100.5,442 101.5,442.7 102,442.5 102.5,442.8 103,442.7 103.5,443 104,442.8 104.5,443.2 105.5,443.3 106,443.7 106.5,443.5 107,443.8 107.5,443.7 108,444 108.5,443.9 109,444.3 110,444.4 110.5,444.8 111,444.5 111.5,444.9 112,444.8 112.1,445.5 115,448.7 120.5,452.6 124,454.7 126.5,455.6 128.6,456 133,456.3 134.5,456.5 136.8,456.5 145.5,455.2 147.5,454.8 151.5,453.4 152.5,453.4 160.5,454.6 162.5,454.7 167.5,454.7 175,455.6 182.5,455.6 190,456.2 198,456.5 208.5,456.6 214,456.9 220,457 227.5,457.6 243,458.4 248,458.9 254,459.2 264.5,460 273.5,460.4 292,461.5 314,462.6 331.2,464 336,464.6 340.6,465.5 345.4,467 348.7,468.5 351,470 352.3,471.5 352.9,472.5 353.2,475.5 353,478 352.5,479 350.8,481 348.3,482.5 344.9,484 341.5,485.1 337.4,486 332,486.7 322,487.6 313.5,488.3 282.5,489.8 265.5,490.9 259,491.1 243.5,492.3 237,492.5 225.5,493.6 211.5,494.3 199.5,494.4 193.5,494.7 187.5,494.8 179,495.5 164,495.7 156,496.8 149.5,497 145,497.6 139.5,495.6 136.4,495 135,495 134,495.2 130,495.4 122,497.5 119.5,498.5 115,501.1 113.5,501.7 110,501.2 106,500.1 99.5,498.7 95.5,498 93.5,498.1 90,498.6 86,499 84,499.5 82,500.5 79.2,502.5 78.2,503 76.5,503.4 70.5,504.2 69.3,505 68.3,506 67.5,506.5 64,508 62.5,508.5 56.5,509.3 55,509.2 51,508.7M51,450.8 55,450.5 57,450.7 62.5,452.4 65.4,454 67,454.6 74.5,455.9 76,455.7 77.5,455.3 84.5,452.3 90,450.4 92.5,449.8 95,449.5 96.5,449.9 97.5,450.4 101.5,454.1 102.5,454.8 104,455.4 107,456.1 112,456.7 115,457.2 121.5,459 124,459.4 131,459.8 138,460.6 145.5,460.8 155.5,461.4 161.5,461.5 167,461.3 175.5,461.8 188,462.2 193,462.7 206,463.4 212,464 217.5,464.1 226,464.8 235.5,465 257,466.2 267.6,467.5 271.5,468.5 273.2,469 276.9,471 278,471.9 278.8,473 279.1,473.5 279.4,474.5 279.4,475.5 279.1,478 278.4,479 277.1,480 273.3,481.5 268.4,483 266,483.5 262.2,484 255,484.6 245,485.3 237,485.5 214,486.9 207.5,487 199,487.6 192.5,488.3 172,489.2 164.5,489.2 157.5,489.7 150.5,489.7 137.5,490.4 131,490.4 124,491.4 117.5,493.4 115,494 109,494.6 106,495 100,494.8 94,493.7 85.5,492.4 83,492.2 81,492.3 79,492.6 77,493.1 76,493.6 73.5,495.2 72.5,495.7 66.5,497 63.4,499 62,499.6 58,500 53.5,500.7 51,500.8M51,456.7 53.5,456.6 56,456.9 60,458.2 64,460.2 69.5,460.9 72.5,460.3 78,458.1 81.5,456.9 83.5,456.4 84.5,456.4 85.5,457 87,458.4 88,459.1 90.6,460.5 92.5,461.3 95,462 99,462.5 103,464 105,464.3 107.5,464.4 114.5,464.2 117,464.4 122,465.1 134.5,465.8 149,465.6 158.5,466.6 164.5,466.5 172,467.2 186.5,468 200,468.4 206.5,468.9 213.5,469.8 215.7,470.5 218.6,472 220,473 220.5,473.5 221,474.5 222.2,476 222.4,476.5 222.2,477 221,478 219.5,478.8 218,479.4 210.5,481.4 206.5,481.9 196,482.6 188,482.9 174.5,483.6 164.5,484.1 158.5,484.6 145.5,485.1 140.5,485 131.5,485.2 123,485.7 112,485.8 104.5,486.6 103.1,487 101,488.2 100,488.5 95,488.8 91.8,489.5 90.5,489.7 89,489.6 77,487.6 74,487.6 72,488 70.5,488.5 67,490.6 65.9,491 63.5,491.5 59.5,493.7 58,494.2 56.5,494.6 55,494.7 51,494.2M51,461.8 53,461.7 55,461.9 57.5,462.6 61.5,464 65.5,464.6 68,464.1 72.5,462.5 76,461.9 76.5,462 77,462.3 78.4,463.5 79.5,464.3 81,465 84.5,465.8 87.5,466.4 90,467.2 91.3,467.5 95.5,467.7 104.5,468.3 129.5,469 138.5,469.5 166,470.8 170.5,471.2 174.4,472 177.4,473 178,473.5 178.4,474 178.3,474.5 177.9,475.5 177,476.5 173.8,479 172.6,479.5 171.5,479.7 157,480.6 150,480.7 129.5,482 113,482.1 103.5,482.4 98,482.8 92.5,482.8 90.9,483 87.5,484.4 84.7,485 82.5,485.7 81.5,485.8 80,485.7 76.5,485 72,484.4 70,484.3 68,484.7 63.5,486.4 61,487.1 58.5,488.4 56.5,489.2 54,489.6 51,489.5M51,465.5 53,465.3 55,465.5 57,466.1 59.5,467.3 62,467.6 64.5,467 68,465.8 69.5,465.5 70.5,465.4 71,465.5 73.4,467.5 74.3,468 78.5,469.1 80.8,470 84,470.4 90,470.6 111,470.9 125.5,471.7 135.1,472 139,472.5 141.7,473 143.3,473.5 144.3,474 144.8,474.5 145.2,475.5 145.2,476 145,476.5 144.4,477 142.5,477.7 140,478.2 136,478.7 127,479.1 120.5,479.3 109.5,479.9 99.5,480.1 90.5,480.1 82,481.2 76.5,482.1 74,482.7 72.5,482.6 67,481.9 65.5,481.9 63.5,482.4 60.9,483.5 59,484.1 57,485.1 55.5,485.6 53.5,485.9 51,485.7M51,468.4 52.5,468.1 54,468.1 55.5,468.5 57.8,469.5 59.5,469.7 61,469.5 64,468.5 65.5,468.3 66.2,468.5 67.8,470 69,470.5 71.7,471 73.5,471.5 79,472.1 111.7,473 115,473.2 117,473.5 118.3,474 118.9,474.5 119.1,475 119.3,476 119.1,476.5 118.2,477 115.4,477.5 102,478.1 77.5,478.9 74,479.2 68.5,480.6 62.5,480.1 60.6,480.5 55,482.8 53,483 51,482.6M51,470.1 52.5,469.7 54,469.8 55,470 57,470.9 58.5,471 61.5,470.1 63,470 64.8,471.5 69,472.7 73.5,473 102,473.9 102.8,474 104.4,474.5 105,475 105.1,475.5 105,476 104.2,476.5 101.4,477 70.5,478.1 69,478.3 65,479.3 61,479 60,479 55.5,480.8 54,481.2 52.5,481.2 51,480.8M51,472.2 52,471.7 53,471.6 54,471.6 55.5,472.2 56.5,472.4 59.5,471.8 60.1,472 60.6,472.5 61.5,473 64.5,473.7 68,474 75,474.1 85.8,474.5 88.2,475 88.5,475.5 87.9,476 85.5,476.3 75.5,476.7 66.1,477 64,477.3 61,478 58,477.8 57.1,478 54.5,479.1 53.5,479.4 52,479.2 51,478.7M51,473.7 52,472.9 53,472.6 54,472.7 55.5,473.2 57.5,472.9 58.2,473 59,473.6 61.5,474.2 76,474.8 77.6,475 78.1,475.5 76.8,476 62.6,476.5 59,477.1 56.5,477.1 53.5,478.2 52.5,478.2 52,478 51,477.2" fill="none" stroke="#06281a" stroke-opacity=".55" stroke-width=".5" stroke-linejoin="round"/>
</g>
<path d="M96.9,433.4 L53.2,475.4 L84.3,512.8" fill="none" stroke="#0a3a1a" stroke-opacity=".45" stroke-width=".7"/>
<rect x="48.2" y="450.6" width="587.9" height="33.3" fill="#000" fill-opacity=".295"/>
<rect x="48.2" y="449.6" width="587.9" height="2.1" fill="#f9bc14"/>
<rect x="48.2" y="482.8" width="587.9" height="2.1" fill="#f9bc14"/>
<path d="M47,467.2 H636.1" stroke="#fff" stroke-width="2.4" stroke-dasharray="14.6 7.72" fill="none"/>
</g>
<path d="M47.6,408.6 H636.6 M47.6,542.4 H636.6" stroke="#222" stroke-width="1.3" fill="none"/>
<path d="M48.2,408.6 V542.4" stroke="#222" stroke-width="1.25" fill="none"/>
<path d="M636.1,408.6 V542.4" stroke="#444" stroke-width="1.2" fill="none"/>
<path d="M48.4,408.1 V542.4" stroke="#222" stroke-width="1.9" stroke-dasharray="1 1.2" fill="none"/>
<path d="M48.2,408.6 V403.8 M48.2,542.4 V547.2 M67.8,408.6 V406.1 M67.8,542.4 V544.9 M87.4,408.6 V406.1 M87.4,542.4 V544.9 M107,408.6 V406.1 M107,542.4 V544.9 M126.6,408.6 V406.1 M126.6,542.4 V544.9 M146.2,408.6 V403.8 M146.2,542.4 V547.2 M165.8,408.6 V406.1 M165.8,542.4 V544.9 M185.4,408.6 V406.1 M185.4,542.4 V544.9 M205,408.6 V406.1 M205,542.4 V544.9 M224.6,408.6 V406.1 M224.6,542.4 V544.9 M244.2,408.6 V403.8 M244.2,542.4 V547.2 M263.8,408.6 V406.1 M263.8,542.4 V544.9 M283.4,408.6 V406.1 M283.4,542.4 V544.9 M303,408.6 V406.1 M303,542.4 V544.9 M322.6,408.6 V406.1 M322.6,542.4 V544.9 M342.1,408.6 V403.8 M342.1,542.4 V547.2 M361.7,408.6 V406.1 M361.7,542.4 V544.9 M381.3,408.6 V406.1 M381.3,542.4 V544.9 M400.9,408.6 V406.1 M400.9,542.4 V544.9 M420.5,408.6 V406.1 M420.5,542.4 V544.9 M440.1,408.6 V403.8 M440.1,542.4 V547.2 M459.7,408.6 V406.1 M459.7,542.4 V544.9 M479.3,408.6 V406.1 M479.3,542.4 V544.9 M498.9,408.6 V406.1 M498.9,542.4 V544.9 M518.5,408.6 V406.1 M518.5,542.4 V544.9 M538.1,408.6 V403.8 M538.1,542.4 V547.2 M557.7,408.6 V406.1 M557.7,542.4 V544.9 M577.3,408.6 V406.1 M577.3,542.4 V544.9 M596.9,408.6 V406.1 M596.9,542.4 V544.9 M616.5,408.6 V406.1 M616.5,542.4 V544.9 M636.1,408.6 V403.8 M636.1,542.4 V547.2 M48.2,408.6 H41.8 M636.1,408.6 H649.1 M48.2,430.9 H41.8 M636.1,430.9 H649.1 M48.2,453.2 H41.8 M636.1,453.2 H649.1 M48.2,475.5 H41.8 M636.1,475.5 H655.4 M48.2,497.8 H41.8 M636.1,497.8 H643.1 M48.2,520.1 H41.8 M636.1,520.1 H643.1 M48.2,542.4 H41.8 M636.1,542.4 H643.1" stroke="#222" stroke-width="1.1" fill="none"/>
<text x="39.9" y="412.5" text-anchor="end" textLength="21.4" lengthAdjust="spacingAndGlyphs">30m</text>
<text x="680" y="412.2" text-anchor="end" textLength="19.9" lengthAdjust="spacingAndGlyphs">98ft</text>
<text x="39.9" y="434.8" text-anchor="end" textLength="21.4" lengthAdjust="spacingAndGlyphs">20m</text>
<text x="680" y="434.5" text-anchor="end" textLength="19.9" lengthAdjust="spacingAndGlyphs">66ft</text>
<text x="39.9" y="457.1" text-anchor="end" textLength="21.4" lengthAdjust="spacingAndGlyphs">10m</text>
<text x="680" y="456.8" text-anchor="end" textLength="19.9" lengthAdjust="spacingAndGlyphs">33ft</text>
<text x="39.9" y="479.4" text-anchor="end" textLength="15.4" lengthAdjust="spacingAndGlyphs">0m</text>
<text x="680" y="479.1" text-anchor="end" textLength="13.6" lengthAdjust="spacingAndGlyphs">0ft</text>
<text x="39.9" y="501.7" text-anchor="end" textLength="27.9" lengthAdjust="spacingAndGlyphs">−10m</text>
<text x="680" y="501.4" text-anchor="end" textLength="26.5" lengthAdjust="spacingAndGlyphs">−33ft</text>
<text x="39.9" y="524" text-anchor="end" textLength="27.9" lengthAdjust="spacingAndGlyphs">−20m</text>
<text x="680" y="523.7" text-anchor="end" textLength="26.5" lengthAdjust="spacingAndGlyphs">−66ft</text>
<text x="39.9" y="546.3" text-anchor="end" textLength="27.9" lengthAdjust="spacingAndGlyphs">−30m</text>
<text x="680" y="546" text-anchor="end" textLength="26.5" lengthAdjust="spacingAndGlyphs">−98ft</text>
<text x="48.3" y="401.1" text-anchor="middle" textLength="13.5" lengthAdjust="spacingAndGlyphs">0ft</text>
<text x="148.4" y="401.1" text-anchor="middle" textLength="26.3" lengthAdjust="spacingAndGlyphs">246ft</text>
<text x="247" y="401.1" text-anchor="middle" textLength="26.3" lengthAdjust="spacingAndGlyphs">492ft</text>
<text x="345" y="401.1" text-anchor="middle" textLength="26.3" lengthAdjust="spacingAndGlyphs">738ft</text>
<text x="440" y="401.1" text-anchor="middle" textLength="26.3" lengthAdjust="spacingAndGlyphs">984ft</text>
<text x="539" y="401.1" text-anchor="middle" textLength="32.4" lengthAdjust="spacingAndGlyphs">1230ft</text>
<text x="638" y="401.1" text-anchor="middle" textLength="32.4" lengthAdjust="spacingAndGlyphs">1476ft</text>
<text x="48.4" y="557.3" text-anchor="middle" textLength="15.3" lengthAdjust="spacingAndGlyphs">0m</text>
<text x="149.6" y="557.3" text-anchor="middle" textLength="21.4" lengthAdjust="spacingAndGlyphs">75m</text>
<text x="247.5" y="557.3" text-anchor="middle" textLength="27.9" lengthAdjust="spacingAndGlyphs">150m</text>
<text x="345.3" y="557.3" text-anchor="middle" textLength="27.9" lengthAdjust="spacingAndGlyphs">225m</text>
<text x="442" y="557.3" text-anchor="middle" textLength="27.9" lengthAdjust="spacingAndGlyphs">300m</text>
<text x="540.3" y="557.3" text-anchor="middle" textLength="27.9" lengthAdjust="spacingAndGlyphs">375m</text>
<text x="638.2" y="557.3" text-anchor="middle" textLength="27.9" lengthAdjust="spacingAndGlyphs">450m</text>
</g>
</svg>
</body></html>
